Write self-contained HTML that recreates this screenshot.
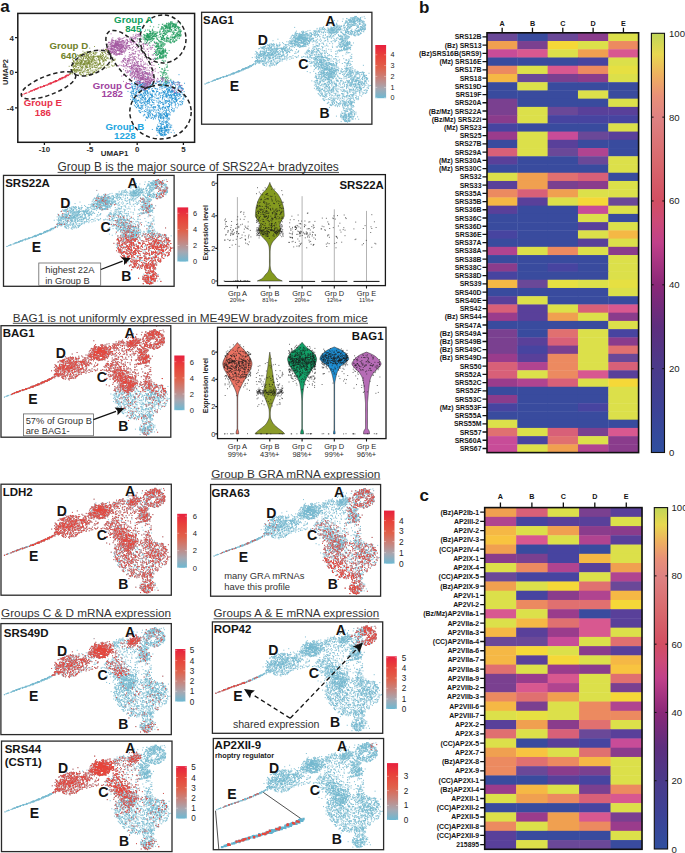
<!DOCTYPE html>
<html><head><meta charset="utf-8"><style>html,body{margin:0;padding:0;background:#fff;}svg{display:block;}</style></head>
<body><svg width="685" height="853" viewBox="0 0 685 853"><style>
text{font-family:"Liberation Sans",sans-serif;}
.hl{font-size:6.9px;font-weight:bold;fill:#141414;}
.hc{font-size:7.2px;font-weight:bold;fill:#141414;}
.panel{font-size:17px;font-weight:bold;fill:#141414;}
.cbl{font-size:9.6px;fill:#222;}
</style>
<defs><linearGradient id="cbg" x1="0" y1="1" x2="0" y2="0"><stop offset="0" stop-color="#2f4f9f"/><stop offset="0.1" stop-color="#3c4296"/><stop offset="0.2" stop-color="#4a3a8a"/><stop offset="0.3" stop-color="#5e2e7e"/><stop offset="0.4" stop-color="#8a2878"/><stop offset="0.5" stop-color="#c0408a"/><stop offset="0.55" stop-color="#cc4a78"/><stop offset="0.6" stop-color="#d24e62"/><stop offset="0.7" stop-color="#d86a6e"/><stop offset="0.8" stop-color="#de8282"/><stop offset="0.85" stop-color="#e89078"/><stop offset="0.9" stop-color="#eeb060"/><stop offset="0.95" stop-color="#e8d850"/><stop offset="1.0" stop-color="#c0d658"/></linearGradient><path id="dE0" d="M36.3 59.1h0m-20.6 7.1h0m2.6-0.8h0m6.6-2.2h0m-1.2 0.6h0m21.3-8.5h0m-6.6 2.7h0m-1.8 1h0m-15.1 5.6h0m-6.2 1.8h0m28.9-11.3h0m-14.2 6h0"/><path id="dE1" d="M42.3 56h0m-26.1 10.1h0m-5.8 2.5h0m1.4-1.1h0m22.3-7.5h0m-4.4 1h0m-7.7 3.4h0m21.4-8.8h0m-1.5 0.9h0m-5.1 1.6h0m-25 9.5h0m26.3-9.4h0"/><path id="dE2" d="M21.3 64.2h0m-17.9 6.9h0m13.6-5.3h0m20.5-7.7h0m-17.7 6.5h0m17.8-6.4h0m-5 2.4h0m7.5-3.6h0m-27.6 10.6h0m38.6-15h0m-0.6-0.3h0m-18.5 8.3h0"/><path id="dE3" d="M3.6 71.1h0m10.1-4h0m7.5-3.2h0m10.9-2.6h0m-3.7 1h0m21.3-9.1h0m-11.9 5.7h0m9-5h0m-37.5 14.9h0m35.9-13.5h0m-11.1 4.5h0m-2.6 0.9h0"/><path id="dE4" d="M43.1 55.7h0m3.4-1.2h0m-8.7 3.8h0m-14.3 5.2h0m7.9-2.8h0m5-1.8h0m-20.6 7.6h0m-10.3 3.7h0m14.3-5.5h0m6.2-1.9h0m15.2-6.4h0m-8.8 4h0"/><path id="dE5" d="M21.6 64.4h0m23.6-9.3h0m0 0.2h0m-6.4 2.8h0m8.1-4.3h0m-31.5 12.8h0m-8.9 3.3h0m10.4-4.2h0m27.6-10.7h0m-29.1 11.5h0m32.8-11.9h0m-4.9 2.1h0"/><path id="dE6" d="M19 65h0m21.8-8.6h0m6.5-2.5h0m-15.7 6.7h0m2.7-1.1h0m-7.6 3h0m23.1-9h0m-0.9-0.3h0m-33.5 13h0m26.5-9h0m0.2-0.8h0m-27 10.2h0"/><path id="dE7" d="M31.1 61.1h0m1.5-0.7h0m-19.3 7.2h0m34.4-13.5h0m-1.4 0.1h0m-2.5 1h0m-36.6 14.1h0m11.7-4.4h0m27.7-10.5h0m-18.3 7.5h0m1.3-0.4h0m-18.3 6.6h0"/><path id="dE8" d="M50.7 52.1h0m-4.2 3.3h0m1.7-2h0m0.3 0h0m-0.6-0.2h0m-36.6 14.7h0m10.9-4h0m15.5-5.2h0m2.4-0.6h0m-13 4.1h0m-5.1 1.7h0m26.5-11.2h0"/><path id="dE9" d="M36 58.6h0m-1.1 0.4h0m-19.8 7.6h0m26.2-10.2h0m-13.7 5.8h0m15.8-6.4h0m-7 3.4h0m-11.1 3.8h0m15.1-6h0m4.8-1.7h0m-5.2 1.7h0m10-4h0"/><path id="dE10" d="M17 65.9h0m8.7-2.9h0m11.1-4.7h0m-24.2 9.1h0m36.6-14.3h0m-17.4 7.4h0m-9.9 3.2h0m16.1-5h0m6.4-3.2h0m-18.8 7.3h0m-17.8 6.8h0"/><path id="dE11" d="M35.7 59.2h0m-22.2 8.1h0m11.6-4.3h0m18.9-7.3h0m-0.5-0.1h0m-36.5 14h0m36.3-13.7h0m-18.4 6.6h0m-0.1 0.7h0m15.4-5.9h0m6.7-2.8h0"/><path id="dE12" d="M6.2 69.9h0m19.1-6.7h0m-6.9 2.4h0m17.9-6.9h0m3.7-1.3h0m-35.1 13h0m37.2-13.9h0m-9.8 3.3h0m-0.7 0.9h0m12.9-5.5h0m-25.8 10.1h0"/><path id="dE13" d="M29.2 61.4h0m5.5-2.1h0m11.8-4.5h0m-15.4 5.4h0m-8.1 3.6h0m-4.2 1.7h0m-2.8 0.5h0m2.7-0.8h0m-3 1.1h0m9.9-3.5h0m-8 2.6h0"/><path id="dE14" d="M36.4 58.9h0m0.3-0.3h0m-3.7 1.9h0m-15.4 5.3h0m-1.3 0.2h0m17.4-6.3h0m3-1.3h0m-7.7 3.7h0m3.5-1.3h0m9-4.8h0m-10.4 5.4h0"/><path id="dE15" d="M30.6 60.9h0m-17.2 6.1h0m28.1-10.1h0m-17 6.6h0m-7.6 2.3h0m18-6h0m-24.6 8.7h0m31-12.2h0m5.8-2.2h0m-33.8 13h0m1.6-0.6h0"/><path id="dD0" d="M53.3 49h0m2.9 0h0m2.9-10.8h0m0.1 2.6h0m16.2-5.6h0m-9.4 4.8h0m7.9 2.7h0m0.3 2.9h0m3.5 3.4h0m-9-8.7h0m-1.1 5.3h0m-15.7 6.3h0m13.1-9.4h0m-1-6.5h0m-6.3 13.2h0m14.3-16.6h0m-11.2 16.3h0m9.5-9.4h0m-1.1-1.8h0m-0.4 12.9h0m5.5-2.1h0m-10-3h0m14.9-9.8h0m-1.1 12.9h0m-6.1-1.9h0m7.7-3.5h0m-3.3 0.7h0m-0.6-11.2h0m1.6 15.3h0m-19.5-12.1h0m4.6 6.1h0m-7.7-2.5h0m22.9 5h0m-8-3.2h0m14.6-0.4h0m4.7-3.1h0m-4.2-2.9h0m0.6 1h0m0.1 3.8h0m11-0.3h0"/><path id="dD1" d="M55.7 47.5h0m-1.5 1h0m14.9-2.5h0m-8.9-0.1h0m4.4-10.1h0m5.7 5.7h0m-1.9-6.7h0m2.8 5.1h0m-4 2.2h0m7.7-4.7h0m-19.9 3.1h0m16.7 6h0m-12-4.1h0m4.2 2.5h0m12.9-8.7h0m-18.8 11.5h0m13.3 2.5h0m-2.6-12.3h0m-8.5-1.8h0m5.8 7.2h0m16.8-7.7h0m-7.2 15.1h0m5.6-8.4h0m-1.3-5.4h0m4.8 7.5h0m-4-8.4h0m-6 2.6h0m-10.4 12h0m-0.5-3.2h0m-7.8-5.6h0m6.2 1.6h0m-2.8-0.9h0m2.1-1.4h0m16 5.2h0m-15.7-3.9h0m24.4-5.3h0m-1.9-0.3h0m5.7-6h0m-4.3 7.5h0m5.8 7.2h0"/><path id="dD2" d="M53.8 51.9h0m0.3-1.3h0m2.5-5.6h0m4.8-4.7h0m1.1 9.8h0m-4.5-5.2h0m16 1.3h0m-3.8-9.4h0m1.3 10.8h0m-5.1 0.7h0m2 5.7h0m15.5-15.7h0m2.2-1h0m-13.4 11.2h0m-0.9-17.2h0m9.9 4.7h0m-0.2-0.4h0m-8.4-1.4h0m-13.3 12h0m-2.5 0.1h0m12.2-15.1h0m-3 18.9h0m1.4-16.7h0m-10.3 16.5h0m5-15.7h0m12.5 1.6h0m-0.6 2h0m3.4 6h0m-8.6-5.1h0m-0.9 13.4h0m7.5-7.9h0m-12.8-3.6h0m-2.8-5.8h0m21.9 11.8h0m-12.1-4h0m19.2-10.7h0m-4.8 6.2h0m2.6-8.7h0m1.3 8.6h0m-0.5 6.1h0"/><path id="dD3" d="M51 51.8h0m3-3.9h0m8.4-9h0m9.8-1.4h0m2.2 1.1h0m-17 3.2h0m19.2-0.7h0m-20.2 6.7h0m13.5 0.8h0m18.2-2h0m-12.3-6.9h0m-22.3 1.8h0m13.7 3.3h0m-2-9.3h0m1.6 9.1h0m-4.6-10.1h0m2.2 18.8h0m4.7-11.7h0m-2.4-0.3h0m12.5 4.1h0m-11.7 7.7h0m3.7-10.9h0m-9.8-6.6h0m-4.1 6.7h0m1.6 1.4h0m11.7 2.4h0m2.2-5.4h0m-12.9 0.7h0m2.4-5.3h0m10.6 16.5h0m2.1-20.3h0m-4.7 8.5h0m-7.6-1h0m13.3 6.1h0m-15.7-6.9h0m23.1-2.7h0m-2.6 0.7h0m0.5 3.2h0m3.3-0.8h0m0.9 3.9h0"/><path id="dD4" d="M53.9 50h0m-0.5 1h0m21.1-13h0m-3.7-1.2h0m-11.2-1.6h0m4.3-1.9h0m-6.4 15.9h0m10.9-5.7h0m-7.6-0.5h0m8.4-0.1h0m7.1 6.9h0m-17.7-7.7h0m14.2-6.4h0m-11.2 3.7h0m-0.8 1.3h0m19.1 3.4h0m-12.1-10.5h0m12.3 1.7h0m-19.3 12.6h0m15.5-8.7h0m-2.8-2.4h0m5.1 7.1h0m3.3-4.7h0m3.9 1h0m-15 4.4h0m9.5 2.4h0m-11-15.5h0m6.1 19.1h0m-6.8-11.1h0m6.4-6.3h0m-16.7 7.2h0m3.9 4.4h0m0.4 7.9h0m-3.3-3.8h0m7.1 0.4h0m26.1-16.3h0m-8-0.9h0m-7.2 2.1h0m19.6 4h0m-2.4 6.2h0"/><path id="dD5" d="M54.7 47.9h0m-2.5 3.2h0m27.1-15.5h0m-22.3 0.6h0m8.4 6.4h0m4-0.1h0m-4.9-11.5h0m-9.6 12.7h0m12.9 2.2h0m12.5-7.4h0m-14 2.3h0m0.6-7.9h0m1 13.6h0m-8.4-0.2h0m13.9-2.8h0m-1.8 1h0m-1.6-12.3h0m8.3 3.4h0m-16.1 6h0m5.8 7.3h0m9.5-13h0m-16.7-1h0m-3.4 9.9h0m14.9 7h0m-5.3-4.1h0m7-10.4h0m-5.8-1h0m-5.6 5.1h0m6 9h0m1.1-15.8h0m-6.1 14.7h0m-1.4 2.6h0m19.3-9.3h0m-21-3.8h0m4.9-6h0m14.8 5.5h0m1.5-3.4h0m-0.3 6.3h0m8.6 4.5h0m6.7-2.6h0"/><path id="dD6" d="M54.8 47.9h0m10.2-10.4h0m6.2 2.7h0m11.4-3.2h0m-14.9 4.7h0m-0.9-1.3h0m3-5.8h0m-6.9 4.7h0m12-6.1h0m-13.8 11.2h0m17.4-2.5h0m-9-7.3h0m1.2 7.4h0m-9.4-7.6h0m-2 14.7h0m-3.8-9.2h0m14.4 2.4h0m5.9-5.1h0m-5.6 14.1h0m-10.5-3.8h0m-1.4 2.8h0m11.7 0.4h0m-9.1-8.6h0m21.3-5.6h0m-14.2 4.2h0m4.7-8.4h0m-8.8 1.6h0m5.1 15.2h0m7.2-4.2h0m-13.4-8.2h0m9.1 1.7h0m7.2-2.2h0m-9-0.3h0m-13.3 6.8h0m27.4-9.5h0m3.2-0.1h0m0 3h0m-4.2 1.6h0m11.5-0.7h0m2 1.8h0"/><path id="dD7" d="M56.4 48.8h0m31.6-12.5h0m-24.7 9.8h0m7.1-4.7h0m-10.7 2.5h0m4.8-5.5h0m-6.8 3.3h0m-7.1 3.2h0m11.2 0.4h0m9.3-7.9h0m2 1h0m-2.4 2.5h0m9.1-4.9h0m-6 4.2h0m-15-1.2h0m15.5 12.5h0m-4.8 1h0m5.3-1.7h0m-12.5-2.1h0m14.3-7.5h0m-10.4-6.1h0m4.4-3.1h0m5.3 18.3h0m-13.7-14.9h0m2.9 7.7h0m10-0.3h0m1.3 6.9h0m-14.8-2.1h0m6.3-14.1h0m-10.6 14.8h0m8.1-2.1h0m-1.7 0.9h0m19.1-1.8h0m-4 1.2h0m3.1-4.9h0m5.4-12.2h0m1.7-0.4h0m-1.5 7.3h0m8.6 8h0m-5.3-6.2h0"/><path id="dD8" d="M55 48.5h0m25.1-12.5h0m-12.1 9h0m1.8-3.1h0m-0.2 5.9h0m-3.8-7.7h0m12.2-2.2h0m-2.1 4.1h0m-14.2-5.5h0m-7.6 2.3h0m31.2 7.1h0m-19.3-3.6h0m2.6-2.8h0m2.8 2.3h0m-8.3 4.2h0m17.3-2.8h0m-22.6-0.5h0m12.5-3.3h0m-5.1 12.7h0m16.2-13h0m-12.4-1.3h0m-2 2.4h0m10.7-7.3h0m-4.2 12.4h0m-12.2-7h0m11.7 2.1h0m-10-5.6h0m11.9 5.5h0m-6.8 12.4h0m-2.1-20.6h0m14.5 4.3h0m1.9 9.9h0m-14-11.4h0m-10.2 13h0m25.5-11.7h0m5.1-2.4h0m-4.8-0.4h0m7.7 0.2h0m-5.8 8.3h0m-0.8-1.5h0"/><path id="dD9" d="M52 51.5h0m15.9-17.3h0m-1 3h0m15.3-3.5h0m0.6 4.1h0m-14.9-1.4h0m4.6 12.9h0m-8.7-6.2h0m13.3-0.9h0m-4.3-4.9h0m0.9 6.7h0m-10.1-3.7h0m14.3-9.9h0m-4.5 10.5h0m-18.6 5h0m13.1-14.2h0m12.9 11h0m-18.1-8.6h0m3.4 9h0m1.3-5.2h0m4.8 9.3h0m0.4-3.6h0m-3.9-1.3h0m-12.4 2.8h0m1.6-1.7h0m3.8 5.6h0m10-15.6h0m-12.7 8.9h0m-1.7 8.4h0m18-15.1h0m-20.3 6.8h0m26.2-2.8h0m-21.4 2.1h0m-1.3-2.3h0m25.4-4.5h0m5.4-3.9h0m-7.5 0.1h0m4.4 6.3h0m5 5.5h0m2.2 0.9h0"/><path id="dD10" d="M51.9 51.4h0m14.7-4.3h0m1.2-4.7h0m-12.5-1.9h0m7.2 2.7h0m8-1h0m10.3-3.7h0m-9.5-10.3h0m0.5 10.7h0m-4.2 4.3h0m-14.1 5.6h0m1.9-3.7h0m7.3-4.2h0m15.9 0.6h0m-4.9 4.5h0m-15.3 3h0m18.9-6.6h0m-15 4.2h0m20.2-3.2h0m-0.3-7.9h0m-7.5 16.6h0m8.6-16.4h0m-11.6 15.4h0m-16.7-5.6h0m9.4 5.5h0m5.1-3.2h0m-4.5-4.7h0m11-9.2h0m5.3 6.1h0m-2.8 0.1h0m1.3 3.6h0m0.6-4.6h0m-18.4-5.1h0m4.8 1.5h0m21.5-6h0m-1.2 1.7h0m2.6-0.9h0m0.9 3.9h0m-2.6 5.6h0m-0.8-0.9h0"/><path id="dD11" d="M53.9 48.6h0m6.1 0.6h0m14.9-13.1h0m-15.9 11.8h0m4-8h0m3.9 0.4h0m-1.7-3.5h0m2.9 7.9h0m8.1-5.8h0m-3.3 0.4h0m-5.4 5h0m17.5 3h0m-10.7-3.9h0m-2.3-0.3h0m-8.6-3.4h0m17.5 6.6h0m-19.3 4.8h0m-4.3-2.4h0m11.7-4.2h0m6.4-5.5h0m-6 9.4h0m-2.3-3h0m-2-7.5h0m12.7 6.2h0m2.2-7.5h0m-16.8-2.2h0m-6.9 6.6h0m-0.2 3.3h0m22.7-5.3h0m-8.3 2.1h0m-15.4 2.1h0m6.7 0.3h0m4.4-1.7h0m3.8-3.1h0m11.9-2.2h0m3.9 3h0m-2.1-1.3h0m4.8-7.4h0m-1.4 8.1h0m7.7 6h0"/><path id="dD12" d="M56.1 47.7h0m13.9-11h0m-3.7-2.3h0m7.5 1.7h0m-6.9 1.4h0m4-4h0m-7.3 11.7h0m12.1 3.1h0m0.3-12.5h0m-4.6 1.3h0m2 2.1h0m6.1 3.4h0m-1.9-10.3h0m-20.6 11.8h0m12.2-11.3h0m-2.7 2.9h0m-7 8.1h0m24 2.4h0m-21.7-11.1h0m9.1-2.7h0m3 17.7h0m9-6h0m-12.4-6.1h0m0.7-6.3h0m4 18.4h0m-3.8-5.4h0m-8.2 3.7h0m-0.9 2.2h0m2.5-7.2h0m3.3-6.8h0m6.7 8.8h0m-9.4 3.8h0m-3.3-7.9h0m12.6 0.6h0m9.6-6.9h0m5.6 2.4h0m-2.1-2.6h0m-1.8-2.7h0m0.3 12.9h0m7.3-5.7h0"/><path id="dD13" d="M54.7 50.3h0m9.4-9.4h0m8.3-5h0m-15.1 7.2h0m15.8-2.7h0m-0.8 1.8h0m-0.6-0.5h0m6-0.5h0m-15.6 3.4h0m2.5-6.5h0m-8.8 8.8h0m9.1 2.8h0m9.1-10.5h0m-7.3 4.2h0m-7.6-2.6h0m21.8-3.1h0m4.1 2.2h0m-23.4 12.4h0m19.3-5.6h0m-13.6-14.1h0m13.2 15.7h0m-10.5 1h0m5.4-12.9h0m-12.6 16.3h0m2.4-8.3h0m-2.5 3.8h0m14.5-15.6h0m3.9 10.5h0m-22.3-2.8h0m20.2 7.9h0m-12.5-12.3h0m12.1-3.6h0m-15.1 8.5h0m10.9-5.2h0m12.5-3.3h0m-1.6 1.7h0m5.4-2.3h0m-1.1-0.6h0m5.9 8.5h0m-5.5 4.7h0"/><path id="dD14" d="M55.9 47.2h0m11.6-7.5h0m-13.1 5.5h0m21.8-18.5h0m-6 14h0m0.9 2.5h0m4.3-6.6h0m-3.7 8.3h0m-7.9 1.5h0m13.5-6.7h0m-14.9 2.3h0m5.6-0.2h0m-4.1 3.9h0m0.7-6.3h0m18.4-1.4h0m-19.6 5.7h0m-8.5 0.1h0m27.4-1.5h0m-12.5-8.2h0m-0.2 1.1h0m-13.4 14.8h0m14.9 2.4h0m11.4-18.3h0m-25 11.5h0m10.9 0.3h0m-3.6-6.6h0m7 1h0m-10.9 11.1h0m2-13.8h0m12.2-0.6h0m9.3 1.4h0m-26.3 3.7h0m15.2-0.7h0m4 4.5h0m12.7-11.7h0m-6.7-2.2h0m6.2 4.7h0m-2.7 2h0m6.2 2.2h0m-4.4 3.2h0"/><path id="dD15" d="M55.8 48.6h0m5.9-6.4h0m13.7-9.1h0m-4 3.1h0m-9.6 3h0m1.3 2.9h0m5.8 3.3h0m-4.6-2.5h0m5.2-5.5h0m-7.1 4.5h0m1-0.3h0m2.9 1.4h0m-7.3-8.5h0m13.5 0.1h0m-11.6 14.2h0m-7.5-4.4h0m19.2-12.7h0m-3.8 4h0m2.6 9.1h0m-7.1-5.8h0m-5.7 0.3h0m2.2-3.5h0m-4.6 13.9h0m2.3-7.1h0m26.8 0.1h0m-16 0.3h0m-5.2 7.7h0m13.9-4.7h0m-4.1-6.3h0m-8.2 2.1h0m11-0.2h0m-6.3 10.8h0m-9.3-1.7h0m13.6-19.2h0m9.4 12.6h0m-0.2-12h0m8.7 2.8h0m-4-4.5h0m-0.9 9.1h0m6.5 1.2h0"/><path id="dC0" d="M101.2 26.6h0m-3.9-3.7h0m-1 6.4h0m14.3 0.1h0m-12-4.3h0m4.6 3.7h0m-11.3-3.8h0m6.5 9.4h0m0.8-10.3h0m2.8 0.9h0m-0.3 3.5h0m-0.6-7.7h0m-8.3 1.8h0m2.5 4.2h0m0.3 5.7h0m4.1-10.3h0m0.1 3.6h0m-6.9-10.8h0m-0.4 16.1h0m4.7 0.6h0m7-9.2h0m-11.3 2.7h0m-3.3 4.2h0m8.6-3.8h0m-3.1-2.3h0m6.7-4.3h0m5.2 9.9h0m-12.6-6.3h0m9 11.2h0m11 17.2h0m2.7 0.6h0m0.1-6.9h0m15.7 11.2h0m-3.7 7.6h0m4.6-13.8h0m-22.4-0.4h0m9.5 11.9h0m-14.6-20h0m3.7 8h0m3.3-3.8h0m12.2 7.9h0m-2.5-6.2h0m-5.9 8.4h0m9.9-4.1h0m7.4 3.6h0m-5.4 4h0m-4.3-2.2h0m-10.5-24.3h0m23.3 16.9h0m-32-8.9h0m24.5 14.2h0m-3-8.5h0m-0.6 6.6h0m2.5 11.3h0m-18.1-25.4h0m5-9.3h0m-1.7 10.7h0m-8.6 3.3h0m16.3 3.2h0m1.7 8.9h0m-2-17.2h0m2.5 12.5h0m-1.5 5.6h0m-11-11.3h0m0.6-16h0m5.1-6.4h0m10.2 19.2h0m-6.3-17.1h0m15.1 22.9h0m-16.6-5.9h0m-4.6-4.7h0m0.7-13h0m5.2-6.9h0m-5.3 2.3h0m5.4-2.8h0m23.5 42.1h0m-15.1 2.1h0m-9.2-3.2h0m6-1h0m33.9 12.2h0m-3.4 0h0"/><path id="dC1" d="M111.2 25.8h0m-6.3 0.9h0m-4.5-4.1h0m1.4 3.3h0m-0.4-3.2h0m-3.6 4.3h0m4-6.8h0m-2.1 3.5h0m-6.2-1.2h0m6.4 4h0m5.6-4.7h0m1.5 4.4h0m-14.4 3.2h0m-3-1.7h0m20.4-0.7h0m-3 1.8h0m-4.6 0.2h0m-6.1-2.6h0m-1.8 3.5h0m8.7 0.4h0m0.9 1.4h0m-10.8 0.9h0m2.3-6.8h0m5 0.3h0m3.4-6.8h0m1.9 10.9h0m-5-3.9h0m-7.2-6.5h0m4.7 11.5h0m30.7 20h0m-17.5-13.3h0m8 16.9h0m5.4 0.1h0m0-4.3h0m9.4 1h0m-12.9 5.7h0m2.3-13h0m-4 3.4h0m11.8 3.3h0m-2.9 5.8h0m-4.6-0.5h0m3.1 3.8h0m-7.1-17.5h0m-12.7 6.5h0m13.8 2.7h0m4.3-4h0m3.9 3h0m-2.1-4.3h0m-10.8 5.5h0m7.9-0.1h0m-7.9-10.5h0m-4 15.3h0m8.3-1.2h0m-3.1-8.6h0m12.3 17.4h0m-9.9-15.7h0m-6.1-19.8h0m0.8 12.6h0m5.5 9.1h0m-2 6.7h0m-2.1-9.5h0m-4.8-15.6h0m-2.1 8.5h0m3.7 6.2h0m12.3-27.4h0m-7.9 18.9h0m18.4 1.9h0m-6.4-14.8h0m-13.9 7.4h0m-0.5 0.4h0m10.9-6.5h0m-4.1 5.1h0m-10.3-12.2h0m7.7-2.7h0m-4.2 5.5h0m12.7 35.2h0m-4.5-0.2h0m24.8 0h0m-20.1-0.3h0m36.6 9.4h0m-7.3 1h0"/><path id="dC2" d="M95.8 29.8h0m9.5-4.3h0m-6.1 0.1h0m11.7 0.1h0m-12.8-2.8h0m-1.7 10.5h0m3.2-4.3h0m-0.2-6.4h0m8.8-2.6h0m-12.6 11.5h0m11.4-9.8h0m-9.2 2.4h0m14.2-3.5h0m-12.5 3.2h0m5.8-0.3h0m-8.2 6.4h0m3.2-6.1h0m4.5 3.9h0m-4.2-7.6h0m2.1 13.5h0m-4.9 1.1h0m4.3-6.1h0m7 0h0m-4.5-2.6h0m-13.7 3.1h0m18.2-4.9h0m-5.6 2.1h0m-2.8-0.8h0m19.9 14.9h0m-7.5-6.5h0m15.1 24.7h0m6.4-0.4h0m-21.4-7.3h0m8 5h0m-13.8-16.4h0m7.3-3.8h0m7.8 11.7h0m-12.8-7.3h0m-0.5 10h0m16.6 11.3h0m-25.9-17h0m29.5 16.6h0m5.9-4h0m-0.9-6.2h0m-6.4 3.5h0m-18.7-9.5h0m11.3 7.3h0m2.8-11.8h0m11 17.5h0m-32.7-14.1h0m20.9 11.5h0m-5.9-4.6h0m13.2 8.6h0m-4.7-7h0m-14.1-11.5h0m-4.7-3.4h0m8.3 8.4h0m-0.5 9.7h0m-2.3 3h0m21.8-14.6h0m-19.4 2.1h0m-3.8 4.3h0m2.2 3.1h0m6-26.9h0m16.5 11.8h0m-9 4.7h0m-9.9-20h0m9 1h0m-2.1 1.2h0m5.7-1.4h0m-7.8 6.7h0m1.8-4.4h0m-14.1-5.5h0m4.8-0.2h0m9.2-2.6h0m13.9 40h0m-0.4 1.3h0m2.9-1.5h0m-21 1.2h0m41.5 1.2h0m-0.3 1.8h0"/><path id="dC3" d="M94.2 31.6h0m12-3.2h0m-18.2 2.3h0m11.2-3h0m3.9-1.5h0m-1-4.2h0m-4.4 5.7h0m-1.9 0.9h0m12.1-1.4h0m-14.8 4.7h0m8.5-1.5h0m-6.8-7.2h0m9.7 3.3h0m-7.5 7.3h0m2.3-6.2h0m-2.9 3.6h0m0.1 1.9h0m6.1-6.4h0m-8.3-1.2h0m9.7 2.8h0m-1.6 2.6h0m-7-9.9h0m10.9 10h0m-2.2-7.3h0m-0.8 6.4h0m-4.5 3.4h0m5.7-12.4h0m-0.3 7.8h0m0 15.7h0m24.1 7.8h0m-11.9 4.5h0m1.6-25.7h0m10 32h0m-9.9-14.4h0m8.6 8.9h0m-10.7-19.6h0m-0.1 8.8h0m0.4 6.8h0m-2.6-7.9h0m5.6 4.1h0m-9.5-4.5h0m-9.4-0.9h0m34.3 6.4h0m-26.7-6.5h0m12.5 0.1h0m6.2 22.2h0m-8.7-17.4h0m9.8-3.4h0m-14.2 9.7h0m-0.8-16.3h0m14.6 23h0m4-10.2h0m-8.7-3.6h0m-3.1 1.4h0m-1.3-3.8h0m-7.2-6.6h0m7.4 14.5h0m-13.1-0.7h0m9.1-2.7h0m10.6 3.6h0m-1.4 2.6h0m-10.3-4.2h0m6.1 5.5h0m6.2-17.2h0m-4-18.1h0m-2.1 4.9h0m-9.4-0.6h0m7.2 8.8h0m20.6-1.8h0m-24.9-0.2h0m4.8-9.7h0m15 3h0m-15.9-8.2h0m-3.8-0.8h0m4.4-1.4h0m21.6 41.9h0m-14.9-2.9h0m3.7 0.2h0m-7.3-0.7h0m41.8 7.1h0m1.8 2.5h0"/><path id="dC4" d="M105.3 23.4h0m-1.8 4.2h0m-1.5-3.1h0m-0.1 6.7h0m-3-3.2h0m1.1 1h0m-5.4 3.2h0m1.8-6.8h0m0.5-2.7h0m7.4 2.6h0m-1.7-2.8h0m-5.9 4.5h0m-3-0.5h0m-1.1-2.6h0m0.7 0.1h0m4.6-0.1h0m0 1.8h0m5.9 5.3h0m-9.2-7.9h0m3.1 0.9h0m6.5 10h0m3.2-3h0m-10.4 3.1h0m-0.4-7.3h0m7.7 2.5h0m-6.7 2.9h0m-2 0.6h0m13.9-9h0m11.3 22.5h0m11.7 11.5h0m-3.2-0.4h0m-9.6-2.8h0m-8.1-5.6h0m21.1 11.2h0m-0.6-13.6h0m-12.3 2.9h0m3.1 4.3h0m0.7 12.9h0m-4.7-17.1h0m4.3 6.9h0m2.6-10.5h0m-11.2 2.2h0m1.6 3.2h0m3.1 8.4h0m-1-12.3h0m-12.8-9.7h0m20.6 27.4h0m-12.5-18.9h0m21 5.8h0m-27.8-13.3h0m14.7 8.6h0m7.4 12.9h0m0.3-9h0m-8.7-1.6h0m0.8-2.4h0m-7 7.5h0m3.3-2.8h0m0.3-2.1h0m2.5-12.1h0m-10.9 1.9h0m-0.3 8.8h0m9.2 0.8h0m-2.4-4.3h0m-1.8-14.6h0m11.9 3.2h0m1.9 9.3h0m1.4-4.1h0m-7.8-18.4h0m-0.1 10.4h0m-7.8-7.9h0m22.5 21.2h0m-13.8-15.5h0m-9.9-6.9h0m-2.9-1h0m5.3-1.8h0m21.6 38.4h0m-13.3-1.9h0m-3.4 5h0m24.2-4.5h0m17.7 4h0m-1.5 9.2h0"/><path id="dC5" d="M96.4 27.7h0m5.3-0.7h0m-8.1 6h0m7.1 1h0m-3.4-12.8h0m5.8 11.4h0m2.2-6.3h0m3.3 1.7h0m-2.7 3.7h0m-10.5-5.3h0m0.2-0.9h0m2.1-3.9h0m0.2 2.7h0m-1.8 7.2h0m3.7-6.2h0m-2.7-1.2h0m10.6 4.9h0m-13.9-3.2h0m9.3-0.8h0m-3.8-3.2h0m3 11.7h0m-1.5-12.5h0m-2.1 13.1h0m9.8-10.5h0m-7.8 7h0m-2.9-6.9h0m-0.6 8.6h0m10.7-7.8h0m8.1 28.9h0m16.4-1.6h0m-3.6-1.1h0m-10.1 15.4h0m6.1-15.1h0m0.9 6h0m2.4-5.4h0m-4.1-0.9h0m-9.2-4.3h0m5.4 24.8h0m5.2-18.6h0m6.6 8h0m-1.9-7.5h0m-12.4 1.1h0m11.2 6.4h0m1.1 2.4h0m-0.2-7.4h0m-4.7-0.6h0m2.6-0.9h0m-14.9-9h0m14.7 21.2h0m-10.3-15.6h0m9.1 2.3h0m-14.8-7.4h0m21.7 13.4h0m-14.8-9.3h0m5.8-1.4h0m4.6 3.4h0m5 6.1h0m-13.6-7.2h0m-5.1-0.6h0m1.9-6.4h0m13 11.9h0m-10.3-6.4h0m12 8.9h0m-16.4-21.6h0m11.6 0.3h0m-6-1.7h0m-1-1.2h0m-1.3 7.5h0m-4.1-13.7h0m8.7 5.9h0m10.2-4.5h0m-5.3-4.3h0m-9.7-5.9h0m-5.1 1.9h0m0.5-0.3h0m31.5 37.3h0m-22.2-1.2h0m5.8 0.5h0m-6.9-0.6h0m41.2 12.2h0m-6.4-0.9h0"/><path id="dC6" d="M99 23h0m2.3 6.8h0m0.2 0.1h0m-6.1-0.1h0m7.3-2.8h0m3.5-3.7h0m-16.3 1.1h0m14 3.2h0m-9.4-1.3h0m7.9 2.4h0m-2.4 1.9h0m-2.4-7h0m10.6-5.6h0m2.3 7.8h0m-16.2 3h0m6.3-1.9h0m1.4-2.3h0m-8.6 8.9h0m7.8-8.9h0m-3.3 2h0m9.9 2.1h0m-5.9-5.8h0m6.3 2.1h0m-0.3-1.7h0m-3.1-2h0m-10.2 0.3h0m14.5 6.2h0m-6.1 3.9h0m29.4 23.7h0m-12.2-5.4h0m10.1-5.8h0m-24.8 3.5h0m2.5-3.5h0m7.9 2.6h0m15.3 9.2h0m9.3-5.2h0m-16-11.2h0m-2 16h0m-16.9-3.1h0m7.1-10.3h0m19.2 17.7h0m-2 0.7h0m-12-21.4h0m9 25.4h0m-3.2 0h0m-17.9-11.7h0m2.3-13.9h0m21.2 7.3h0m2.8-0.4h0m-17.4 3.4h0m10.1 7h0m4.1 8.2h0m-19.6-21.7h0m-3.8 16h0m1.4-13.4h0m13.3-0.6h0m-10.9 6h0m21.5 1.6h0m-2.5 7.2h0m-14.2-17h0m3.2 11.5h0m2.5-9h0m6.1 20.8h0m0.3-36.7h0m1.1-4.4h0m-11.6 1.8h0m10.1-2.5h0m-11.8 10.4h0m9.1 4h0m4.9 8.7h0m-10-7.2h0m0.8-11.2h0m-1.1-8.9h0m-8.3 1h0m1.3 1.2h0m29.8 34.6h0m-14.6-1.1h0m-3.1 2.4h0m21-0.9h0m16.8 7.7h0m2.3 3.4h0"/><path id="dC7" d="M101.1 18.7h0m-3.1 14.4h0m8.4-9.7h0m-10.9 10.4h0m3.8-3.7h0m-1.1-8.1h0m7.4 9.7h0m-2.7-0.5h0m2.2-4.5h0m-3.5 3.1h0m-8.4-0.5h0m8.3 3.7h0m0.2-5.7h0m-6.1-1.7h0m3.2 4.8h0m0.5-5.9h0m12.5 1.3h0m-5.2 2.2h0m-6-4.4h0m-11.4 1.1h0m8.7 5.3h0m1.9-4.2h0m-0.1 8.1h0m-8.6-5.8h0m9.1-5.7h0m-2.2-1.7h0m-7.3 10.2h0m6.5-5.3h0m17.5 27h0m12.4 10.9h0m-0.9-20.4h0m-8.6 11.2h0m2.3 9.7h0m-11.4-19.7h0m-1.9-6.7h0m12.8 27.1h0m3.6-9.1h0m11.3-11.8h0m-17.6-0.1h0m15.5 10.1h0m-5.1 7.1h0m-11.7-11.1h0m-0.1 4.2h0m8.8 6.4h0m8.7 0.3h0m-3.8-3.7h0m1.3 4.6h0m-16.9-12.4h0m0.4-5.2h0m-1.5 8.7h0m13.8 2.6h0m1.2-5.3h0m2.2 7.3h0m-6.4-7.9h0m13 5.6h0m-16.4-4.6h0m2.8-5.7h0m-1.8-0.7h0m-2.1 2.7h0m3.2 0.3h0m12.7 3.2h0m-14.7-6.4h0m8 6.7h0m9-21.2h0m-20.9 8.6h0m14.6-4.3h0m4 0.7h0m-9.5 10.7h0m10.4-10.2h0m-5.5-5.4h0m3.6 16.6h0m3.4-8.2h0m-16.1-21.8h0m-2.9 0.3h0m-2.4 4.6h0m29.4 36.7h0m-24.3 0.5h0m13.4-1.9h0m-0.1 1h0m19.7 4.1h0m3.3 4.2h0"/><path id="dC8" d="M97 25.5h0m2.6 4.6h0m3.9-5.2h0m-5.7 1.7h0m7.3-5.1h0m-4.2 5.3h0m0.9 3.9h0m-1.2 2.4h0m8.8-10.4h0m-12.6 5.1h0m6.2 0.1h0m-0.5-3.1h0m-5.9 2.8h0m7.8-5.3h0m-5.1 3.1h0m-18.5 4.7h0m21.4-4.7h0m-8.7 2.8h0m6.2 0.4h0m-4.9 0.2h0m-0.9 0.5h0m7 4.4h0m-3.7-11.5h0m9.9 6h0m-9.1 4h0m-7.9-2.6h0m13-6.7h0m-0.7-3h0m22.6 29.7h0m-6.1 6.7h0m-2.4-14.2h0m-8.1 17.8h0m11.6-7.9h0m-1.3-1.8h0m6.3 1.1h0m2.5 5h0m-15.3-21.3h0m1.7 11.5h0m20 10.5h0m-12.6-2.7h0m-13.7-12.6h0m20 9.4h0m-5.5-2h0m-10.7-14.9h0m6.7 14h0m-6.5-11.7h0m13.4 16.5h0m-16.9-6.3h0m23.7 13.1h0m-15-15.9h0m-1.5 0.6h0m14.1 20.5h0m-10.3-24.4h0m6 16.3h0m3.3 7.3h0m-22.7-19.2h0m12.5 10h0m1.8-13.9h0m17.7 6.1h0m-14 0.7h0m-4 5.7h0m16.1 3.2h0m-26.6-3.5h0m13.9-10.7h0m-8.5-20.7h0m9.3 6.1h0m-7.2 10h0m6 0h0m-6.1-1.9h0m6.5 4.8h0m11.1-13h0m-8.5-2.3h0m-12.6-4.2h0m9.9-4.6h0m-6.2 1.2h0m14 40.7h0m-2.8-2.8h0m0.8 1.1h0m-3.2 4.5h0m27.6 1.2h0m-2.5-4.8h0"/><path id="dC9" d="M98.3 27.8h0m0.6-2.1h0m0.2 0.6h0m5.9 3.8h0m-8.5 2.6h0m16.9-8.3h0m-17.1 2h0m-1.8 0.1h0m7-4.9h0m-9.6 9h0m10.9 0.9h0m-12.5-8.5h0m13.8 3.2h0m3.7 4h0m-7.8-4.4h0m-10.1 3.3h0m1.5-6.1h0m6.9 4h0m1.1-2.2h0m7 3.6h0m-2.6-1.2h0m2.5-2.1h0m-12.7 1.7h0m-1.8-1.9h0m11.2 0.7h0m-7.8-4.2h0m12.3 4.8h0m-7.3-6.6h0m8.1 31.2h0m11-1.1h0m-1.1-2.1h0m11.3 12.8h0m-25-20.3h0m13.9 15.2h0m8.7-5.9h0m-3.8 15.4h0m1.8-12.7h0m6.4-1.3h0m-1.5 12.6h0m-6.1-9.5h0m-1.4 2.7h0m-0.7-11.6h0m-4.8 0.8h0m-2.7-4.1h0m-6.7-3.8h0m15.9 17.8h0m-2-10.7h0m6.2 11.7h0m4.8 0.9h0m-26.4-13h0m19.9 21.8h0m-5.6-11.2h0m-7.6-1.5h0m9.6 3.6h0m3-4.2h0m-0.4-7.9h0m4.7 15.6h0m-9-16.6h0m7.5 6.9h0m3.4-2.1h0m-6.1-2.3h0m8.8 6.5h0m-7.6 10.6h0m-14-40.8h0m4.3 10.5h0m-5.2-5.4h0m14.2 0.2h0m3.5 14.6h0m-6-14.7h0m10.5 13h0m-17.4-19h0m11.3 8.7h0m-18.5-7.9h0m2.8-4.9h0m1.8 0.4h0m11.7 39.9h0m-2.7 1.3h0m20-4h0m3.6 0.5h0m14.1 10.3h0m-10.3-7.3h0"/><path id="dC10" d="M93.6 29.7h0m16.1-6.1h0m-9.5 6.9h0m-6.6-4.2h0m12.7-3.7h0m-17.9 3.4h0m11.4 2h0m-7.6-1.5h0m17.6-4.5h0m-9.8 2.9h0m2.5 4.2h0m-11.2 1.5h0m10.8-2h0m-1.8 0.1h0m-4.5-3h0m9.7 0.7h0m-3.7 1.1h0m-2.9 1h0m-4.9-0.4h0m9.1 0.3h0m-10.3 3.8h0m13.7 0.4h0m-7.7 0.5h0m10.9-7.3h0m-15.2 5.9h0m-0.6-2h0m-0.4-1.3h0m-0.1 0.2h0m27.6 5.7h0m16 21.6h0m-16.5-1.2h0m-14.9-10.9h0m14.1 15.7h0m4.7-13.9h0m7.6 16.3h0m-18.9-16.7h0m17.9 17.6h0m-12.7-15.5h0m6.3 7.2h0m-2.2 6.4h0m-0.6-13.7h0m-17.2-7.8h0m11.3 10.7h0m-6-0.3h0m11.7-1.2h0m8.4 4.2h0m-10.3-7.4h0m1.2 7.9h0m-8.9-0.3h0m7.3-3.9h0m5.5 2.9h0m7.6 0.9h0m-6.7 6.8h0m10.4-5.4h0m-23-17.8h0m13.8 17.7h0m4 1h0m-5.5-10.7h0m-7.9 5.2h0m8 0.6h0m1.3-2.5h0m-16.7-6.9h0m0.4-1.5h0m20.3-8.2h0m-1.5-2.3h0m2-0.8h0m2.9 13.4h0m-19.2-8.5h0m0.2-2.8h0m8.4-7.7h0m-7.7-0.4h0m9 9.4h0m-3.1-17.2h0m-7.5 5.4h0m4.9-2.1h0m5.4 42.2h0m3.5-0.8h0m-2.8-3.5h0m14.5 0.5h0m21.9 5.5h0m2.4 0.9h0"/><path id="dC11" d="M98.2 24.4h0m-5.7 0.7h0m7.5 0.7h0m-7.6 2.4h0m0.7-2.9h0m6.2-3.4h0m-7 9.3h0m10.8 0h0m-15-3.2h0m17.8-0.1h0m-2.4 4.4h0m-7.9-4.9h0m-5.6 6.2h0m14.3-2.3h0m-0.6-3.2h0m-6.3-1.9h0m0.1-3.6h0m0.5 7.3h0m3.1-4.6h0m-7-0.9h0m-0.2 2.4h0m11.6 0.6h0m-13.6 0.9h0m2.2-7.1h0m8.9 4.3h0m-2-3.5h0m-12 6.6h0m5.2-8.1h0m33.2 29.3h0m-13.2 4.8h0m13.4 4.3h0m-5.7-8.8h0m12.8 6.9h0m-10.2 0.3h0m-12.4-10.5h0m17.1 14.7h0m-9.5-8.4h0m1.3-18.4h0m1.1 10.1h0m2.3 5.2h0m-20.7 3.9h0m23.1 2.1h0m0.1 5.2h0m-11.2-12.6h0m14.8 10.3h0m-27.3-18.2h0m27.4 19.2h0m-22.1-16.7h0m27.2 14h0m-0.5-6.3h0m-22-12.1h0m4.6 10.3h0m1.2 0.3h0m10.5 6.8h0m-10-6.2h0m8.1 4.1h0m-0.2 8.3h0m3.8-5.3h0m-12.9 3h0m0.5-8.3h0m9.1 10.3h0m-1.2 1.2h0m-13.1-19.2h0m21-18.2h0m2.4 11.5h0m0.5-13.4h0m-7.1 24.3h0m-13.2-17.1h0m13.6-7.6h0m4.1 4h0m-3.1 23.5h0m-14.3-23.5h0m2-12h0m-6.2 6.1h0m2-5.7h0m32.8 41.5h0m-7.8 2.1h0m-12.8-0.4h0m-3.4-3.7h0m31 11.4h0m2.5 2.3h0"/><path id="dC12" d="M91.8 23.5h0m7.4 10.9h0m-0.9-6.4h0m0.5-2.6h0m-2.8-4.1h0m-1.2 4.7h0m10.8-4.8h0m-9.5 5.9h0m3.9 6.3h0m-14.9-4.2h0m5.5 3.6h0m5.8-5.4h0m15.4 0.5h0m-16.9 3.7h0m10.1-12.3h0m-6.5 5.4h0m-6.6 1.9h0m8.7-1.4h0m4.3 4.6h0m-3 2.1h0m-0.5 1h0m6.9-6.5h0m-2.6-0.2h0m-5.6 1.7h0m7.5 1.9h0m-14.5-0.7h0m4.4-3.6h0m2.4 0h0m12.9 22.9h0m12.4 11.2h0m8.1-2.2h0m-22.4-21.7h0m13.5 27.1h0m-14.2-17.5h0m3.6 6.4h0m-9.7-10.1h0m-0.9 2.5h0m28.3 13.5h0m-4.1 1.2h0m-22-19.7h0m9.8 5.6h0m6.4 8h0m8.4-0.2h0m-4.1 1.9h0m-3.8-3.5h0m12 3.2h0m-8.3 0.9h0m-9-11.3h0m14.2 13.3h0m-14.4-4.5h0m3-5.3h0m12.5 14h0m-21.9-18.2h0m12.9 0.2h0m-5.4 0.9h0m1.2 8.6h0m-3.4-13.3h0m-3.7-1h0m3.1 13.2h0m5.5 5.8h0m-10-19.7h0m0.9 2.2h0m9 16h0m-1.1-34.2h0m-2 11.5h0m7.2 3.1h0m8.7-7.1h0m-18.7-1.4h0m2.1-5.6h0m7.4 22.8h0m9.2-17.3h0m-20.9 0.7h0m-4.4-6.9h0m10.4-6.2h0m3.5 0h0m24.1 40.3h0m-1 0h0m-23.7 5.1h0m39.6 5.7h0m-4.3-5.8h0"/><path id="dC13" d="M100.7 22.8h0m0.4 6.8h0m-6.5-4.1h0m1.2 0.2h0m3.1-3.8h0m2.2 3.7h0m-8.3 3.4h0m4.4-4.8h0m0.6 2.6h0m-5.1 4.8h0m5.3-5.9h0m8.2-2.9h0m-2.4-2.2h0m-6.7 3.5h0m0.1 1.3h0m-1.3-1.6h0m-3.3 7.2h0m6.1-6h0m0.3-2.4h0m2.6 10.8h0m6.4-7.7h0m-17.2-3.1h0m11.2 6.3h0m6.5-5.1h0m-0.2 3.6h0m-6-4h0m-0.9 10.8h0m-4.6-3.1h0m29.9 20.2h0m3.3 4.8h0m-8-3.1h0m8.1 6.6h0m1.4-1.4h0m-18.8-21.4h0m17.3 14.4h0m1.3 8.7h0m-0.7 0.1h0m-14.3-12.2h0m6.9 0.3h0m-7.4 1.9h0m0.9-11.8h0m8.2 24.4h0m1-5.8h0m-0.4 7.4h0m-16.2-22.7h0m18 15.6h0m-12.4-17h0m13.1 26.3h0m3.9-6.3h0m1.3-7.3h0m-25.1-10.4h0m6.3 4.8h0m7.2 7.4h0m5.7-3h0m-9-7.2h0m-12.1 8.1h0m10.9-10.6h0m-1.2 2h0m17.6 14.8h0m-10.9-7.3h0m7.3 10.7h0m-4.9-5.2h0m5.4-5.5h0m-14.2-14.5h0m5.7-17.3h0m1.6 24.7h0m2.1-17.5h0m9 19.8h0m-14.5-16h0m-8.6-3h0m17.7 9.5h0m-11.1-12.8h0m-1.8-4.7h0m5.5-2.5h0m-12.3 4.1h0m12.4 38.2h0m10.4-0.1h0m-9.4 0.2h0m39.5 7.6h0m2.7-0.1h0"/><path id="dC14" d="M100.5 30.2h0m-5.9-1.5h0m4.3-4.2h0m-2.9 4.5h0m-2.1 1.8h0m1.5-0.7h0m-0.7-11.4h0m-1.3 9.1h0m10.1 3.8h0m8.4-9.2h0m-18.5-1.6h0m3.8 3.1h0m1.2-0.2h0m1.5 1.9h0m0.2-0.9h0m5.5 0.7h0m1.6 10.1h0m-3.7-10.7h0m-7.6 1.9h0m-2-1.1h0m-0.4 3h0m9.5-4.2h0m6.3 2h0m-7.9-6.3h0m2.7 12.2h0m-8.3-6.4h0m-5.5 0.9h0m13.8 0.8h0m13.9 14.8h0m-1.7 11.2h0m13 3.7h0m-12.5-2.1h0m-1.7-11.4h0m5 8.3h0m12.6 8h0m-22.9-22.4h0m-2.3 11.1h0m5.8 2.1h0m8.8 6.9h0m-6.7-14.4h0m14.2 15.2h0m-9.8-16.4h0m-8.9 0.1h0m13.3 14.7h0m-2.3-5.5h0m-8.6-4.9h0m8 3.4h0m-1.5-5.7h0m-4.8 1.2h0m15.8 10.2h0m-0.2-1.4h0m4.6-5.2h0m-10.4 6.1h0m10-2.1h0m-22.4-1.7h0m8.4 4.1h0m4.3 0.6h0m-5.5-4.1h0m-9.8-12.7h0m14.6 25.5h0m-17.5-26.2h0m12.8 14.3h0m1.2-8.4h0m13-5.7h0m-4.2-13.2h0m-4.8 7.4h0m-10.7-8h0m22.8 6.3h0m-7.9 17.2h0m-6.5-8.2h0m1.9-2h0m-11.8-19.2h0m10-3.1h0m-5.5 3h0m-2-1.4h0m29.5 39.5h0m-22.3-1.7h0m6.4 3.3h0m27.3 0.6h0m-1.1 6.5h0"/><path id="dC15" d="M105.8 31.1h0m-1.7 1.2h0m-5.6-7.9h0m7.6-6.1h0m-10.1 8.6h0m0.4-1.7h0m7.3 1.1h0m-13 2.2h0m9.1 1.7h0m-0.1-4.7h0m-2.6-1.1h0m6.2-2.3h0m-6.2 8.4h0m-3.7-8.8h0m4 8h0m6.8-4.9h0m-0.6-1.2h0m-2.8 1.2h0m-8 3.5h0m10.5-6.6h0m-9 10.2h0m3.5-7.1h0m-4.5-1.3h0m6.6-4.3h0m-9.4 6.9h0m18 1.1h0m-11.3-2.3h0m5 3h0m30.1 28.4h0m-13.2-8.2h0m-13.7-8.5h0m21.2 6.4h0m-6.6 1.3h0m-11.3-4h0m20.3 18.4h0m2-3.3h0m-1-6.4h0m-3 8h0m-7.8-19.3h0m13.9 18.5h0m-11.2 4.6h0m1.9-10.4h0m3.4 12.1h0m-11.4-31.7h0m16.7 21.4h0m-17.1-1.3h0m12 2.9h0m-7.5-9.3h0m-7.4-5.4h0m0.9 5.5h0m5.6-4.3h0m3.3 10h0m1.5-1.5h0m-3 0h0m-1.7 1.1h0m10.4 1.8h0m-9.8 6.7h0m-5-22.6h0m15.6 22.8h0m-9.7-1.7h0m1.8-6.3h0m-3.7-9.4h0m9.7 18.4h0m-3.3-37.8h0m10.3 0.4h0m-14.9 11.1h0m-9.1-10.2h0m19.3 8.7h0m-13.1-3h0m16.8 15.8h0m-15.6-11h0m1.9-21.2h0m-3.2 2.9h0m2.4 1.6h0m1.5 0.4h0m0.4 40.1h0m8.4-4.2h0m2.1 3.2h0m16.8 3.3h0m6.6 2.6h0"/><path id="dA0" d="M134.7 15.2h0m1.9 1.8h0m-4.9-2.2h0m2.4 1.8h0m-1.3-2.4h0m-2.2 4.1h0m1-0.8h0m8.2-3.3h0m-8-1.5h0m0 4.2h0m4.2-2.4h0m-9.6 9.1h0m36.7-10.8h0m-19-3.8h0m16.2 7.5h0m-18.4-3.1h0m3 2.7h0m12.5-4.9h0m-2.6 2.4h0m5 3.2h0m-4-4.4h0m-8.3 2.3h0m9.3 0.5h0m-4.3 5.6h0m-4.6-12.4h0m-2.1 9h0m6.3-8.1h0m3.8 13.2h0m-2.8 0.8h0m6.3-15.4h0m-13.9 12.8h0m10-12.7h0m-4.6-2.9h0m3.9 1.5h0m2.8 1h0m-18.5 30.1h0m6-6.2h0m-5.1-6.8h0m5.2 1.3h0m-2 9.9h0m2.3-5.7h0m-3.6 0h0m2.3 6.8h0m-5.9-12.9h0m3.6 3.9h0m5.9 1h0m-3.7 8.5h0m-7.7-11.8h0m8.9 5.4h0m-2.4 22.4h0m5.2-4.9h0m2.2 9.6h0m-4.3-17.8h0"/><path id="dA1" d="M129.1 19.7h0m-1.3-1.6h0m1.7 2.1h0m-0.9 0.2h0m9.7-5.6h0m-1.9 2.9h0m-5.3-2.4h0m-10 8.1h0m11.9-3.3h0m-0.3 1.6h0m-1.3-3.2h0m-11.5 0.9h0m39.7-1.3h0m1.3-2.4h0m-3.6 3.4h0m-8-9.7h0m-5.9 5.1h0m4.5-2h0m11.3 2.8h0m-11.2-5.2h0m5.9 1.1h0m8.2 0.6h0m-2.2 2.2h0m-14.8-4.1h0m15.8 5.9h0m-5-0.5h0m-2.9-10.2h0m3.1 1.3h0m-6.3 7h0m0.1-1h0m5.1 9.1h0m-2.9-12.9h0m1.2 2.1h0m-8.1-4.5h0m12 2.2h0m-17.8 26.6h0m2.6-2.8h0m-0.8-4.1h0m-4.5-5.1h0m5.9 11.7h0m1.8-0.3h0m-4.6-7.8h0m-1 5.3h0m11.2 1h0m-11.9-1.7h0m5.1 2h0m-1.3 2.2h0m-2.8-12.5h0m4.1 9.6h0m6.2 26.9h0m-3.4-8.1h0m2.8 3.7h0m-4.1 6.8h0"/><path id="dA2" d="M133.2 20.1h0m-4.2-1.7h0m4.6 3.8h0m-10.6-3h0m6.8-0.8h0m1.1-0.6h0m4.4-3.6h0m-5.8 3.2h0m1.6 3.5h0m2.3-1.5h0m-9.8 3h0m9.5-9.5h0m14.9-4.5h0m1.3 11.2h0m9.5 1.3h0m-10.3-8.4h0m11.4 6.5h0m-0.5 1.8h0m2.5-5.2h0m-16.3-0.7h0m1 5.9h0m6-8.4h0m4.1 1.4h0m5.5 0.6h0m-5.6-8.2h0m-4.3 12.8h0m5-1.1h0m-1.6 2.6h0m-4.8-13.7h0m6.1 12.1h0m6-6.3h0m-19.4-2.2h0m5.5-5.1h0m2.6 0h0m11.4 0.8h0m-14.4 30.9h0m-5.1-8.3h0m2.2 8.6h0m-8.3-10.4h0m3.4-5.9h0m2.1 12.6h0m-5 1h0m2.8-3.8h0m2.5 6.2h0m-0.1-7h0m-2.4-3.2h0m1.2 10.4h0m2.6-17.3h0m3.7 40.6h0m0.8-4.3h0m-2-9.6h0m-2 8.9h0m-2.3 2.7h0"/><path id="dA3" d="M134.5 14.7h0m0.3-2.9h0m-7.1-0.2h0m1.8 4h0m0.4 5.6h0m9.4-8h0m-4.5-2.4h0m3.9 3.6h0m-3.9 3.3h0m1.3-4.5h0m-2.4 5.3h0m1.9 1.4h0m7.7-9.3h0m13-3.7h0m-6.9 4.6h0m8.9 8.6h0m-6.8-10.9h0m9.3 6.1h0m-3.2-4.5h0m-9.5-3h0m-1.4 11.6h0m-2.4-9.3h0m5.4 8.8h0m7.2 3.2h0m-8.2-0.8h0m9.5-5.6h0m-10.9-5.3h0m10.2-3.5h0m-11.5 7.7h0m8.5 1.4h0m-2.8-3.1h0m-5.9-3.5h0m8.6-5.3h0m4.2 1.1h0m-0.3 3.5h0m-14.3 25h0m-3.8-8.4h0m5 6.7h0m-0.4-9.3h0m6.8 7.7h0m-8.5-7.7h0m4.3 12.7h0m-7.9-11.7h0m-1.4 6.5h0m0.5-4.4h0m10.5 6.6h0m-8.3-7h0m1.7 6h0m6.7 20.4h0m-1.3-11.8h0m-1.2 8.7h0m2.7-3.3h0m0.8 8.5h0"/><path id="dA4" d="M130.6 17.5h0m6.6-3.1h0m-7.2 4.3h0m1.5-3.2h0m4.7 4h0m-1.9 1.7h0m-7 0.6h0m9.7-6.1h0m-7.1 0.8h0m10.3 0.2h0m-13.9 0.3h0m1.4 2.4h0m21 1.1h0m-1.7-0.7h0m0.3 2h0m16-4.7h0m-10-9.6h0m8.6 11.9h0m-9.2-13.2h0m-7.7 12.1h0m-1.3-7.6h0m3.8 11.1h0m4.8-8.7h0m4.3-6.8h0m-1.1 12.5h0m8.2-6.6h0m-4.6-0.3h0m-7.8-3.6h0m6.7 9.7h0m-9.9-2.3h0m-0.8-2h0m5-3.7h0m-11.1-3.4h0m19.9 3h0m-7.9-3.2h0m-9 18.4h0m-0.8 9h0m0.9 2.8h0m-0.1-13.7h0m4.2 12.6h0m-2.4-4.1h0m-2.4-11.1h0m-4 13.6h0m-1.9 4.7h0m8-6h0m-0.1 4h0m0-1.1h0m-2.6-2.5h0m2.6 17.3h0m-1.5-8.9h0m4.4 9.9h0m-3.5 1.6h0m1.7-2.7h0"/><path id="dA5" d="M123.9 17h0m14.9-0.8h0m-5.6 0.9h0m-4.1 6.4h0m4.5-9h0m-2.2-3h0m-1.2 4.4h0m-1.8 4.1h0m2-1.9h0m5-4.4h0m-6.4 5.4h0m-2.2 1.5h0m26-0.4h0m0.7-2.2h0m8.5-5.1h0m-14.4 2.6h0m15.3-2.1h0m-12.4 6h0m7.5-2.7h0m-9.2-1.5h0m13.3 1.5h0m-19.7-4.1h0m8.4 0.6h0m10.3-0.9h0m-8.1-3.8h0m3-1.4h0m-6.4 15.2h0m7-4.4h0m0.3-0.7h0m3.8-4.3h0m-2-6.2h0m-6.3-1.2h0m-3.6 1.5h0m-1.2 0.9h0m7-3.5h0m-9 27.9h0m0.4 3.2h0m-3.6-5.7h0m3.9 4.4h0m-0.3-5h0m-2.1-2.6h0m3.8 4.1h0m-5.1 2.6h0m-4 4.7h0m4.1-15.9h0m3.4 2.6h0m-4.4 11.1h0m3.9-7h0m-1.3 26.2h0m3.8 4.3h0m0.3-6.8h0m1.6 4.8h0m-1.8-0.8h0"/><path id="dA6" d="M134.5 11.7h0m3.2 5.4h0m-9 5.6h0m7.3-3.2h0m-4.5 0.6h0m1.4-4.2h0m-0.5-1.8h0m-2.7 7.6h0m4.7-3.9h0m1.4-0.4h0m-3.7 0.4h0m0.1 0.2h0m23 0.9h0m-6.1-13h0m1.7 1.3h0m0.8 1.9h0m5.9 2.7h0m-0.8-6h0m-12 10.9h0m10.4-9.4h0m3.5 9h0m-7.6-3.5h0m-4.2 6.8h0m-4.5-3.9h0m20-6.1h0m-7.7 6.4h0m0.9-10.5h0m2.8 5.8h0m-9-1.8h0m9.3 4.6h0m-12.4 2.5h0m11.4-8.6h0m-8.1 0.4h0m8.7-1.2h0m-17.8 26.7h0m1.3-5.6h0m-5.8 10.2h0m10.3-5.4h0m0.2-3.2h0m-1-5.4h0m-2.3 12.6h0m-1.1-5.1h0m2-6.4h0m1.9-2.3h0m-2.6 4.9h0m1.9 2.1h0m-4.6 7.7h0m-2.6-10.8h0m6.8 27.1h0m5.6 5.1h0m-4.8-8.7h0m0.8 4.5h0m0.5-4.1h0"/><path id="dA7" d="M136.3 16.7h0m0.2-0.8h0m-7.7 4.5h0m3.7-0.4h0m-0.4 5.9h0m-0.2-5.4h0m-2-9h0m6.2 4.7h0m-5.9 2h0m0.8 6.2h0m10.3-6.2h0m-2.8-1.5h0m11.3 4.3h0m1.3 1.1h0m12.3-5.6h0m-14.2-7.5h0m11.6 1.6h0m-10 10.2h0m7.4-14.7h0m1 4h0m-13.1 0.1h0m16.8 1.1h0m-1.4 2.7h0m-5.6 0.6h0m-10.3 2.2h0m6.4-6.3h0m-1.3 8.9h0m4.5-10.8h0m-4.7 3.5h0m-5.6-3.4h0m2.6 6.6h0m5.3-7.5h0m-1.6-1.5h0m-4.8 1.6h0m-8.6 24.3h0m1.7-2.6h0m-1 3.1h0m2.5-8.1h0m-2.8 1.9h0m6.5 9.7h0m1.7-0.1h0m-7.6-9h0m5.6 5.5h0m-4.3-12.3h0m3.8 5.7h0m-1 0.3h0m1.7 3.8h0m-4-3.6h0m3.9 13.2h0m0.5 7.9h0m4.9-2.1h0m1.2 10.4h0m-6.6-4.9h0"/><path id="dA8" d="M131.1 19.1h0m-3.2 1.4h0m1-5.8h0m7.3 4.8h0m-6.4-3.2h0m3.7-0.2h0m-4.7 0.4h0m6.1 1.6h0m-2.9-5.5h0m2.1 3.4h0m-6.5 0.9h0m11 0.2h0m23.6 0.8h0m-4-9.2h0m-4.9 9.9h0m0.6-12.7h0m-7.5 1.5h0m6 0.7h0m-3-2.4h0m2.6 4.3h0m-5.6 1.7h0m12.2-4.6h0m2.3 3h0m-7.1-4.7h0m-10.1 13.5h0m1.7-8h0m11 10.4h0m-13.9-6.1h0m13.1-5.4h0m-9.9 4.9h0m8.9 3.9h0m2.7-9.2h0m-7.3-0.4h0m12.3-4.6h0m-21.8 19.5h0m0.7 4.6h0m7.6 6.1h0m-10.6-10.6h0m4.7 4.6h0m5.1 6h0m-3.2-7.3h0m-8.9 6.4h0m3.5-8h0m-0.1 5.5h0m-0.8-1.4h0m5.5 1.3h0m1.1-7h0m0.2 6.7h0m-1.3 16.6h0m-1.4 2.5h0m2.3 5.9h0m1.6-15.8h0m0 10h0"/><path id="dA9" d="M134.6 19.9h0m1.9 2.1h0m-0.6-13.4h0m6.6 4.6h0m-4.9 4.5h0m-1.5-0.4h0m-1.3 1.7h0m-3.8 1.3h0m-3.8-3.7h0m6.1 3h0m6.2-5.6h0m-13.4 6.1h0m29.1-14.5h0m5.5 11.5h0m-11.1-3h0m4.4-1.7h0m1.9 2.7h0m-0.8 7.1h0m-11.1-13.7h0m8.8 1.9h0m3.5 8.2h0m7.4-5.6h0m-6.9 9.6h0m-7.2-4.4h0m8.2-6.4h0m-6.1 10.8h0m-2.9-9.1h0m9.1-4.5h0m-6 12.7h0m4.9-3.8h0m-3.8-8.3h0m0.4-5.4h0m3.7 5.4h0m-2-1.9h0m-13.8 25.7h0m1.2 1.8h0m2-10.7h0m-3.2 2.1h0m4 4.7h0m-3.5 4.1h0m-2-6.6h0m2.5 4.2h0m-3.1 2h0m1.4-7.4h0m5.8-1.8h0m2.9 7.2h0m-5.8-8.9h0m2.7 6.2h0m5.1 30.1h0m-4-12.8h0m-1.6 5.4h0m2.5 1.9h0m0.1 4.9h0"/><path id="dA10" d="M129.2 17.5h0m-7.6 2.5h0m6.1-0.1h0m4.9-2.9h0m-1.4-0.1h0m1.1 1.2h0m-3.5 5h0m2.2-3.6h0m-0.6-2.4h0m7.1 0.2h0m2.1 2.3h0m-6.9-6.7h0m29.9 4.1h0m-14.3-7.3h0m14.7 4.4h0m0.5 1.4h0m-5-8.7h0m4.4 8.2h0m-20.5-3.4h0m6.6-4h0m13.1 1.7h0m-17 7.6h0m13 0.7h0m-11.8 1.5h0m-0.3-7.6h0m7.3 5.8h0m-6.2-9.2h0m3.4 11.5h0m4.7-1.9h0m-8.7-6.8h0m13.6-2.4h0m-9.9-0.7h0m5.6-7.4h0m-4.1 6.4h0m-9.3 16.8h0m6.7-1.4h0m-5.4 9.4h0m-1.6-5.2h0m0.5-0.7h0m-5.8 7.4h0m6.5-8.2h0m-0.2 2.4h0m-2.9-1.2h0m3.6 6.7h0m3.8-1.1h0m-6.8 2h0m-0.8 3.6h0m2.5-1.4h0m5 17h0m-1.7 9.4h0m4-18.5h0m0.1-2.1h0m-1.7 16.3h0"/><path id="dA11" d="M131.7 22.9h0m3.6-10.4h0m-5 7.5h0m-16.8-0.8h0m20.8-0.1h0m-1.9-2.9h0m-5.5-3.3h0m0.2 6.3h0m2.5-3.6h0m9.1 4h0m-9.9-2h0m9.2-2h0m17.6 4.8h0m-9.8-8.2h0m14 2.3h0m-16.5 0.9h0m6 3.4h0m-2.7-4.8h0m12 3h0m-10.5-4.7h0m-0.9-0.1h0m6.6 11.1h0m-1.4-17.5h0m-5.9 6.9h0m9.3 1.6h0m-8.8 0.4h0m-1.5-1.8h0m-2.5 4.9h0m13.5-11.1h0m-11.4 10.2h0m7.3-10.4h0m8.8 2h0m-13.9-1.6h0m3.4 3h0m-11 26.8h0m0.6-13h0m-0.6 5h0m-0.4-1.4h0m3.7 9.3h0m-1.8-7.9h0m6.7 3.1h0m-4.1-3.2h0m2.4-7.8h0m-0.3 10.9h0m-6.2 6.5h0m7.1-6.5h0m-5.2-9.4h0m6.3 8.2h0m-4.1 19.6h0m1.3 1.9h0m2.6 7h0m0.7-15.6h0m0.4 2.4h0"/><path id="dA12" d="M135 13.5h0m-2.9 10h0m-1.6-7.1h0m1.6 2.7h0m2.8-3.6h0m-5.6 2.8h0m-7.8 7h0m11.3-10.5h0m2.2 2.4h0m-9.7 0.9h0m6-3h0m1.3-0.5h0m14.5 1.6h0m2.8-6.2h0m1.7 1.5h0m6-4.3h0m-12.6 5.9h0m3.3-2.6h0m7 2.9h0m-10.9-4.4h0m4.3 10.9h0m4.4-6.8h0m-8.5 7h0m3.7-13h0m-2.6 11.7h0m13-1.6h0m-7.7 1.7h0m0.5-7h0m1.6 10h0m-1.9-12.1h0m-6.5-3.5h0m7.1 3.9h0m1.5-6.1h0m2 1.4h0m-18.2 17.8h0m9.3 11.6h0m-4.9-4h0m2.9 2.6h0m-1.6-0.9h0m-0.4 0.2h0m2.8-2.9h0m0.4-3.4h0m-5.9 3.2h0m0.6 2.8h0m2.1 5.2h0m-0.7-6.2h0m-3.7 0.4h0m0.9-5.2h0m11.2 28.4h0m-1.4 3.7h0m-3.5-19.5h0m-3.3 6.7h0m-1-2.9h0"/><path id="dA13" d="M129.1 16.1h0m8.2-3.2h0m4.2 0.6h0m-11.8 7.9h0m4.6-2.3h0m-8.4-3.5h0m4.6 0.3h0m-1.4 0.8h0m-5.3 3.4h0m3.4-0.9h0m-0.6-1.2h0m5.6 0.2h0m24.9 0.6h0m4.3 0.1h0m-16.6 1.3h0m6-11.5h0m-8 8.6h0m6.1-8.8h0m11.1 6.8h0m-6.2-3.7h0m-3.7 0h0m7.8-0.1h0m-12 6h0m15.7-6.5h0m-2 6h0m1.1-3.5h0m-1.5 1.3h0m-6.6-3.6h0m-7.1 7.8h0m7.1 4.1h0m0-16.1h0m-0.9 0.6h0m7.7 0.7h0m0.7-3.5h0m-18.5 16.9h0m-3.2 1.1h0m0.6 10.4h0m6.2-0.2h0m-0.5 1.6h0m1.4 1.8h0m2-1.5h0m-1.5-11h0m-1.8 7.2h0m2.9 5h0m-7.1-2.1h0m4.6-0.6h0m-0.6 2.9h0m-0.4-3.8h0m3.6 25.9h0m5.4-1.5h0m-5.1-6.3h0m-2.1 6.1h0"/><path id="dA14" d="M131.5 18h0m7.6 0.4h0m-9.4-3.6h0m7.5-0.4h0m-4.7-6.3h0m5 6.8h0m-10.5 0.8h0m7.4-1.2h0m-6.7 9.3h0m11.3-6.8h0m-3.7-2h0m26.6 1.5h0m-18 1.7h0m8.9 4.4h0m0.4-2.3h0m0.8-0.3h0m-10-0.5h0m-1.9-4.1h0m13.4 3.2h0m1.5 0h0m1.3-11.8h0m-11.1 12.4h0m-1.8-0.5h0m13.2 2.6h0m-1.4-11.9h0m-8.3 8.7h0m7.6-4.7h0m4.6 3.8h0m-5.9 1.1h0m-6.2-9.6h0m3.6 0.5h0m0.5-4.9h0m-3.9 3.7h0m6.5 0.1h0m-15.4 23.5h0m8-1.4h0m-10.5 7.3h0m11.3-15.9h0m-6 11.9h0m4.5-9.2h0m-6.6 8.1h0m6.8-1.2h0m-3.2 5.9h0m3.7-1.8h0m-4.6-13.2h0m4 7.6h0m-6.6-8.3h0m5.5 9.3h0m0.5 31.6h0m3.2-13.5h0m-2.2 6.4h0m-2.6 0.7h0"/><path id="dA15" d="M140.6 9h0m-5.2 8.3h0m-7 3.1h0m11.4-0.4h0m-13.2-3.2h0m4.7 0.4h0m6.6-2h0m-3 5.7h0m-5.8-3.7h0m-2.7 1.2h0m3.8-1.8h0m24.9-8.1h0m6.9 7.9h0m-5.1 6h0m-6.8-3.3h0m-2.9-11.8h0m8.3 0.9h0m-5.5 8.6h0m10.2-7.6h0m-12.5 0h0m13.2 0.1h0m-8.1 11.3h0m10.4-4.4h0m-9.6-7.1h0m7 6.5h0m-16.5 3.4h0m4.7-4.9h0m1.7-7.2h0m3.8 4.4h0m3.5 10.4h0m-3.4-13.5h0m2.7 0.4h0m-6.5-2.6h0m7.7 2.4h0m-15.9 14.2h0m3.9 9.7h0m-2.9-11.6h0m-1.7 16.1h0m3.6-1.5h0m-4.6-6.5h0m6.4-3.8h0m-8.9 13.5h0m6.9-10.1h0m-1.3-8.3h0m-3.6 10.1h0m-1.3-6h0m-0.7 9.7h0m2.2-5.4h0m7.3 28.8h0m1.4 3.8h0m-2.5-12.4h0m-2.1-1.6h0"/><path id="dB0" d="M147.8 61.9h0m16.5 2.8h0m-33.2 0.7h0m28.5 10.7h0m-34.3-6.6h0m15.5-7.9h0m-13.8 28.1h0m37-17.1h0m-7.3-2.7h0m-28.5 10.2h0m16.9-1.6h0m-9.8-10.8h0m13.8 10.5h0m8.9 0.4h0m-28.3-2.1h0m27 9.5h0m-32.8-3.5h0m27.9-18.2h0m2.2-5.8h0m-22 27.1h0m23.4 0.1h0m-14.6 5.6h0m-5-23.4h0m15.7 8.7h0m9.7-17.2h0m-45.9 14.6h0m19.8 11.3h0m-15.1-26.4h0m33.9 25.7h0m-15.3-15.4h0m-7.2-5.4h0m-1.2 21.1h0m1.9-6.8h0m5.4-8h0m19.1 13.8h0m-14.5-19.6h0m9.9 16.7h0m-3.1-8h0m-2.6 0.1h0m7.2-1.6h0m-19.7 0.3h0m30.4-6.4h0m-34.1 23.9h0m4 2.4h0m3.1-20.6h0m13.7-0.1h0m-17.1 5.3h0m17.2-11.6h0m-17.5 6.2h0m-0.9-11.7h0m-7.8 5.3h0m-3-1.4h0m5.3 16.1h0m-5.1-17.1h0m2.4 9.3h0m3.3 23h0m34.1-31.7h0m-2 8.6h0m-10.9 0.2h0m8.6 6h0m-5.8-1.2h0m9.8-23.7h0m-6.3 21.8h0m-11.9 33.8h0m4-4.3h0m1.9-8h0m1.6 7h0m-6.1 5.1h0m-1.9-10.1h0m2.9 11.1h0m11.1-2.9h0m-13.1 0.4h0m-1.4 0.5h0m7.8-1.5h0m-5.1-15h0m-2 0.1h0m0-1.5h0"/><path id="dB1" d="M124.2 82.2h0m28.4-8.1h0m-1.4 5.6h0m-22.2 11.6h0m4.3 1.2h0m29.4-30h0m-47.5-0.5h0m29 3.6h0m-14.6 13.9h0m11.1 12.9h0m22.8-11.9h0m-12.2-8.5h0m-25-3.5h0m6.6-4.4h0m-5.2 4.1h0m22.7-1.7h0m-22.6 10.2h0m-7-0.6h0m45.4-1.7h0m-13.1-12.1h0m-31.9 6.6h0m17.5 19.9h0m10.3-25.8h0m3.4 11h0m-12.5-8.1h0m-12.6 5.9h0m14.6-9h0m-6.9 12.5h0m21-14.5h0m-28.4 12.9h0m17.9 6.4h0m-7.8 13h0m11.6-7.6h0m-15.4-4.1h0m19-10.6h0m-36.6 5.3h0m47.6 0.7h0m-2.5 3.5h0m-42.5-7.6h0m36.8-14.2h0m-17.7 23.8h0m9.7-14.1h0m-0.3 10.8h0m-3.5-19.8h0m-12.2 28.7h0m-11-6.9h0m5.7-6.2h0m-2.6 6.3h0m4 5.4h0m-4.9-26.4h0m0.4 1.5h0m-7.8 6.2h0m7.3-4h0m-1.6 8.4h0m6-5.2h0m-1.5 6.7h0m28.6-5.9h0m8.5 3.1h0m-0.7-0.5h0m-12.3 2.5h0m9.3-2.9h0m-13.6 1.2h0m18.4-2.2h0m-13.6 30.2h0m-1.5 4.9h0m-8.1-3.9h0m4.2 1.8h0m0.8-5.2h0m0.7 9.8h0m1.5-11h0m-3.7 8.4h0m2.7 3.2h0m-2.7-9.9h0m-4.3 6.4h0m6.3-11.7h0m-1.5-2.4h0m7.9 0.1h0"/><path id="dB2" d="M160.2 72.1h0m-13.5 13.1h0m20.8-12.3h0m-18.7 15.4h0m-17.7-12.9h0m22.7-1.8h0m4.3 8.8h0m-17-23.5h0m25.6 9.3h0m-41.7 13.1h0m7.3 5.3h0m-0.1 3.2h0m17.2 1.5h0m-3.9-31h0m5.6 7.2h0m5.1 7h0m-12.9-13.9h0m-20.8 2h0m13.6 20h0m21.1-21.2h0m-29.4 21.2h0m18.5-24.3h0m2.1 3.9h0m3.4 19.4h0m-36.7-6.3h0m18.9-3.1h0m4.1-1.3h0m6.5 16.3h0m-20.1-24.9h0m9.5 22.8h0m7.1-23.5h0m22.3 6.4h0m-20.9 4.9h0m-11 15.7h0m-14.1-25.5h0m8.1 27.4h0m26.4-8.4h0m-27.2-21.3h0m29.1 18.2h0m5.9 4.1h0m-45.9-19.1h0m28.9 9.7h0m-28.7-0.3h0m4.7 6.8h0m44.8-15.9h0m-28.6 25.3h0m-4.7-1.9h0m-9.8-20.3h0m6.5-2.2h0m-3.4-11.8h0m-1.8 6.8h0m11.9 20.8h0m1-8.7h0m-22.1-22.3h0m17.4 22.1h0m-6.3-7.4h0m29.1-1h0m-3.8-2.7h0m-3 7.1h0m7.4 0h0m1.7-6.6h0m1.1 8.9h0m-4.1 7.6h0m-10.4 26.5h0m9.7-4.8h0m-9.8-2.7h0m2.6 0h0m7.2 0.8h0m-2.4 3h0m0-4.6h0m-2 5.4h0m-2.4 2.9h0m5.5-3.5h0m-10.7 7.4h0m2.8-20.3h0m4 6.2h0m3.6-0.6h0"/><path id="dB3" d="M142.2 83.5h0m-12.9 4.2h0m6.5-25.3h0m12.1 9.1h0m-25.8-5.6h0m34 10.9h0m-17.2 12.1h0m6 3.5h0m-19.5-21.1h0m-7.4 6.3h0m3.9 8.3h0m1.3-7.5h0m2.5-8.5h0m24.1 7h0m1.6-5.3h0m-14.3 10.9h0m20.3-10.9h0m-41.3 2.4h0m38.2-9h0m-5.5 23.8h0m-29.4-11.8h0m31.6 0.2h0m-8-13.5h0m15.6-4h0m-31.2 1.2h0m-13.9 6.9h0m0.5-7.3h0m-0.8 4h0m25.4-4.1h0m17.5 26.3h0m0.7-17.3h0m1.4 10.6h0m-34.6-15.8h0m9.3 9.4h0m17.3-4.4h0m-25.9 11.9h0m10.2-4.1h0m20.3-17h0m-9.1 8.1h0m-24.6-1.1h0m30.3-5.7h0m1.3 3.9h0m-33 6.7h0m22.3 18.5h0m20.4-26.6h0m-31.4 2.2h0m-9.2-6.8h0m18.8 26h0m-22.1-2.3h0m-3.4-16.8h0m12.3-5.2h0m-3.9 9.8h0m3.7 3.4h0m0.3-4h0m2.6 3.1h0m-4.8 7.2h0m27.1-16h0m-1.8 5.1h0m7.4-6.7h0m1.7 3.1h0m-0.7 6.1h0m-1.6 1.6h0m-5.3 3.6h0m-5.5 26.2h0m5.9-2.2h0m-3.7 6.5h0m-6.9-1.4h0m2.7-2.7h0m9.5-2.7h0m-9.8-5.4h0m3.2 8.3h0m0.3-1.3h0m-13.2 0.5h0m12.3-1.1h0m-0.1-12.4h0m0-0.2h0m2.8 1.1h0"/><path id="dB4" d="M145 74.7h0m9.5 4.2h0m-40.7-15.9h0m13-1.4h0m-1.9 16.9h0m33.2-3.6h0m-0.4 6.1h0m-6.9 1h0m-29.3-22.9h0m21.2 19.8h0m2-11.5h0m-27.8-7.1h0m42.2 13.6h0m5.4-11.2h0m-33.8 27.1h0m-13.3-17.6h0m7.1-6.7h0m-6.5 11.9h0m-1.9-0.1h0m47.9-9.8h0m-17.2 21.3h0m-20.6-26.4h0m7.2 23.5h0m12.2-5.8h0m12.7-13.3h0m-29.3 14.6h0m4.6-19.3h0m11.4 1h0m-1.7 28.2h0m16.2-20.3h0m-32 10.1h0m26.4 3.5h0m-17.9-0.6h0m0.8 6.5h0m21-15.3h0m-6.7 10.2h0m15.4-9.8h0m-30.2 6.5h0m4.7-8h0m-10.9 2.4h0m29.3-5.2h0m-30.5-8.3h0m5.5 10.3h0m28.3-9.6h0m-34.7 22.8h0m-4.8-19.3h0m39.3-3h0m-2 5.2h0m-31-10.1h0m-4.9 13.1h0m3-5.5h0m-1 12.3h0m5.2-2.3h0m-11.3-0.3h0m7.1-11.9h0m-2.7 11.3h0m31.9-6h0m0.4 5.2h0m-11.1-4.2h0m2.3 2.1h0m-0.1-2.2h0m11.7 7.9h0m-3.7-7.7h0m-16.1 34.6h0m-1.2-1.6h0m3.5-3.9h0m8.6 5h0m-2-8.3h0m-5.8 5.1h0m4.9-4.6h0m-1.7 4.4h0m1.2-0.8h0m2.1 3.1h0m-0.8 0.4h0m-7.7-14.5h0m8.2 5.7h0m-6.6-2.8h0"/><path id="dB5" d="M148.1 83.6h0m-3.5-11.8h0m1 20.9h0m-30.8-27.6h0m14.7 2.9h0m-2.9 17.7h0m4.9-6.8h0m12-9.4h0m-13.7 0h0m35.2 9.6h0m-10.6-17h0m-36.1-0.3h0m19.3 25.3h0m-7.6-10.8h0m25.6-11.1h0m3.8 10.1h0m-20.6-7.6h0m5.8 8h0m5-4h0m7.2-0.3h0m-14.6-5.4h0m-7.3 12.2h0m-14.6 3.7h0m7.6-13h0m36.7 11h0m-13.3 5.1h0m-21.1-5.9h0m-6.5-5.8h0m26.8-10.2h0m-17.2 25.1h0m15.3-1.8h0m-0.1-16.6h0m2.9 6h0m-5.1 16.9h0m-17.1-25.5h0m-13.3 8.2h0m28.7 7.4h0m-24.3-1.8h0m16.8-4.9h0m9.1-14.2h0m15.4-1.3h0m-30.7 27.4h0m-0.5-1.9h0m17.5 0.9h0m0.1 4.3h0m-21.9-14.5h0m17.1 6.7h0m6-24.7h0m-34.7 5.4h0m11.6 13.4h0m-3.9 0.3h0m3.4-11.4h0m2 8.7h0m1.6-20h0m-7.6 5.6h0m1 26.6h0m23.7-26.1h0m5 4.5h0m-2.3 7.4h0m5.6-4.7h0m-0.9-1.3h0m1.3 7h0m-1.6-2.8h0m-0.8 29.5h0m-8.8 3h0m5.1-4.7h0m-1.3 8.7h0m1.1-4.4h0m-4.8-3h0m2.9 1h0m2.7-2.8h0m-3.1 3.3h0m6.2 0.8h0m-10 4.8h0m-0.7-12.7h0m4.3-5.8h0m-3.4 3h0"/><path id="dB6" d="M157.1 78.2h0m9.2-6.2h0m-47.1-8.2h0m10.8 13.3h0m11.8-18.5h0m16.7 17.5h0m-41-6.8h0m38.1 2.7h0m-1.5 10.5h0m-29-9h0m-10.1-5.7h0m37.1 12.8h0m3.3-6.5h0m-9.3 17h0m9.2-30h0m-11.7 17.1h0m8.3-18.3h0m-11 18.7h0m10.6-12.1h0m-34.9-4.7h0m19.6 18.1h0m3.1-21.3h0m-8.6 32.4h0m30.5-11.4h0m-28.7-19.4h0m15.5 30h0m-7.5-7h0m-1.3 7.1h0m21.2-31.2h0m-37.5 24.2h0m8.8-9.9h0m8.5-5.4h0m-0.8 9.9h0m8.4 4.8h0m-15.4-11.5h0m-12.5-8.6h0m14.8-1.7h0m29.9 8.3h0m-35.5 9.2h0m-11.3 3.6h0m-3.3-9.6h0m2.9-8.6h0m21.1 26.9h0m17-12.3h0m-12.8-1.1h0m-9.2 15.6h0m-2.5-1.5h0m31.6-25.8h0m-37.6 7.9h0m2.6 1.3h0m-3.2-18.1h0m-2.7 21h0m-2.6-12.1h0m3.8 12h0m-0.7-9h0m-7.4 5.3h0m37.1-0.8h0m7.5 2.6h0m-11.7-15.1h0m6.3 11.7h0m-5.1-5.8h0m-3.8 2.7h0m7-2.7h0m-4.9 34.6h0m-2.9 0.9h0m2.1 5.8h0m-4.5-4.1h0m4.9-2.7h0m-0.4-4.9h0m-1.8 9.4h0m4.9-2.4h0m-0.2-0.2h0m-0.6-2.5h0m-2.9-2.1h0m-2-5.1h0m5.7-0.9h0m-7-1.5h0"/><path id="dB7" d="M149.4 65h0m-23.1 13.1h0m24.2-9.2h0m-15.6-9.3h0m25.6 0.3h0m3.8 5.1h0m-20 23.4h0m-12.8-10.7h0m22.6-5.6h0m0.1 0.2h0m-13.4 8.4h0m-15.9-7.9h0m26.9-6.7h0m-30.8 17.2h0m7.1 1.2h0m36.8-19.3h0m-49.2 4.8h0m34 20.6h0m12.2-20.2h0m-42 10.3h0m22.3 5.5h0m-21.1-3.7h0m11.2-12.9h0m33.5-4.1h0m-5.7-3.6h0m-16.5 7.4h0m-20.6 5.8h0m9.8 0h0m-14.1-5.4h0m23.2 12.3h0m-15.1-15h0m4.7 7.6h0m0.6 10.2h0m2.4-12.8h0m-9.1-6.1h0m-3.5-2.6h0m34.7 21.8h0m-21.8 6.7h0m-5.5 0.4h0m20.4-10.4h0m-13.6-9.1h0m24.5-7.7h0m-28.7-1.8h0m9.3 15.4h0m4.1-0.7h0m-13.8-2.5h0m0.1-10.3h0m8.7 19.7h0m-18.3-25.9h0m-3.4 9.8h0m7.9-18.9h0m11.6 15.6h0m-14.8 5.1h0m-3.1-2.9h0m8.3-6.6h0m-1.7 10.7h0m30.9-2.2h0m-5.8 2h0m-1.8 5.8h0m2.5-3.7h0m-3.4-1.4h0m-1.7 4.6h0m6.6-10.2h0m-11.3 35.7h0m4.6 2.6h0m-7.4-2.4h0m5.2 5.7h0m2 0.2h0m1.1-5.2h0m-7.1-3.2h0m6.4-3.4h0m-5.7 5.5h0m5.3 5.2h0m-6.1-13.7h0m8.8-2.3h0m0.6 1.5h0m-0.9-2.9h0"/><path id="dB8" d="M121.9 87.2h0m22.9-15.1h0m-23.6 1.6h0m-6-5h0m20.4 24.9h0m29.3-23h0m-34.5-10.4h0m19.7 2.4h0m-13.5 29.3h0m-14.3-19.9h0m8 6.8h0m35-13.2h0m-38.3-0.2h0m24 5.6h0m-21.2-2.7h0m20.7 5.9h0m5.1-14.1h0m-18.7 30.8h0m-2.6-18.4h0m14 16h0m-5.6-16.7h0m0.3 12.9h0m-15-7.3h0m17.2 2.2h0m10.5-2.6h0m-11.8-13.1h0m8.4 8h0m-38.1-0.1h0m10.1 12.1h0m27-1.8h0m-15.5 4.2h0m0.5-17.9h0m-0.3 7.8h0m-14.4-13.1h0m44.8 10.1h0m-2 5h0m-30.4-16.7h0m22.8 10.4h0m-26.7 0h0m22.8-13.7h0m-7.1 28h0m17.1-8.8h0m-30.4 12h0m3.2-11.1h0m9.3 4.2h0m20.1-5.1h0m-27 14.2h0m13.8-5.2h0m-26.9-12.5h0m15.9 11.4h0m-15.6-18.3h0m-12.7 8.4h0m11.4-3.4h0m5.1-4.1h0m12.5 1.1h0m-23.9-7.2h0m17.2 5.5h0m28.1 4.1h0m-13.4-1.6h0m7.7 7.4h0m-0.3-5.7h0m11.8 1.1h0m-28.4 27.8h0m9-0.3h0m-6.4 4.3h0m-1.4 1.4h0m2.2-7.5h0m0.2 3.3h0m6.1-3.2h0m-11.1 2.6h0m13.4-2.6h0m-6.1 2.2h0m2.1 3h0m-7.1-9.4h0m4.9 1h0m5.1-7.1h0m-5.5 5h0"/><path id="dB9" d="M125.3 73.7h0m28.8 4.4h0m0.4 8h0m-6.4-22.6h0m-25.9-3.9h0m21.4 30.6h0m-25.8-21.2h0m39.6 4.2h0m-15.9 9.8h0m-22.8-21.4h0m34 7.3h0m-33.8 9.1h0m35.7-10.4h0m-12.1 24.1h0m-25.9-31.9h0m9.3-0.1h0m35.3 15.1h0m-38.5-0.5h0m5.5 17.5h0m1-6.3h0m12.1-8.8h0m-5.5-9.5h0m29.6 10.3h0m-31.3-4h0m4-12.6h0m3 31.1h0m-24.5-17.1h0m15.8-12.4h0m32.8 12.4h0m-24.4 6.9h0m-0.1 6.2h0m-11-18.8h0m19.6 1.2h0m-2-0.1h0m0 13h0m-20.3-7.8h0m0.5 5h0m21.8-4.2h0m-16.5-12.4h0m-2.8 6.3h0m20.2 19.4h0m-30-9.8h0m12.5 7.7h0m29.3-17h0m-45.3-5.2h0m13.8 17h0m26.6-16.7h0m-35.2 20.4h0m1.9-19.6h0m4.5 8.5h0m-12.1-4.6h0m7.2 0.5h0m0.6-4h0m-6.7-1.8h0m13.5 12.1h0m-8.3-6.6h0m27.8-2.4h0m4.1-8.7h0m1.8 5.6h0m6.2 9.1h0m-8.7-6.3h0m-6.7 1.5h0m4.3 28h0m-8.1 9.8h0m-1.2-1h0m-0.5 0.3h0m9.6-0.1h0m-10.6-5.9h0m3.8 3h0m1.4-5.3h0m-2 6.8h0m7.5-0.7h0m-11.3-2.1h0m3-13.5h0m0.2 3.4h0m5.4 0.8h0m-6.4-3.6h0"/><path id="dB10" d="M161.7 63.3h0m-12.8 2.6h0m-27.8-5h0m25.7-1.2h0m-7.1 21h0m10.3-12.3h0m-2.6 15h0m0.2-5.2h0m1.3 9.1h0m-29.2-11h0m19.5 10.8h0m10-2h0m0.1-14.5h0m-10.6 3.8h0m5.7-11.4h0m2.2 1.6h0m-16.6 17.8h0m-7.3-11h0m19.5 12.1h0m-14.5-14.2h0m-14.2 0.5h0m43.4-3.9h0m-3.1 10.8h0m-30.6 2.7h0m31.8 4.1h0m-8.7-14.4h0m12 5.5h0m0.5-6.5h0m-28.5 21.8h0m-12.3-15.4h0m1.1-6.1h0m4.4 10.6h0m4.5-8.8h0m-13.4-6.1h0m16.7 27.6h0m-15.3-25.9h0m22.6 6.3h0m-7.9 3.1h0m3.8-3.8h0m14.2-10h0m-30.7-2.5h0m19.5 1.7h0m13.6 6.7h0m-13.9 6.5h0m25.4-4.5h0m-11.9-9.8h0m-5.1 13h0m-1.4-9.1h0m-17.3 6h0m2.3-2.4h0m-7 16.7h0m8.4-13.4h0m-15.7 5.4h0m1.7-2h0m-6.6-5.7h0m37.5-3.5h0m-0.1 3.1h0m15.3 5.4h0m-1.4-2.3h0m-7.7-0.3h0m13.5-9.9h0m-12.1 10.4h0m-3.8 32.4h0m-2-4h0m-10.5 4.1h0m6.1 4.6h0m5.4-2h0m-6.3 2.1h0m-1.3-8.2h0m0.1-2.4h0m1.9 4.5h0m4.9-1h0m-7.3 4.3h0m9.1-12.7h0m-1.8-1.9h0m0.6-1h0m1.4 2.9h0"/><path id="dB11" d="M150.3 66.9h0m-2.8 18.7h0m0.9-8.3h0m-25.4-0.9h0m11-10.5h0m-5.1 26.2h0m22.3-2.6h0m5-30.3h0m-14.1 10.6h0m-11.4-5.3h0m3.6 5.7h0m-4-6.5h0m28 11.8h0m-14.3-16.3h0m-13.6 5.4h0m14.6 8.9h0m-5.2-5.5h0m-0.8 0h0m7.3-6.8h0m2.8 10.9h0m-4.6 11.5h0m-28.2-12.3h0m1.3 7.8h0m32.4 11h0m-29.5-13.8h0m36.9-4.1h0m-9.7 4.2h0m-27.5-14.2h0m32-3.9h0m-6.9 24.9h0m-28.8-5.7h0m1.6-10.6h0m30.2 12.3h0m-25.9-14.2h0m6.8-0.1h0m18.3 18.1h0m-11.9-0.8h0m-18.6-1h0m45.2-3.8h0m-34-13.1h0m9.6 25.5h0m7.3-24.8h0m-21.6-2.9h0m37.2 4.7h0m-14.6 2.5h0m6.6 18.3h0m-35-11.8h0m17.2-8h0m-17 2.6h0m16.5-3.2h0m-12.9 16h0m-4.9-27.1h0m10.5 7.6h0m-12.7 13.1h0m17.6-24h0m26.2 22.2h0m-7.4 8.4h0m4.7-15.9h0m1.9-6.1h0m-6.2 22.7h0m10.8-12.5h0m-0.6 3h0m-8.5 25.2h0m-12.2 0.6h0m2.8 2.6h0m0.7-1.1h0m-2.9 1.6h0m-1 0.8h0m2.2-2.4h0m7.7-5.4h0m-11.2 5.4h0m6.3 4h0m-1.2-1.8h0m6.9-9.8h0m-4.9-6h0m1.5 1.8h0m-1-1.2h0"/><path id="dB12" d="M147.4 87.4h0m-11.1-23.4h0m-9.6-0.1h0m-8.4 12.4h0m32.7 2.9h0m-1.1-19.3h0m0.6 22.2h0m-32.1-14h0m0.8 4.7h0m34.4 7.2h0m-22.1 6.3h0m-5-15.1h0m0.2-2.7h0m30.8-8.7h0m-38.4 0.2h0m16.2 30h0m6.6-9.1h0m-11.2 9.6h0m-13.7-27.2h0m9.1 26.4h0m10.4-4.8h0m1.3-19.4h0m7.9 14h0m-17.3-2.1h0m-5.6 6.2h0m-9-22.7h0m18.9 29.6h0m9.6-13.6h0m-12.9 7.1h0m-4.4-22.7h0m25 4h0m-27.6 18.1h0m29.7 5.6h0m-14.1 1.8h0m-22.6-23.3h0m23.2 17.8h0m-5.4-4.7h0m-12.3-4.4h0m39.9-3.6h0m-45.2 2.4h0m18.6-13h0m15.6 21h0m-12.1 0h0m-0.5 2h0m-2.5-13.7h0m-5.1-8.3h0m31.9-1.7h0m-28.2 21.3h0m-16.4-6.3h0m6.5 8.4h0m8-19.1h0m-7.8-3.9h0m3 10.9h0m-11.8-2.5h0m13.3-6.7h0m23.3 2.9h0m7.6 2.5h0m-11.7 0.5h0m-3.1-13.3h0m9.3 16.6h0m1.7-5.3h0m-16.2 9.4h0m5.8 19.1h0m-3.2 7.7h0m1.7-2.3h0m-3.5-2.3h0m7.3 8.8h0m1.1-3.4h0m0.8-6h0m2.5 5.1h0m-4.1 1.6h0m-5.7-0.9h0m1.5 4.2h0m-2-19.5h0m7.7 0.5h0m0.9-0.7h0"/><path id="dB13" d="M141.5 77.6h0m-9.2 8.5h0m0-17.7h0m7-2.6h0m-7.2 14.4h0m-4.9-2.2h0m18.5 4h0m-21.6 0.5h0m30.9-14.3h0m3.1-4.4h0m-20.7 18.2h0m-11.2-15.1h0m-8.5 4.1h0m29.2-2h0m7.2 11.8h0m-36.2-2.6h0m12.3 9.5h0m6.9-22.6h0m3.2 15.5h0m20.7-16.7h0m-20.3 7.4h0m24.9-5h0m-36.2 1.3h0m-11.8 10.8h0m5.8-14.2h0m32.7-5.1h0m-38 16.4h0m17.7 17.2h0m21.8-13.2h0m-34.8 8.1h0m3.3-24.6h0m2.3-1.4h0m6.7 21.2h0m9.9 1.9h0m-28.6-4.1h0m10.3 8.5h0m20.9-16.4h0m4.2-4.4h0m-17.3 9.4h0m-10.3-2.3h0m-4.3-9.2h0m39.4 4.2h0m-30.1 22h0m5.4-3.6h0m-9.8-28.1h0m8 10h0m15.3-6.6h0m-27.6-0.3h0m5.8-0.8h0m-13.7 9.3h0m6.8 6.6h0m6-18h0m-1.1-3.9h0m-8.5 10.6h0m5.5 3.8h0m29.1 10.8h0m4.1-13h0m-0.4 6.1h0m-0.5-6.6h0m9.4-5.7h0m-9.5 0.9h0m-1.6 3.2h0m-5.1 38.7h0m-3-6.6h0m2.8 6.2h0m-1.5 2.1h0m-0.3-9.1h0m-1.7 8.5h0m0.3-5.4h0m10.7-2.4h0m-8.4 4.6h0m1.3-1.9h0m-4.4 1.7h0m6.7-8.7h0m-5.9-5h0m-1.4 5.8h0"/><path id="dB14" d="M122.5 62.2h0m30.6 15.7h0m-20.6-7.3h0m11.5 7.7h0m15.2-1.8h0m-35.8-1.7h0m-0.5 6.4h0m-3.5-19.9h0m21.7 13.6h0m6-7.4h0m-10.9 11h0m22.7-1.2h0m-27.2-2.8h0m14.5 7.9h0m-6.3-7.7h0m-4.1-11.2h0m18.4 21.6h0m4.7-8.7h0m-5.3-4.6h0m-22 4.6h0m-5.3 10.3h0m-6.6-4.9h0m2.2-13.5h0m7.9 9h0m28.2-4.8h0m-21.7-4.3h0m-6.4 24.4h0m3.9-17.5h0m23.7-0.3h0m0.2-10.3h0m-9 12h0m9.5-2.7h0m-16.2-3.3h0m-23.2 12.4h0m25.8-24.1h0m-4.1 28.6h0m8-5.8h0m14.5-1.7h0m-12.6 8.7h0m-26.1-2.1h0m36.2-16.4h0m-45.8-2.3h0m20.4 0.5h0m7.5-6.7h0m-8.1 3.7h0m26.4-0.2h0m-19.8 5.2h0m7.6 19.9h0m-23.7-11.9h0m-10.5-13h0m8.6 5.6h0m-1.2-11.4h0m-4.7 6.1h0m12.3 12.1h0m-15.9-6.5h0m44.1-1.7h0m-1.8-1.7h0m-8.4 9.2h0m11.6 0.2h0m-9.3-9.3h0m-3.3 1.4h0m16.9-0.8h0m-16.7 33.8h0m-5.5 2.3h0m3.3 2.8h0m3.5-1.1h0m-4.8-4.1h0m4.5 5.8h0m2.1-7.8h0m-1.5 3.4h0m-0.1-2.3h0m-1.2-1.1h0m8.7 3.5h0m-13.4-8.6h0m7-3.9h0m0.3-1.2h0"/><path id="dB15" d="M154.1 59.9h0m-5.2 25h0m5.5-10.3h0m-24.9-10.4h0m4.8 16h0m15.4-19.2h0m-29.9 4.4h0m22.3-5h0m4.1 31.7h0m-6-18h0m-16.9-12.5h0m-8.4 1.8h0m34.3 28h0m-28.4-5.5h0m25-24h0m-11.1 27.3h0m14.6-22.9h0m-12.8 24.2h0m-4.5-7.4h0m-15.4-11.8h0m8.5 12.1h0m-4.2-15.3h0m20.3 22.7h0m13.1-30.6h0m2.4 10.8h0m-24.8-9.7h0m24.1 3.9h0m2.3 4.7h0m-22.8 13.4h0m21.8-11.5h0m-11.1 8.5h0m11-10.8h0m-43.8-0.3h0m38.8 10.7h0m-8.9 12.1h0m-1.6-4h0m12.4-24h0m8.2-4.2h0m-4.3 9.5h0m-8.8-5.6h0m-22.2 1.3h0m13.1-5.6h0m-24.9 6.5h0m18-2.6h0m13.7 11.9h0m-3.6 14.1h0m1.5-15.3h0m-16.2-3.3h0m-16.2-1.9h0m10.9-1.4h0m-0.9-6h0m-0.5 5.3h0m10.8-2.9h0m-1.7 5.4h0m-10.7-4.6h0m40.5 16.7h0m-6.1-6.4h0m0.3 0.9h0m-1.8-7.3h0m-4.4-5h0m-3.9 10.5h0m1.7-10.7h0m7 42.4h0m-11.9-1.4h0m5.1 3.3h0m-3.4-0.9h0m6.8-5.2h0m2.5-0.6h0m-13.6 1.4h0m2.1 1.1h0m2.9 5.1h0m3.3-8.7h0m-3.7 5h0m4.5-13.7h0m3.8 2.4h0m-7.9-2h0"/><path id="dEtb" d="M36.3 59.1h0m6-3.1h0m-21 8.2h0m-17.7 6.9h0m39.5-15.4h0m-21.5 8.7h0m-2.6 0.6h0m12.1-3.9h0m4.9-2.5h0m-19 7.3h0m18.7-6.7h0m-29.5 10.7h0m23-8.5h0m7.2-2.5h0m-5.8 2h0m-14.9 5.3h0m0.5-0.1h0m-12.8 5h0m10.3-4h0m32.8-12.6h0m-1.3 0.6h0m-4.4 1.3h0m-8.2 4h0m13.9-5h0m-11.6 3.6h0m-9.2 4h0m-12.2 4.3h0m11.8-4.1h0m9.4-3.9h0m2-0.7h0m-23.3 8.4h0m4.9-1.6h0m-7.9 3.2h0m6.6-2.8h0m4.2-1.9h0m16.6-5.6h0m7.4-3h0m2.1-1.4h0m-34 13.7h0m34.9-14.2h0m-33.1 13.2h0m21.7-8.3h0m-11.7 4.7h0m-6.7 2.6h0m28.1-10.8h0m-13.5 5.7h0m8.5-3.6h0m-16.6 6.3h0m-13.1 4.3h0m25.7-9.4h0m-5.4 3.2h0m-8.6 2.2h0m15.3-5.4h0m-7.2 2.5h0m16.1-6.5h0m0.8-0.7h0m-7.2 3h0m-28.7 11h0m31.4-11.7h0m-7.7 3h0m-5.2 1.5h0m-13.5 5.6h0m6.9-2.3h0m-0.8 0.3h0m10.4-3.8h0m-14.3 4.6h0m8.6-2.3h0m3-1.6h0m15.5-6.9h0m-12.6 5.7h0m12-5.3h0m1.6-1h0m-20.3 9h0m21.6-9.1h0m-5.7 2.5h0m-3.5 1.8h0m-17 6.4h0m-6.7 2.2h0m0.6-0.2h0m28.1-10.5h0m-15.3 5.7h0m7.9-2.8h0m12.1-5h0m-13.3 5.7h0m-21 7.7h0m11.3-4.1h0m17.1-7.3h0m-32.5 12.7h0m32.1-12.1h0m-11.6 4.7h0m-24.8 9.1h0m-2.1 0.8h0m13.9-4.9h0m14.9-5.8h0m1.2 0.1h0m3.5-1.8h0m-16.4 6.4h0m10.6-3.8h0m5.2-1.7h0m-22 7.6h0m-9.3 3.4h0m43.3-16.4h0m-42.6 15.8h0m15-5.4h0m14.2-4.7h0m-14.5 4.5h0m21.4-7.8h0m-1.2 0.6h0m-26.1 9.5h0m20.7-7.6h0m-26.4 10.1h0m26.3-9.5h0m6.8-3.4h0m-3.3 1.4h0m6.7-3.1h0m-41.3 16.3h0m11.4-4.5h0m32-12.5h0m-30 11.7h0m18.8-6.2h0m-12.4 4.3h0m12.7-4.3h0m-13.1 3.8h0m7.4-2.7h0m-13.6 5.4h0m10.3-3.1h0m12.3-5.8h0m-19.8 8.3h0m20.4-8.1h0m-29.4 11.1h0m-3.2 1.2h0m10.5-4.1h0m24.7-9.7h0m-29.1 11.2h0m31.2-11.8h0m-6.5 3.7h0m0.3-1.1h0m4-1.5h0m-19.6 7.7h0m6.8-2.5h0m-15.9 5.6h0m16.8-5.5h0m14.6-6.7h0m-31.8 12.3h0m21.5-8.3h0m8.4-2.8h0m-19.2 7.5h0m-10.6 3.7h0m26.5-9.3h0m-13.6 4.7h0m-1.2 0.3h0m18.1-6.9h0m-19.6 7.5h0m14.6-5.5h0m4.3-2.1h0m-18.9 7.6h0m15.9-6.8h0m-28.2 11.1h0m30.9-12h0m-32.4 12.5h0m38.7-15.3h0m-16.4 7.5h0m7.1-3.4h0m7-1.8h0m-6.1 1.8h0m-12.5 5.1h0m-7.6 2.4h0m18-6.9h0m-32.2 12.6h0m39.1-15.1h0m-28.2 10.8h0m-1.1 0.1h0m13.5-4h0m-16.2 5.1h0m15.1-5.4h0m8.1-2.9h0m-6.1 2.4h0m-0.5 0.1h0m0.9-0.3h0m10.9-3.7h0m-28.2 9.9h0m-3.8 1.5h0m37.2-15.4h0m1.5 0.3h0"/><path id="dEtr" d="M36.3 59.1h0m-17.3 5.9h0m10.2-3.6h0m-15.5 5.7h0m21.2-8.1h0m-21.5 8h0m31.8-11.7h0m-20.1 7.7h0m-13.3 4.5h0m35.9-13.4h0m-16.6 6.1h0m-2.7 2.1h0m-0.8-0.1h0m-10.7 3.6h0m-1.5 0.8h0m-8.4 3h0m15-5.2h0m-14.8 4.9h0m8.8-3.3h0m30.8-12.1h0m-21.5 9.1h0m16-6.7h0m3.2-1.3h0m-19.7 8.2h0m12-5.1h0m-9.7 4.1h0m14.4-6.2h0m-0.3 0.4h0m-33.4 13.2h0m22.2-8.5h0m-14.9 5.5h0"/><g id="dall"><use href="#dE0"/><use href="#dE1"/><use href="#dE2"/><use href="#dE3"/><use href="#dE4"/><use href="#dE5"/><use href="#dE6"/><use href="#dE7"/><use href="#dE8"/><use href="#dE9"/><use href="#dE10"/><use href="#dE11"/><use href="#dE12"/><use href="#dE13"/><use href="#dE14"/><use href="#dE15"/><use href="#dD0"/><use href="#dD1"/><use href="#dD2"/><use href="#dD3"/><use href="#dD4"/><use href="#dD5"/><use href="#dD6"/><use href="#dD7"/><use href="#dD8"/><use href="#dD9"/><use href="#dD10"/><use href="#dD11"/><use href="#dD12"/><use href="#dD13"/><use href="#dD14"/><use href="#dD15"/><use href="#dC0"/><use href="#dC1"/><use href="#dC2"/><use href="#dC3"/><use href="#dC4"/><use href="#dC5"/><use href="#dC6"/><use href="#dC7"/><use href="#dC8"/><use href="#dC9"/><use href="#dC10"/><use href="#dC11"/><use href="#dC12"/><use href="#dC13"/><use href="#dC14"/><use href="#dC15"/><use href="#dA0"/><use href="#dA1"/><use href="#dA2"/><use href="#dA3"/><use href="#dA4"/><use href="#dA5"/><use href="#dA6"/><use href="#dA7"/><use href="#dA8"/><use href="#dA9"/><use href="#dA10"/><use href="#dA11"/><use href="#dA12"/><use href="#dA13"/><use href="#dA14"/><use href="#dA15"/><use href="#dB0"/><use href="#dB1"/><use href="#dB2"/><use href="#dB3"/><use href="#dB4"/><use href="#dB5"/><use href="#dB6"/><use href="#dB7"/><use href="#dB8"/><use href="#dB9"/><use href="#dB10"/><use href="#dB11"/><use href="#dB12"/><use href="#dB13"/><use href="#dB14"/><use href="#dB15"/></g><linearGradient id="fcbg" x1="0" y1="1" x2="0" y2="0"><stop offset="0" stop-color="#6cb8d2"/><stop offset="0.18" stop-color="#a6a8b2"/><stop offset="0.38" stop-color="#c8837c"/><stop offset="0.58" stop-color="#e0604a"/><stop offset="0.8" stop-color="#e8423a"/><stop offset="1" stop-color="#e8203e"/></linearGradient><clipPath id="cB_low"><rect x="100" y="63" width="80" height="60"/></clipPath><clipPath id="cB_all"><rect x="100" y="50" width="80" height="70"/></clipPath><clipPath id="cC_low"><rect x="112" y="48" width="40" height="30"/></clipPath><clipPath id="cA_ring"><ellipse cx="151" cy="13" rx="14" ry="12"/></clipPath><clipPath id="cA_left"><ellipse cx="128" cy="17" rx="12" ry="8"/></clipPath><clipPath id="cCtop"><ellipse cx="99" cy="25" rx="14" ry="11"/></clipPath><clipPath id="cC_upper"><polygon points="95,25 115,25 130,50 118,55 100,40"/></clipPath><clipPath id="cE_tail"><rect x="0" y="40" width="50" height="40"/></clipPath><clipPath id="cBtl"><polygon points="105,50 140,50 135,70 105,80"/></clipPath><clipPath id="cC_body"><polygon points="100,34 140,34 145,70 105,70"/></clipPath><clipPath id="cD_left"><rect x="45" y="25" width="22" height="35"/></clipPath><clipPath id="cA_ringR"><rect x="151" y="0" width="25" height="30"/></clipPath><clipPath id="cA_stem"><rect x="135" y="20" width="20" height="40"/></clipPath><clipPath id="cB_lowleft"><polygon points="105,70 140,80 150,115 105,115"/></clipPath><clipPath id="cB_upper"><rect x="100" y="40" width="80" height="26"/></clipPath><clipPath id="cB_lobe"><rect x="130" y="98" width="40" height="20"/></clipPath><clipPath id="cE_left"><rect x="0" y="60" width="10" height="20"/></clipPath><clipPath id="cE_right"><rect x="10" y="30" width="60" height="50"/></clipPath><clipPath id="cA_ringR2"><rect x="157" y="0" width="20" height="12"/></clipPath><clipPath id="cE_right2"><rect x="28" y="30" width="40" height="50"/></clipPath><clipPath id="cE_left2"><rect x="0" y="55" width="33" height="25"/></clipPath><clipPath id="cBright"><rect x="150" y="60" width="30" height="40"/></clipPath></defs>
<rect width="685" height="853" fill="#fff"/>
<rect x="487.00" y="32.80" width="30.72" height="8.63" fill="#6a4898"/>
<rect x="517.32" y="32.80" width="30.72" height="8.63" fill="#394b9e"/>
<rect x="547.64" y="32.80" width="30.72" height="8.63" fill="#6a4898"/>
<rect x="577.96" y="32.80" width="30.72" height="8.63" fill="#8a3c8c"/>
<rect x="608.28" y="32.80" width="30.72" height="8.63" fill="#dce04a"/>
<rect x="487.00" y="41.03" width="30.72" height="8.63" fill="#f0a050"/>
<rect x="517.32" y="41.03" width="30.72" height="8.63" fill="#7a4090"/>
<rect x="547.64" y="41.03" width="30.72" height="8.63" fill="#f5d838"/>
<rect x="577.96" y="41.03" width="30.72" height="8.63" fill="#dce04a"/>
<rect x="608.28" y="41.03" width="30.72" height="8.63" fill="#ec8a60"/>
<rect x="487.00" y="49.26" width="30.72" height="8.63" fill="#c84c98"/>
<rect x="517.32" y="49.26" width="30.72" height="8.63" fill="#d85890"/>
<rect x="547.64" y="49.26" width="30.72" height="8.63" fill="#dce04a"/>
<rect x="577.96" y="49.26" width="30.72" height="8.63" fill="#f0a050"/>
<rect x="608.28" y="49.26" width="30.72" height="8.63" fill="#d85890"/>
<rect x="487.00" y="57.49" width="30.72" height="8.63" fill="#394b9e"/>
<rect x="517.32" y="57.49" width="30.72" height="8.63" fill="#394b9e"/>
<rect x="547.64" y="57.49" width="30.72" height="8.63" fill="#394b9e"/>
<rect x="577.96" y="57.49" width="30.72" height="8.63" fill="#4744a0"/>
<rect x="608.28" y="57.49" width="30.72" height="8.63" fill="#dce04a"/>
<rect x="487.00" y="65.73" width="30.72" height="8.63" fill="#ec8a60"/>
<rect x="517.32" y="65.73" width="30.72" height="8.63" fill="#dce04a"/>
<rect x="547.64" y="65.73" width="30.72" height="8.63" fill="#d85890"/>
<rect x="577.96" y="65.73" width="30.72" height="8.63" fill="#ec8a60"/>
<rect x="608.28" y="65.73" width="30.72" height="8.63" fill="#e6e042"/>
<rect x="487.00" y="73.96" width="30.72" height="8.63" fill="#f5b845"/>
<rect x="517.32" y="73.96" width="30.72" height="8.63" fill="#6a4898"/>
<rect x="547.64" y="73.96" width="30.72" height="8.63" fill="#7a4090"/>
<rect x="577.96" y="73.96" width="30.72" height="8.63" fill="#8a3c8c"/>
<rect x="608.28" y="73.96" width="30.72" height="8.63" fill="#dce04a"/>
<rect x="487.00" y="82.19" width="30.72" height="8.63" fill="#394b9e"/>
<rect x="517.32" y="82.19" width="30.72" height="8.63" fill="#dce04a"/>
<rect x="547.64" y="82.19" width="30.72" height="8.63" fill="#394b9e"/>
<rect x="577.96" y="82.19" width="30.72" height="8.63" fill="#394b9e"/>
<rect x="608.28" y="82.19" width="30.72" height="8.63" fill="#394b9e"/>
<rect x="487.00" y="90.42" width="30.72" height="8.63" fill="#394b9e"/>
<rect x="517.32" y="90.42" width="30.72" height="8.63" fill="#394b9e"/>
<rect x="547.64" y="90.42" width="30.72" height="8.63" fill="#394b9e"/>
<rect x="577.96" y="90.42" width="30.72" height="8.63" fill="#dce04a"/>
<rect x="608.28" y="90.42" width="30.72" height="8.63" fill="#394b9e"/>
<rect x="487.00" y="98.65" width="30.72" height="8.63" fill="#7a4090"/>
<rect x="517.32" y="98.65" width="30.72" height="8.63" fill="#394b9e"/>
<rect x="547.64" y="98.65" width="30.72" height="8.63" fill="#394b9e"/>
<rect x="577.96" y="98.65" width="30.72" height="8.63" fill="#394b9e"/>
<rect x="608.28" y="98.65" width="30.72" height="8.63" fill="#dce04a"/>
<rect x="487.00" y="106.88" width="30.72" height="8.63" fill="#7a4090"/>
<rect x="517.32" y="106.88" width="30.72" height="8.63" fill="#dce04a"/>
<rect x="547.64" y="106.88" width="30.72" height="8.63" fill="#6a4898"/>
<rect x="577.96" y="106.88" width="30.72" height="8.63" fill="#59409a"/>
<rect x="608.28" y="106.88" width="30.72" height="8.63" fill="#59409a"/>
<rect x="487.00" y="115.11" width="30.72" height="8.63" fill="#8a3c8c"/>
<rect x="517.32" y="115.11" width="30.72" height="8.63" fill="#dce04a"/>
<rect x="547.64" y="115.11" width="30.72" height="8.63" fill="#4744a0"/>
<rect x="577.96" y="115.11" width="30.72" height="8.63" fill="#4744a0"/>
<rect x="608.28" y="115.11" width="30.72" height="8.63" fill="#4744a0"/>
<rect x="487.00" y="123.35" width="30.72" height="8.63" fill="#4744a0"/>
<rect x="517.32" y="123.35" width="30.72" height="8.63" fill="#394b9e"/>
<rect x="547.64" y="123.35" width="30.72" height="8.63" fill="#394b9e"/>
<rect x="577.96" y="123.35" width="30.72" height="8.63" fill="#394b9e"/>
<rect x="608.28" y="123.35" width="30.72" height="8.63" fill="#dce04a"/>
<rect x="487.00" y="131.58" width="30.72" height="8.63" fill="#9a3c8c"/>
<rect x="517.32" y="131.58" width="30.72" height="8.63" fill="#dce04a"/>
<rect x="547.64" y="131.58" width="30.72" height="8.63" fill="#c84c98"/>
<rect x="577.96" y="131.58" width="30.72" height="8.63" fill="#6a4898"/>
<rect x="608.28" y="131.58" width="30.72" height="8.63" fill="#59409a"/>
<rect x="487.00" y="139.81" width="30.72" height="8.63" fill="#394b9e"/>
<rect x="517.32" y="139.81" width="30.72" height="8.63" fill="#dce04a"/>
<rect x="547.64" y="139.81" width="30.72" height="8.63" fill="#59409a"/>
<rect x="577.96" y="139.81" width="30.72" height="8.63" fill="#394b9e"/>
<rect x="608.28" y="139.81" width="30.72" height="8.63" fill="#394b9e"/>
<rect x="487.00" y="148.04" width="30.72" height="8.63" fill="#d86078"/>
<rect x="517.32" y="148.04" width="30.72" height="8.63" fill="#dce04a"/>
<rect x="547.64" y="148.04" width="30.72" height="8.63" fill="#6a4898"/>
<rect x="577.96" y="148.04" width="30.72" height="8.63" fill="#b04490"/>
<rect x="608.28" y="148.04" width="30.72" height="8.63" fill="#394b9e"/>
<rect x="487.00" y="156.27" width="30.72" height="8.63" fill="#59409a"/>
<rect x="517.32" y="156.27" width="30.72" height="8.63" fill="#394b9e"/>
<rect x="547.64" y="156.27" width="30.72" height="8.63" fill="#394b9e"/>
<rect x="577.96" y="156.27" width="30.72" height="8.63" fill="#6a4898"/>
<rect x="608.28" y="156.27" width="30.72" height="8.63" fill="#dce04a"/>
<rect x="487.00" y="164.50" width="30.72" height="8.63" fill="#394b9e"/>
<rect x="517.32" y="164.50" width="30.72" height="8.63" fill="#394b9e"/>
<rect x="547.64" y="164.50" width="30.72" height="8.63" fill="#394b9e"/>
<rect x="577.96" y="164.50" width="30.72" height="8.63" fill="#394b9e"/>
<rect x="608.28" y="164.50" width="30.72" height="8.63" fill="#dce04a"/>
<rect x="487.00" y="172.73" width="30.72" height="8.63" fill="#dce04a"/>
<rect x="517.32" y="172.73" width="30.72" height="8.63" fill="#f0a050"/>
<rect x="547.64" y="172.73" width="30.72" height="8.63" fill="#e07070"/>
<rect x="577.96" y="172.73" width="30.72" height="8.63" fill="#d86078"/>
<rect x="608.28" y="172.73" width="30.72" height="8.63" fill="#394b9e"/>
<rect x="487.00" y="180.96" width="30.72" height="8.63" fill="#59409a"/>
<rect x="517.32" y="180.96" width="30.72" height="8.63" fill="#f0a050"/>
<rect x="547.64" y="180.96" width="30.72" height="8.63" fill="#7a4090"/>
<rect x="577.96" y="180.96" width="30.72" height="8.63" fill="#8a3c8c"/>
<rect x="608.28" y="180.96" width="30.72" height="8.63" fill="#dce04a"/>
<rect x="487.00" y="189.20" width="30.72" height="8.63" fill="#ec8a60"/>
<rect x="517.32" y="189.20" width="30.72" height="8.63" fill="#d86078"/>
<rect x="547.64" y="189.20" width="30.72" height="8.63" fill="#f0a050"/>
<rect x="577.96" y="189.20" width="30.72" height="8.63" fill="#dce04a"/>
<rect x="608.28" y="189.20" width="30.72" height="8.63" fill="#dce04a"/>
<rect x="487.00" y="197.43" width="30.72" height="8.63" fill="#f5b845"/>
<rect x="517.32" y="197.43" width="30.72" height="8.63" fill="#59409a"/>
<rect x="547.64" y="197.43" width="30.72" height="8.63" fill="#dce04a"/>
<rect x="577.96" y="197.43" width="30.72" height="8.63" fill="#f5d838"/>
<rect x="608.28" y="197.43" width="30.72" height="8.63" fill="#6a4898"/>
<rect x="487.00" y="205.66" width="30.72" height="8.63" fill="#59409a"/>
<rect x="517.32" y="205.66" width="30.72" height="8.63" fill="#394b9e"/>
<rect x="547.64" y="205.66" width="30.72" height="8.63" fill="#394b9e"/>
<rect x="577.96" y="205.66" width="30.72" height="8.63" fill="#c84c98"/>
<rect x="608.28" y="205.66" width="30.72" height="8.63" fill="#dce04a"/>
<rect x="487.00" y="213.89" width="30.72" height="8.63" fill="#394b9e"/>
<rect x="517.32" y="213.89" width="30.72" height="8.63" fill="#394b9e"/>
<rect x="547.64" y="213.89" width="30.72" height="8.63" fill="#394b9e"/>
<rect x="577.96" y="213.89" width="30.72" height="8.63" fill="#dce04a"/>
<rect x="608.28" y="213.89" width="30.72" height="8.63" fill="#394b9e"/>
<rect x="487.00" y="222.12" width="30.72" height="8.63" fill="#394b9e"/>
<rect x="517.32" y="222.12" width="30.72" height="8.63" fill="#394b9e"/>
<rect x="547.64" y="222.12" width="30.72" height="8.63" fill="#394b9e"/>
<rect x="577.96" y="222.12" width="30.72" height="8.63" fill="#59409a"/>
<rect x="608.28" y="222.12" width="30.72" height="8.63" fill="#dce04a"/>
<rect x="487.00" y="230.35" width="30.72" height="8.63" fill="#4744a0"/>
<rect x="517.32" y="230.35" width="30.72" height="8.63" fill="#394b9e"/>
<rect x="547.64" y="230.35" width="30.72" height="8.63" fill="#394b9e"/>
<rect x="577.96" y="230.35" width="30.72" height="8.63" fill="#dce04a"/>
<rect x="608.28" y="230.35" width="30.72" height="8.63" fill="#f5b845"/>
<rect x="487.00" y="238.58" width="30.72" height="8.63" fill="#394b9e"/>
<rect x="517.32" y="238.58" width="30.72" height="8.63" fill="#394b9e"/>
<rect x="547.64" y="238.58" width="30.72" height="8.63" fill="#394b9e"/>
<rect x="577.96" y="238.58" width="30.72" height="8.63" fill="#59409a"/>
<rect x="608.28" y="238.58" width="30.72" height="8.63" fill="#dce04a"/>
<rect x="487.00" y="246.82" width="30.72" height="8.63" fill="#b04490"/>
<rect x="517.32" y="246.82" width="30.72" height="8.63" fill="#dce04a"/>
<rect x="547.64" y="246.82" width="30.72" height="8.63" fill="#ec8a60"/>
<rect x="577.96" y="246.82" width="30.72" height="8.63" fill="#dce04a"/>
<rect x="608.28" y="246.82" width="30.72" height="8.63" fill="#8a3c8c"/>
<rect x="487.00" y="255.05" width="30.72" height="8.63" fill="#394b9e"/>
<rect x="517.32" y="255.05" width="30.72" height="8.63" fill="#394b9e"/>
<rect x="547.64" y="255.05" width="30.72" height="8.63" fill="#394b9e"/>
<rect x="577.96" y="255.05" width="30.72" height="8.63" fill="#394b9e"/>
<rect x="608.28" y="255.05" width="30.72" height="8.63" fill="#dce04a"/>
<rect x="487.00" y="263.28" width="30.72" height="8.63" fill="#8a3c8c"/>
<rect x="517.32" y="263.28" width="30.72" height="8.63" fill="#394b9e"/>
<rect x="547.64" y="263.28" width="30.72" height="8.63" fill="#4744a0"/>
<rect x="577.96" y="263.28" width="30.72" height="8.63" fill="#394b9e"/>
<rect x="608.28" y="263.28" width="30.72" height="8.63" fill="#dce04a"/>
<rect x="487.00" y="271.51" width="30.72" height="8.63" fill="#4744a0"/>
<rect x="517.32" y="271.51" width="30.72" height="8.63" fill="#394b9e"/>
<rect x="547.64" y="271.51" width="30.72" height="8.63" fill="#394b9e"/>
<rect x="577.96" y="271.51" width="30.72" height="8.63" fill="#394b9e"/>
<rect x="608.28" y="271.51" width="30.72" height="8.63" fill="#dce04a"/>
<rect x="487.00" y="279.74" width="30.72" height="8.63" fill="#f5b845"/>
<rect x="517.32" y="279.74" width="30.72" height="8.63" fill="#6a4898"/>
<rect x="547.64" y="279.74" width="30.72" height="8.63" fill="#e6e042"/>
<rect x="577.96" y="279.74" width="30.72" height="8.63" fill="#dce04a"/>
<rect x="608.28" y="279.74" width="30.72" height="8.63" fill="#e6e042"/>
<rect x="487.00" y="287.97" width="30.72" height="8.63" fill="#394b9e"/>
<rect x="517.32" y="287.97" width="30.72" height="8.63" fill="#394b9e"/>
<rect x="547.64" y="287.97" width="30.72" height="8.63" fill="#394b9e"/>
<rect x="577.96" y="287.97" width="30.72" height="8.63" fill="#394b9e"/>
<rect x="608.28" y="287.97" width="30.72" height="8.63" fill="#dce04a"/>
<rect x="487.00" y="296.20" width="30.72" height="8.63" fill="#59409a"/>
<rect x="517.32" y="296.20" width="30.72" height="8.63" fill="#dce04a"/>
<rect x="547.64" y="296.20" width="30.72" height="8.63" fill="#394b9e"/>
<rect x="577.96" y="296.20" width="30.72" height="8.63" fill="#394b9e"/>
<rect x="608.28" y="296.20" width="30.72" height="8.63" fill="#394b9e"/>
<rect x="487.00" y="304.44" width="30.72" height="8.63" fill="#d86078"/>
<rect x="517.32" y="304.44" width="30.72" height="8.63" fill="#59409a"/>
<rect x="547.64" y="304.44" width="30.72" height="8.63" fill="#dce04a"/>
<rect x="577.96" y="304.44" width="30.72" height="8.63" fill="#d86078"/>
<rect x="608.28" y="304.44" width="30.72" height="8.63" fill="#d85890"/>
<rect x="487.00" y="312.67" width="30.72" height="8.63" fill="#9a3c8c"/>
<rect x="517.32" y="312.67" width="30.72" height="8.63" fill="#59409a"/>
<rect x="547.64" y="312.67" width="30.72" height="8.63" fill="#f0a050"/>
<rect x="577.96" y="312.67" width="30.72" height="8.63" fill="#dce04a"/>
<rect x="608.28" y="312.67" width="30.72" height="8.63" fill="#8a3c8c"/>
<rect x="487.00" y="320.90" width="30.72" height="8.63" fill="#394b9e"/>
<rect x="517.32" y="320.90" width="30.72" height="8.63" fill="#394b9e"/>
<rect x="547.64" y="320.90" width="30.72" height="8.63" fill="#394b9e"/>
<rect x="577.96" y="320.90" width="30.72" height="8.63" fill="#394b9e"/>
<rect x="608.28" y="320.90" width="30.72" height="8.63" fill="#dce04a"/>
<rect x="487.00" y="329.13" width="30.72" height="8.63" fill="#7a4090"/>
<rect x="517.32" y="329.13" width="30.72" height="8.63" fill="#394b9e"/>
<rect x="547.64" y="329.13" width="30.72" height="8.63" fill="#e07070"/>
<rect x="577.96" y="329.13" width="30.72" height="8.63" fill="#dce04a"/>
<rect x="608.28" y="329.13" width="30.72" height="8.63" fill="#4744a0"/>
<rect x="487.00" y="337.36" width="30.72" height="8.63" fill="#7a4090"/>
<rect x="517.32" y="337.36" width="30.72" height="8.63" fill="#59409a"/>
<rect x="547.64" y="337.36" width="30.72" height="8.63" fill="#d86078"/>
<rect x="577.96" y="337.36" width="30.72" height="8.63" fill="#dce04a"/>
<rect x="608.28" y="337.36" width="30.72" height="8.63" fill="#8a3c8c"/>
<rect x="487.00" y="345.59" width="30.72" height="8.63" fill="#7a4090"/>
<rect x="517.32" y="345.59" width="30.72" height="8.63" fill="#4744a0"/>
<rect x="547.64" y="345.59" width="30.72" height="8.63" fill="#7a4090"/>
<rect x="577.96" y="345.59" width="30.72" height="8.63" fill="#dce04a"/>
<rect x="608.28" y="345.59" width="30.72" height="8.63" fill="#e07070"/>
<rect x="487.00" y="353.82" width="30.72" height="8.63" fill="#9a3c8c"/>
<rect x="517.32" y="353.82" width="30.72" height="8.63" fill="#59409a"/>
<rect x="547.64" y="353.82" width="30.72" height="8.63" fill="#ec8a60"/>
<rect x="577.96" y="353.82" width="30.72" height="8.63" fill="#dce04a"/>
<rect x="608.28" y="353.82" width="30.72" height="8.63" fill="#6a4898"/>
<rect x="487.00" y="362.05" width="30.72" height="8.63" fill="#d86078"/>
<rect x="517.32" y="362.05" width="30.72" height="8.63" fill="#b04490"/>
<rect x="547.64" y="362.05" width="30.72" height="8.63" fill="#ec8a60"/>
<rect x="577.96" y="362.05" width="30.72" height="8.63" fill="#dce04a"/>
<rect x="608.28" y="362.05" width="30.72" height="8.63" fill="#d86078"/>
<rect x="487.00" y="370.29" width="30.72" height="8.63" fill="#d86078"/>
<rect x="517.32" y="370.29" width="30.72" height="8.63" fill="#dce04a"/>
<rect x="547.64" y="370.29" width="30.72" height="8.63" fill="#ec8a60"/>
<rect x="577.96" y="370.29" width="30.72" height="8.63" fill="#d85890"/>
<rect x="608.28" y="370.29" width="30.72" height="8.63" fill="#59409a"/>
<rect x="487.00" y="378.52" width="30.72" height="8.63" fill="#9a3c8c"/>
<rect x="517.32" y="378.52" width="30.72" height="8.63" fill="#b04490"/>
<rect x="547.64" y="378.52" width="30.72" height="8.63" fill="#d86078"/>
<rect x="577.96" y="378.52" width="30.72" height="8.63" fill="#dce04a"/>
<rect x="608.28" y="378.52" width="30.72" height="8.63" fill="#f5d838"/>
<rect x="487.00" y="386.75" width="30.72" height="8.63" fill="#394b9e"/>
<rect x="517.32" y="386.75" width="30.72" height="8.63" fill="#394b9e"/>
<rect x="547.64" y="386.75" width="30.72" height="8.63" fill="#394b9e"/>
<rect x="577.96" y="386.75" width="30.72" height="8.63" fill="#394b9e"/>
<rect x="608.28" y="386.75" width="30.72" height="8.63" fill="#dce04a"/>
<rect x="487.00" y="394.98" width="30.72" height="8.63" fill="#8a3c8c"/>
<rect x="517.32" y="394.98" width="30.72" height="8.63" fill="#394b9e"/>
<rect x="547.64" y="394.98" width="30.72" height="8.63" fill="#394b9e"/>
<rect x="577.96" y="394.98" width="30.72" height="8.63" fill="#394b9e"/>
<rect x="608.28" y="394.98" width="30.72" height="8.63" fill="#dce04a"/>
<rect x="487.00" y="403.21" width="30.72" height="8.63" fill="#4744a0"/>
<rect x="517.32" y="403.21" width="30.72" height="8.63" fill="#394b9e"/>
<rect x="547.64" y="403.21" width="30.72" height="8.63" fill="#394b9e"/>
<rect x="577.96" y="403.21" width="30.72" height="8.63" fill="#4744a0"/>
<rect x="608.28" y="403.21" width="30.72" height="8.63" fill="#dce04a"/>
<rect x="487.00" y="411.44" width="30.72" height="8.63" fill="#394b9e"/>
<rect x="517.32" y="411.44" width="30.72" height="8.63" fill="#394b9e"/>
<rect x="547.64" y="411.44" width="30.72" height="8.63" fill="#394b9e"/>
<rect x="577.96" y="411.44" width="30.72" height="8.63" fill="#394b9e"/>
<rect x="608.28" y="411.44" width="30.72" height="8.63" fill="#dce04a"/>
<rect x="487.00" y="419.67" width="30.72" height="8.63" fill="#dce04a"/>
<rect x="517.32" y="419.67" width="30.72" height="8.63" fill="#394b9e"/>
<rect x="547.64" y="419.67" width="30.72" height="8.63" fill="#394b9e"/>
<rect x="577.96" y="419.67" width="30.72" height="8.63" fill="#394b9e"/>
<rect x="608.28" y="419.67" width="30.72" height="8.63" fill="#394b9e"/>
<rect x="487.00" y="427.91" width="30.72" height="8.63" fill="#e07070"/>
<rect x="517.32" y="427.91" width="30.72" height="8.63" fill="#dce04a"/>
<rect x="547.64" y="427.91" width="30.72" height="8.63" fill="#d86078"/>
<rect x="577.96" y="427.91" width="30.72" height="8.63" fill="#7a4090"/>
<rect x="608.28" y="427.91" width="30.72" height="8.63" fill="#d85890"/>
<rect x="487.00" y="436.14" width="30.72" height="8.63" fill="#c84c98"/>
<rect x="517.32" y="436.14" width="30.72" height="8.63" fill="#4744a0"/>
<rect x="547.64" y="436.14" width="30.72" height="8.63" fill="#e07070"/>
<rect x="577.96" y="436.14" width="30.72" height="8.63" fill="#dce04a"/>
<rect x="608.28" y="436.14" width="30.72" height="8.63" fill="#8a3c8c"/>
<rect x="487.00" y="444.37" width="30.72" height="8.63" fill="#c84c98"/>
<rect x="517.32" y="444.37" width="30.72" height="8.63" fill="#dce04a"/>
<rect x="547.64" y="444.37" width="30.72" height="8.63" fill="#f0a050"/>
<rect x="577.96" y="444.37" width="30.72" height="8.63" fill="#b04490"/>
<rect x="608.28" y="444.37" width="30.72" height="8.63" fill="#8a3c8c"/>
<rect x="487.00" y="32.80" width="151.60" height="419.80" fill="none" stroke="#111" stroke-width="1.6"/>
<text x="481.5" y="39.42" text-anchor="end" class="hl">SRS12B</text>
<text x="481.5" y="47.65" text-anchor="end" class="hl">(Bz) SRS13</text>
<text x="481.5" y="55.88" text-anchor="end" class="hl">(Bz)SRS16B(SRS9)</text>
<text x="481.5" y="64.11" text-anchor="end" class="hl">(Mz) SRS16E</text>
<text x="481.5" y="72.34" text-anchor="end" class="hl">SRS17B</text>
<text x="481.5" y="80.57" text-anchor="end" class="hl">SRS18</text>
<text x="481.5" y="88.80" text-anchor="end" class="hl">SRS19D</text>
<text x="481.5" y="97.04" text-anchor="end" class="hl">SRS19F</text>
<text x="481.5" y="105.27" text-anchor="end" class="hl">SRS20A</text>
<text x="481.5" y="113.50" text-anchor="end" class="hl">(Bz/Mz) SRS22A</text>
<text x="481.5" y="121.73" text-anchor="end" class="hl">(Bz/Mz) SRS22i</text>
<text x="481.5" y="129.96" text-anchor="end" class="hl">(Mz) SRS23</text>
<text x="481.5" y="138.19" text-anchor="end" class="hl">SRS25</text>
<text x="481.5" y="146.42" text-anchor="end" class="hl">SRS27B</text>
<text x="481.5" y="154.65" text-anchor="end" class="hl">SRS29A</text>
<text x="481.5" y="162.89" text-anchor="end" class="hl">(Mz) SRS30A</text>
<text x="481.5" y="171.12" text-anchor="end" class="hl">(Mz) SRS30C</text>
<text x="481.5" y="179.35" text-anchor="end" class="hl">SRS32</text>
<text x="481.5" y="187.58" text-anchor="end" class="hl">SRS33</text>
<text x="481.5" y="195.81" text-anchor="end" class="hl">SRS35A</text>
<text x="481.5" y="204.04" text-anchor="end" class="hl">SRS35B</text>
<text x="481.5" y="212.27" text-anchor="end" class="hl">SRS36B</text>
<text x="481.5" y="220.51" text-anchor="end" class="hl">SRS36C</text>
<text x="481.5" y="228.74" text-anchor="end" class="hl">SRS36D</text>
<text x="481.5" y="236.97" text-anchor="end" class="hl">SRS36E</text>
<text x="481.5" y="245.20" text-anchor="end" class="hl">SRS37A</text>
<text x="481.5" y="253.43" text-anchor="end" class="hl">SRS38A</text>
<text x="481.5" y="261.66" text-anchor="end" class="hl">SRS38B</text>
<text x="481.5" y="269.89" text-anchor="end" class="hl">SRS38C</text>
<text x="481.5" y="278.13" text-anchor="end" class="hl">SRS38D</text>
<text x="481.5" y="286.36" text-anchor="end" class="hl">SRS39</text>
<text x="481.5" y="294.59" text-anchor="end" class="hl">SRS40D</text>
<text x="481.5" y="302.82" text-anchor="end" class="hl">SRS40E</text>
<text x="481.5" y="311.05" text-anchor="end" class="hl">SRS42</text>
<text x="481.5" y="319.28" text-anchor="end" class="hl">(Bz) SRS44</text>
<text x="481.5" y="327.51" text-anchor="end" class="hl">SRS47A</text>
<text x="481.5" y="335.75" text-anchor="end" class="hl">(Bz) SRS49A</text>
<text x="481.5" y="343.98" text-anchor="end" class="hl">(Bz) SRS49B</text>
<text x="481.5" y="352.21" text-anchor="end" class="hl">(Bz) SRS49C</text>
<text x="481.5" y="360.44" text-anchor="end" class="hl">(Bz) SRS49D</text>
<text x="481.5" y="368.67" text-anchor="end" class="hl">SRS50</text>
<text x="481.5" y="376.90" text-anchor="end" class="hl">SRS52A</text>
<text x="481.5" y="385.13" text-anchor="end" class="hl">SRS52C</text>
<text x="481.5" y="393.36" text-anchor="end" class="hl">SRS52F</text>
<text x="481.5" y="401.60" text-anchor="end" class="hl">SRS53C</text>
<text x="481.5" y="409.83" text-anchor="end" class="hl">(Mz) SRS53F</text>
<text x="481.5" y="418.06" text-anchor="end" class="hl">SRS55A</text>
<text x="481.5" y="426.29" text-anchor="end" class="hl">SRS55M</text>
<text x="481.5" y="434.52" text-anchor="end" class="hl">SRS57</text>
<text x="481.5" y="442.75" text-anchor="end" class="hl">SRS60A</text>
<text x="481.5" y="450.98" text-anchor="end" class="hl">SRS67</text>
<text x="502.16" y="26.0" text-anchor="middle" class="hc">A</text>
<text x="532.48" y="26.0" text-anchor="middle" class="hc">B</text>
<text x="562.80" y="26.0" text-anchor="middle" class="hc">C</text>
<text x="593.12" y="26.0" text-anchor="middle" class="hc">D</text>
<text x="623.44" y="26.0" text-anchor="middle" class="hc">E</text>
<path d="M482.5 36.92h4.5 M482.5 45.15h4.5 M482.5 53.38h4.5 M482.5 61.61h4.5 M482.5 69.84h4.5 M482.5 78.07h4.5 M482.5 86.30h4.5 M482.5 94.54h4.5 M482.5 102.77h4.5 M482.5 111.00h4.5 M482.5 119.23h4.5 M482.5 127.46h4.5 M482.5 135.69h4.5 M482.5 143.92h4.5 M482.5 152.15h4.5 M482.5 160.39h4.5 M482.5 168.62h4.5 M482.5 176.85h4.5 M482.5 185.08h4.5 M482.5 193.31h4.5 M482.5 201.54h4.5 M482.5 209.77h4.5 M482.5 218.01h4.5 M482.5 226.24h4.5 M482.5 234.47h4.5 M482.5 242.70h4.5 M482.5 250.93h4.5 M482.5 259.16h4.5 M482.5 267.39h4.5 M482.5 275.63h4.5 M482.5 283.86h4.5 M482.5 292.09h4.5 M482.5 300.32h4.5 M482.5 308.55h4.5 M482.5 316.78h4.5 M482.5 325.01h4.5 M482.5 333.25h4.5 M482.5 341.48h4.5 M482.5 349.71h4.5 M482.5 357.94h4.5 M482.5 366.17h4.5 M482.5 374.40h4.5 M482.5 382.63h4.5 M482.5 390.86h4.5 M482.5 399.10h4.5 M482.5 407.33h4.5 M482.5 415.56h4.5 M482.5 423.79h4.5 M482.5 432.02h4.5 M482.5 440.25h4.5 M482.5 448.48h4.5 M502.16 27.8v5 M532.48 27.8v5 M562.80 27.8v5 M593.12 27.8v5 M623.44 27.8v5" stroke="#111" stroke-width="1.3" fill="none"/>
<text x="419" y="12.5" class="panel">b</text>
<rect x="651.4" y="33.3" width="13.100000000000023" height="419.2" fill="url(#cbg)" stroke="#111" stroke-width="1.1"/>
<text x="669" y="456.00" class="cbl">0</text>
<text x="669" y="372.16" class="cbl">20</text>
<text x="669" y="288.32" class="cbl">40</text>
<text x="669" y="204.48" class="cbl">60</text>
<text x="669" y="120.64" class="cbl">80</text>
<text x="669" y="36.80" class="cbl">100</text>
<path d="M651.4 368.66h2.2M662.3 368.66h2.2 M651.4 284.82h2.2M662.3 284.82h2.2 M651.4 200.98h2.2M662.3 200.98h2.2 M651.4 117.14h2.2M662.3 117.14h2.2" stroke="#111" stroke-width="1" fill="none"/>
<rect x="484.70" y="507.60" width="31.86" height="9.64" fill="#f0a050"/>
<rect x="516.16" y="507.60" width="31.86" height="9.64" fill="#d86078"/>
<rect x="547.62" y="507.60" width="31.86" height="9.64" fill="#dce04a"/>
<rect x="579.08" y="507.60" width="31.86" height="9.64" fill="#7a4090"/>
<rect x="610.54" y="507.60" width="31.86" height="9.64" fill="#59409a"/>
<rect x="484.70" y="516.84" width="31.86" height="9.64" fill="#b04490"/>
<rect x="516.16" y="516.84" width="31.86" height="9.64" fill="#4744a0"/>
<rect x="547.62" y="516.84" width="31.86" height="9.64" fill="#59409a"/>
<rect x="579.08" y="516.84" width="31.86" height="9.64" fill="#59409a"/>
<rect x="610.54" y="516.84" width="31.86" height="9.64" fill="#dce04a"/>
<rect x="484.70" y="526.07" width="31.86" height="9.64" fill="#f5b845"/>
<rect x="516.16" y="526.07" width="31.86" height="9.64" fill="#dce04a"/>
<rect x="547.62" y="526.07" width="31.86" height="9.64" fill="#f0a050"/>
<rect x="579.08" y="526.07" width="31.86" height="9.64" fill="#8a3c8c"/>
<rect x="610.54" y="526.07" width="31.86" height="9.64" fill="#8a3c8c"/>
<rect x="484.70" y="535.31" width="31.86" height="9.64" fill="#f8c440"/>
<rect x="516.16" y="535.31" width="31.86" height="9.64" fill="#d85890"/>
<rect x="547.62" y="535.31" width="31.86" height="9.64" fill="#dce04a"/>
<rect x="579.08" y="535.31" width="31.86" height="9.64" fill="#b04490"/>
<rect x="610.54" y="535.31" width="31.86" height="9.64" fill="#59409a"/>
<rect x="484.70" y="544.54" width="31.86" height="9.64" fill="#f0a050"/>
<rect x="516.16" y="544.54" width="31.86" height="9.64" fill="#394b9e"/>
<rect x="547.62" y="544.54" width="31.86" height="9.64" fill="#4744a0"/>
<rect x="579.08" y="544.54" width="31.86" height="9.64" fill="#394b9e"/>
<rect x="610.54" y="544.54" width="31.86" height="9.64" fill="#dce04a"/>
<rect x="484.70" y="553.78" width="31.86" height="9.64" fill="#8a3c8c"/>
<rect x="516.16" y="553.78" width="31.86" height="9.64" fill="#7a4090"/>
<rect x="547.62" y="553.78" width="31.86" height="9.64" fill="#4744a0"/>
<rect x="579.08" y="553.78" width="31.86" height="9.64" fill="#f5b845"/>
<rect x="610.54" y="553.78" width="31.86" height="9.64" fill="#dce04a"/>
<rect x="484.70" y="563.01" width="31.86" height="9.64" fill="#dce04a"/>
<rect x="516.16" y="563.01" width="31.86" height="9.64" fill="#ec8a60"/>
<rect x="547.62" y="563.01" width="31.86" height="9.64" fill="#b04490"/>
<rect x="579.08" y="563.01" width="31.86" height="9.64" fill="#59409a"/>
<rect x="610.54" y="563.01" width="31.86" height="9.64" fill="#f0a050"/>
<rect x="484.70" y="572.25" width="31.86" height="9.64" fill="#6a4898"/>
<rect x="516.16" y="572.25" width="31.86" height="9.64" fill="#4744a0"/>
<rect x="547.62" y="572.25" width="31.86" height="9.64" fill="#4744a0"/>
<rect x="579.08" y="572.25" width="31.86" height="9.64" fill="#dce04a"/>
<rect x="610.54" y="572.25" width="31.86" height="9.64" fill="#b04490"/>
<rect x="484.70" y="581.48" width="31.86" height="9.64" fill="#f0a050"/>
<rect x="516.16" y="581.48" width="31.86" height="9.64" fill="#dce04a"/>
<rect x="547.62" y="581.48" width="31.86" height="9.64" fill="#f5d838"/>
<rect x="579.08" y="581.48" width="31.86" height="9.64" fill="#e07070"/>
<rect x="610.54" y="581.48" width="31.86" height="9.64" fill="#6a4898"/>
<rect x="484.70" y="590.72" width="31.86" height="9.64" fill="#dce04a"/>
<rect x="516.16" y="590.72" width="31.86" height="9.64" fill="#4744a0"/>
<rect x="547.62" y="590.72" width="31.86" height="9.64" fill="#8a3c8c"/>
<rect x="579.08" y="590.72" width="31.86" height="9.64" fill="#b04490"/>
<rect x="610.54" y="590.72" width="31.86" height="9.64" fill="#f5b845"/>
<rect x="484.70" y="599.95" width="31.86" height="9.64" fill="#dce04a"/>
<rect x="516.16" y="599.95" width="31.86" height="9.64" fill="#ec8a60"/>
<rect x="547.62" y="599.95" width="31.86" height="9.64" fill="#e07070"/>
<rect x="579.08" y="599.95" width="31.86" height="9.64" fill="#e07070"/>
<rect x="610.54" y="599.95" width="31.86" height="9.64" fill="#f5d838"/>
<rect x="484.70" y="609.19" width="31.86" height="9.64" fill="#d85890"/>
<rect x="516.16" y="609.19" width="31.86" height="9.64" fill="#dce04a"/>
<rect x="547.62" y="609.19" width="31.86" height="9.64" fill="#9a3c8c"/>
<rect x="579.08" y="609.19" width="31.86" height="9.64" fill="#394b9e"/>
<rect x="610.54" y="609.19" width="31.86" height="9.64" fill="#59409a"/>
<rect x="484.70" y="618.42" width="31.86" height="9.64" fill="#dce04a"/>
<rect x="516.16" y="618.42" width="31.86" height="9.64" fill="#f5b845"/>
<rect x="547.62" y="618.42" width="31.86" height="9.64" fill="#e07070"/>
<rect x="579.08" y="618.42" width="31.86" height="9.64" fill="#d85890"/>
<rect x="610.54" y="618.42" width="31.86" height="9.64" fill="#59409a"/>
<rect x="484.70" y="627.66" width="31.86" height="9.64" fill="#f5b845"/>
<rect x="516.16" y="627.66" width="31.86" height="9.64" fill="#59409a"/>
<rect x="547.62" y="627.66" width="31.86" height="9.64" fill="#9a3c8c"/>
<rect x="579.08" y="627.66" width="31.86" height="9.64" fill="#d85890"/>
<rect x="610.54" y="627.66" width="31.86" height="9.64" fill="#dce04a"/>
<rect x="484.70" y="636.89" width="31.86" height="9.64" fill="#6a4898"/>
<rect x="516.16" y="636.89" width="31.86" height="9.64" fill="#6a4898"/>
<rect x="547.62" y="636.89" width="31.86" height="9.64" fill="#c84c98"/>
<rect x="579.08" y="636.89" width="31.86" height="9.64" fill="#dce04a"/>
<rect x="610.54" y="636.89" width="31.86" height="9.64" fill="#e07070"/>
<rect x="484.70" y="646.13" width="31.86" height="9.64" fill="#f5b845"/>
<rect x="516.16" y="646.13" width="31.86" height="9.64" fill="#f5d838"/>
<rect x="547.62" y="646.13" width="31.86" height="9.64" fill="#dce04a"/>
<rect x="579.08" y="646.13" width="31.86" height="9.64" fill="#8a3c8c"/>
<rect x="610.54" y="646.13" width="31.86" height="9.64" fill="#59409a"/>
<rect x="484.70" y="655.36" width="31.86" height="9.64" fill="#f5b845"/>
<rect x="516.16" y="655.36" width="31.86" height="9.64" fill="#59409a"/>
<rect x="547.62" y="655.36" width="31.86" height="9.64" fill="#f5d838"/>
<rect x="579.08" y="655.36" width="31.86" height="9.64" fill="#dce04a"/>
<rect x="610.54" y="655.36" width="31.86" height="9.64" fill="#f5b845"/>
<rect x="484.70" y="664.60" width="31.86" height="9.64" fill="#e07070"/>
<rect x="516.16" y="664.60" width="31.86" height="9.64" fill="#dce04a"/>
<rect x="547.62" y="664.60" width="31.86" height="9.64" fill="#9a3c8c"/>
<rect x="579.08" y="664.60" width="31.86" height="9.64" fill="#8a3c8c"/>
<rect x="610.54" y="664.60" width="31.86" height="9.64" fill="#f8c440"/>
<rect x="484.70" y="673.83" width="31.86" height="9.64" fill="#7a4090"/>
<rect x="516.16" y="673.83" width="31.86" height="9.64" fill="#9a3c8c"/>
<rect x="547.62" y="673.83" width="31.86" height="9.64" fill="#d85890"/>
<rect x="579.08" y="673.83" width="31.86" height="9.64" fill="#dce04a"/>
<rect x="610.54" y="673.83" width="31.86" height="9.64" fill="#e07070"/>
<rect x="484.70" y="683.07" width="31.86" height="9.64" fill="#7a4090"/>
<rect x="516.16" y="683.07" width="31.86" height="9.64" fill="#d85890"/>
<rect x="547.62" y="683.07" width="31.86" height="9.64" fill="#b04490"/>
<rect x="579.08" y="683.07" width="31.86" height="9.64" fill="#dce04a"/>
<rect x="610.54" y="683.07" width="31.86" height="9.64" fill="#7a4090"/>
<rect x="484.70" y="692.30" width="31.86" height="9.64" fill="#ec8a60"/>
<rect x="516.16" y="692.30" width="31.86" height="9.64" fill="#e07070"/>
<rect x="547.62" y="692.30" width="31.86" height="9.64" fill="#f0a050"/>
<rect x="579.08" y="692.30" width="31.86" height="9.64" fill="#dce04a"/>
<rect x="610.54" y="692.30" width="31.86" height="9.64" fill="#f5d838"/>
<rect x="484.70" y="701.54" width="31.86" height="9.64" fill="#f5b845"/>
<rect x="516.16" y="701.54" width="31.86" height="9.64" fill="#7a4090"/>
<rect x="547.62" y="701.54" width="31.86" height="9.64" fill="#dce04a"/>
<rect x="579.08" y="701.54" width="31.86" height="9.64" fill="#ec8a60"/>
<rect x="610.54" y="701.54" width="31.86" height="9.64" fill="#b04490"/>
<rect x="484.70" y="710.77" width="31.86" height="9.64" fill="#dce04a"/>
<rect x="516.16" y="710.77" width="31.86" height="9.64" fill="#e6e042"/>
<rect x="547.62" y="710.77" width="31.86" height="9.64" fill="#dce04a"/>
<rect x="579.08" y="710.77" width="31.86" height="9.64" fill="#ec8a60"/>
<rect x="610.54" y="710.77" width="31.86" height="9.64" fill="#ec8a60"/>
<rect x="484.70" y="720.01" width="31.86" height="9.64" fill="#59409a"/>
<rect x="516.16" y="720.01" width="31.86" height="9.64" fill="#f0a050"/>
<rect x="547.62" y="720.01" width="31.86" height="9.64" fill="#8a3c8c"/>
<rect x="579.08" y="720.01" width="31.86" height="9.64" fill="#e07070"/>
<rect x="610.54" y="720.01" width="31.86" height="9.64" fill="#dce04a"/>
<rect x="484.70" y="729.24" width="31.86" height="9.64" fill="#e07070"/>
<rect x="516.16" y="729.24" width="31.86" height="9.64" fill="#dce04a"/>
<rect x="547.62" y="729.24" width="31.86" height="9.64" fill="#d86078"/>
<rect x="579.08" y="729.24" width="31.86" height="9.64" fill="#6a4898"/>
<rect x="610.54" y="729.24" width="31.86" height="9.64" fill="#59409a"/>
<rect x="484.70" y="738.48" width="31.86" height="9.64" fill="#dce04a"/>
<rect x="516.16" y="738.48" width="31.86" height="9.64" fill="#394b9e"/>
<rect x="547.62" y="738.48" width="31.86" height="9.64" fill="#59409a"/>
<rect x="579.08" y="738.48" width="31.86" height="9.64" fill="#4744a0"/>
<rect x="610.54" y="738.48" width="31.86" height="9.64" fill="#c84c98"/>
<rect x="484.70" y="747.71" width="31.86" height="9.64" fill="#f0a050"/>
<rect x="516.16" y="747.71" width="31.86" height="9.64" fill="#f8c440"/>
<rect x="547.62" y="747.71" width="31.86" height="9.64" fill="#dce04a"/>
<rect x="579.08" y="747.71" width="31.86" height="9.64" fill="#e07070"/>
<rect x="610.54" y="747.71" width="31.86" height="9.64" fill="#8a3c8c"/>
<rect x="484.70" y="756.95" width="31.86" height="9.64" fill="#ec8a60"/>
<rect x="516.16" y="756.95" width="31.86" height="9.64" fill="#e07070"/>
<rect x="547.62" y="756.95" width="31.86" height="9.64" fill="#ec8a60"/>
<rect x="579.08" y="756.95" width="31.86" height="9.64" fill="#f5b845"/>
<rect x="610.54" y="756.95" width="31.86" height="9.64" fill="#dce04a"/>
<rect x="484.70" y="766.18" width="31.86" height="9.64" fill="#ec8a60"/>
<rect x="516.16" y="766.18" width="31.86" height="9.64" fill="#6a4898"/>
<rect x="547.62" y="766.18" width="31.86" height="9.64" fill="#8a3c8c"/>
<rect x="579.08" y="766.18" width="31.86" height="9.64" fill="#7a4090"/>
<rect x="610.54" y="766.18" width="31.86" height="9.64" fill="#dce04a"/>
<rect x="484.70" y="775.42" width="31.86" height="9.64" fill="#394b9e"/>
<rect x="516.16" y="775.42" width="31.86" height="9.64" fill="#394b9e"/>
<rect x="547.62" y="775.42" width="31.86" height="9.64" fill="#59409a"/>
<rect x="579.08" y="775.42" width="31.86" height="9.64" fill="#4744a0"/>
<rect x="610.54" y="775.42" width="31.86" height="9.64" fill="#dce04a"/>
<rect x="484.70" y="784.65" width="31.86" height="9.64" fill="#9a3c8c"/>
<rect x="516.16" y="784.65" width="31.86" height="9.64" fill="#f5b845"/>
<rect x="547.62" y="784.65" width="31.86" height="9.64" fill="#dce04a"/>
<rect x="579.08" y="784.65" width="31.86" height="9.64" fill="#7a4090"/>
<rect x="610.54" y="784.65" width="31.86" height="9.64" fill="#ec8a60"/>
<rect x="484.70" y="793.89" width="31.86" height="9.64" fill="#dce04a"/>
<rect x="516.16" y="793.89" width="31.86" height="9.64" fill="#f0a050"/>
<rect x="547.62" y="793.89" width="31.86" height="9.64" fill="#ec8a60"/>
<rect x="579.08" y="793.89" width="31.86" height="9.64" fill="#d86078"/>
<rect x="610.54" y="793.89" width="31.86" height="9.64" fill="#d85890"/>
<rect x="484.70" y="803.12" width="31.86" height="9.64" fill="#394b9e"/>
<rect x="516.16" y="803.12" width="31.86" height="9.64" fill="#394b9e"/>
<rect x="547.62" y="803.12" width="31.86" height="9.64" fill="#394b9e"/>
<rect x="579.08" y="803.12" width="31.86" height="9.64" fill="#4744a0"/>
<rect x="610.54" y="803.12" width="31.86" height="9.64" fill="#dce04a"/>
<rect x="484.70" y="812.36" width="31.86" height="9.64" fill="#dce04a"/>
<rect x="516.16" y="812.36" width="31.86" height="9.64" fill="#9a3c8c"/>
<rect x="547.62" y="812.36" width="31.86" height="9.64" fill="#f0a050"/>
<rect x="579.08" y="812.36" width="31.86" height="9.64" fill="#d85890"/>
<rect x="610.54" y="812.36" width="31.86" height="9.64" fill="#7a4090"/>
<rect x="484.70" y="821.59" width="31.86" height="9.64" fill="#ec8a60"/>
<rect x="516.16" y="821.59" width="31.86" height="9.64" fill="#dce04a"/>
<rect x="547.62" y="821.59" width="31.86" height="9.64" fill="#f0a050"/>
<rect x="579.08" y="821.59" width="31.86" height="9.64" fill="#ec8a60"/>
<rect x="610.54" y="821.59" width="31.86" height="9.64" fill="#9a3c8c"/>
<rect x="484.70" y="830.83" width="31.86" height="9.64" fill="#59409a"/>
<rect x="516.16" y="830.83" width="31.86" height="9.64" fill="#394b9e"/>
<rect x="547.62" y="830.83" width="31.86" height="9.64" fill="#394b9e"/>
<rect x="579.08" y="830.83" width="31.86" height="9.64" fill="#394b9e"/>
<rect x="610.54" y="830.83" width="31.86" height="9.64" fill="#dce04a"/>
<rect x="484.70" y="840.06" width="31.86" height="9.64" fill="#59409a"/>
<rect x="516.16" y="840.06" width="31.86" height="9.64" fill="#dce04a"/>
<rect x="547.62" y="840.06" width="31.86" height="9.64" fill="#6a4898"/>
<rect x="579.08" y="840.06" width="31.86" height="9.64" fill="#6a4898"/>
<rect x="610.54" y="840.06" width="31.86" height="9.64" fill="#394b9e"/>
<rect x="484.70" y="507.60" width="157.30" height="341.70" fill="none" stroke="#111" stroke-width="1.6"/>
<text x="479.2" y="514.72" text-anchor="end" class="hl">(Bz)AP2Ib-1</text>
<text x="479.2" y="523.95" text-anchor="end" class="hl">AP2III-2</text>
<text x="479.2" y="533.19" text-anchor="end" class="hl">AP2IV-2</text>
<text x="479.2" y="542.42" text-anchor="end" class="hl">(Bz)AP2IV-3</text>
<text x="479.2" y="551.66" text-anchor="end" class="hl">(CC)AP2IV-4</text>
<text x="479.2" y="560.89" text-anchor="end" class="hl">AP2IX-1</text>
<text x="479.2" y="570.13" text-anchor="end" class="hl">AP2IX-4</text>
<text x="479.2" y="579.36" text-anchor="end" class="hl">(CC)AP2IX-5</text>
<text x="479.2" y="588.60" text-anchor="end" class="hl">(Bz)AP2IX-9</text>
<text x="479.2" y="597.83" text-anchor="end" class="hl">AP2VI-1</text>
<text x="479.2" y="607.07" text-anchor="end" class="hl">AP2VI-2</text>
<text x="479.2" y="616.30" text-anchor="end" class="hl">(Bz/Mz)AP2VIIa-1</text>
<text x="479.2" y="625.54" text-anchor="end" class="hl">AP2VIIa-2</text>
<text x="479.2" y="634.77" text-anchor="end" class="hl">AP2VIIa-3</text>
<text x="479.2" y="644.01" text-anchor="end" class="hl">(CC)AP2VIIa-4</text>
<text x="479.2" y="653.24" text-anchor="end" class="hl">AP2VIIa-6</text>
<text x="479.2" y="662.48" text-anchor="end" class="hl">AP2VIIa-7</text>
<text x="479.2" y="671.71" text-anchor="end" class="hl">AP2VIIa-8</text>
<text x="479.2" y="680.95" text-anchor="end" class="hl">AP2VIIa-9</text>
<text x="479.2" y="690.19" text-anchor="end" class="hl">AP2VIIb-2</text>
<text x="479.2" y="699.42" text-anchor="end" class="hl">AP2VIIb-3</text>
<text x="479.2" y="708.66" text-anchor="end" class="hl">AP2VIII-6</text>
<text x="479.2" y="717.89" text-anchor="end" class="hl">AP2VIII-7</text>
<text x="479.2" y="727.13" text-anchor="end" class="hl">AP2X-2</text>
<text x="479.2" y="736.36" text-anchor="end" class="hl">AP2X-3</text>
<text x="479.2" y="745.60" text-anchor="end" class="hl">(CC)AP2X-5</text>
<text x="479.2" y="754.83" text-anchor="end" class="hl">AP2X-7</text>
<text x="479.2" y="764.07" text-anchor="end" class="hl">(Bz)AP2X-8</text>
<text x="479.2" y="773.30" text-anchor="end" class="hl">AP2X-9</text>
<text x="479.2" y="782.54" text-anchor="end" class="hl">(CC)AP2XI-1</text>
<text x="479.2" y="791.77" text-anchor="end" class="hl">(Bz)AP2XI-4</text>
<text x="479.2" y="801.01" text-anchor="end" class="hl">AP2XII-1</text>
<text x="479.2" y="810.24" text-anchor="end" class="hl">(CC)AP2XII-2</text>
<text x="479.2" y="819.48" text-anchor="end" class="hl">AP2XII-5</text>
<text x="479.2" y="828.71" text-anchor="end" class="hl">(CC)AP2XII-8</text>
<text x="479.2" y="837.95" text-anchor="end" class="hl">(CC)AP2XII-9</text>
<text x="479.2" y="847.18" text-anchor="end" class="hl">215895</text>
<text x="500.43" y="498.8" text-anchor="middle" class="hc">A</text>
<text x="531.89" y="498.8" text-anchor="middle" class="hc">B</text>
<text x="563.35" y="498.8" text-anchor="middle" class="hc">C</text>
<text x="594.81" y="498.8" text-anchor="middle" class="hc">D</text>
<text x="626.27" y="498.8" text-anchor="middle" class="hc">E</text>
<path d="M480.2 512.22h4.5 M480.2 521.45h4.5 M480.2 530.69h4.5 M480.2 539.92h4.5 M480.2 549.16h4.5 M480.2 558.39h4.5 M480.2 567.63h4.5 M480.2 576.86h4.5 M480.2 586.10h4.5 M480.2 595.33h4.5 M480.2 604.57h4.5 M480.2 613.80h4.5 M480.2 623.04h4.5 M480.2 632.27h4.5 M480.2 641.51h4.5 M480.2 650.74h4.5 M480.2 659.98h4.5 M480.2 669.21h4.5 M480.2 678.45h4.5 M480.2 687.69h4.5 M480.2 696.92h4.5 M480.2 706.16h4.5 M480.2 715.39h4.5 M480.2 724.63h4.5 M480.2 733.86h4.5 M480.2 743.10h4.5 M480.2 752.33h4.5 M480.2 761.57h4.5 M480.2 770.80h4.5 M480.2 780.04h4.5 M480.2 789.27h4.5 M480.2 798.51h4.5 M480.2 807.74h4.5 M480.2 816.98h4.5 M480.2 826.21h4.5 M480.2 835.45h4.5 M480.2 844.68h4.5 M500.43 502.6v5 M531.89 502.6v5 M563.35 502.6v5 M594.81 502.6v5 M626.27 502.6v5" stroke="#111" stroke-width="1.3" fill="none"/>
<text x="419.5" y="500.5" class="panel">c</text>
<rect x="654.3" y="507.6" width="13.300000000000068" height="341.4" fill="url(#cbg)" stroke="#111" stroke-width="1.1"/>
<text x="671.5" y="852.50" class="cbl">0</text>
<text x="671.5" y="784.22" class="cbl">20</text>
<text x="671.5" y="715.94" class="cbl">40</text>
<text x="671.5" y="647.66" class="cbl">60</text>
<text x="671.5" y="579.38" class="cbl">80</text>
<text x="671.5" y="511.10" class="cbl">100</text>
<path d="M654.3 780.72h2.2M665.4 780.72h2.2 M654.3 712.44h2.2M665.4 712.44h2.2 M654.3 644.16h2.2M665.4 644.16h2.2 M654.3 575.88h2.2M665.4 575.88h2.2" stroke="#111" stroke-width="1" fill="none"/><g transform="translate(19.1 17.5) scale(0.990 1.087)" stroke-linecap="square" stroke-width="0.82" fill="none"><g stroke="#e8344a"><use href="#dE0"/><use href="#dE1"/><use href="#dE2"/><use href="#dE3"/><use href="#dE4"/><use href="#dE5"/><use href="#dE6"/><use href="#dE7"/><use href="#dE8"/><use href="#dE9"/><use href="#dE10"/><use href="#dE11"/><use href="#dE12"/><use href="#dE13"/><use href="#dE14"/><use href="#dE15"/></g><g stroke="#7d8c33"><use href="#dD0"/><use href="#dD1"/><use href="#dD2"/><use href="#dD3"/><use href="#dD4"/><use href="#dD5"/><use href="#dD6"/><use href="#dD7"/><use href="#dD8"/><use href="#dD9"/><use href="#dD10"/><use href="#dD11"/><use href="#dD12"/><use href="#dD13"/><use href="#dD14"/><use href="#dD15"/></g><g stroke="#1d9b5c"><use href="#dA0"/><use href="#dA1"/><use href="#dA2"/><use href="#dA3"/><use href="#dA4"/><use href="#dA5"/><use href="#dA6"/><use href="#dA7"/><use href="#dA8"/><use href="#dA9"/><use href="#dA10"/><use href="#dA11"/><use href="#dA12"/><use href="#dA13"/><use href="#dA14"/><use href="#dA15"/></g><g stroke="#1f90d2"><use href="#dB0"/><use href="#dB1"/><use href="#dB2"/><use href="#dB3"/><use href="#dB4"/><use href="#dB5"/><use href="#dB6"/><use href="#dB7"/><use href="#dB8"/><use href="#dB9"/><use href="#dB10"/><use href="#dB11"/><use href="#dB12"/><use href="#dB13"/><use href="#dB14"/><use href="#dB15"/></g><g stroke="#a45aa2"><use href="#dC0"/><use href="#dC1"/><use href="#dC2"/><use href="#dC3"/><use href="#dC4"/><use href="#dC5"/><use href="#dC6"/><use href="#dC7"/><use href="#dC8"/><use href="#dC9"/><use href="#dC10"/><use href="#dC11"/><use href="#dC12"/><use href="#dC13"/><use href="#dC14"/><use href="#dC15"/></g></g><ellipse cx="48.5" cy="85.3" rx="29" ry="9.5" transform="rotate(-21 48.5 85.3)" fill="none" stroke="#222" stroke-width="1.5" stroke-dasharray="4.2 2.8"/><ellipse cx="91" cy="63" rx="21" ry="11" transform="rotate(-22 91 63)" fill="none" stroke="#222" stroke-width="1.5" stroke-dasharray="4.2 2.8"/><ellipse cx="130" cy="59" rx="34.5" ry="14.5" transform="rotate(52 130 59)" fill="none" stroke="#222" stroke-width="1.5" stroke-dasharray="4.2 2.8"/><ellipse cx="163" cy="39" rx="23" ry="24" fill="none" stroke="#222" stroke-width="1.5" stroke-dasharray="4.2 2.8"/><ellipse cx="160.5" cy="112" rx="30.7" ry="27" fill="none" stroke="#222" stroke-width="1.5" stroke-dasharray="4.2 2.8"/><rect x="17.8" y="13.4" width="176.8" height="128.9" fill="none" stroke="#1a1a1a" stroke-width="1.5"/><path d="M15 37.7h2.8M15 72.4h2.8M15 107.9h2.8M44.4 142.3v2.8M89.9 142.3v2.8M137.2 142.3v2.8M183.4 142.3v2.8" stroke="#1a1a1a" stroke-width="1.3"/><text x="13.8" y="40.5" text-anchor="end" style="font-size:7.9px;font-weight:bold;fill:#2a2a2a">4</text><text x="13.8" y="75.2" text-anchor="end" style="font-size:7.9px;font-weight:bold;fill:#2a2a2a">0</text><text x="13.8" y="110.7" text-anchor="end" style="font-size:7.9px;font-weight:bold;fill:#2a2a2a">-4</text><text x="44.4" y="152.4" text-anchor="middle" style="font-size:7.9px;font-weight:bold;fill:#2a2a2a">-10</text><text x="89.9" y="152.4" text-anchor="middle" style="font-size:7.9px;font-weight:bold;fill:#2a2a2a">-5</text><text x="137.2" y="152.4" text-anchor="middle" style="font-size:7.9px;font-weight:bold;fill:#2a2a2a">0</text><text x="183.4" y="152.4" text-anchor="middle" style="font-size:7.9px;font-weight:bold;fill:#2a2a2a">5</text><text x="114.6" y="156.3" text-anchor="middle" style="font-size:7.9px;font-weight:bold;fill:#2a2a2a">UMAP1</text><text transform="translate(8.3 72) rotate(-90)" text-anchor="middle" style="font-size:7.4px;font-weight:bold;fill:#2a2a2a">UMAP2</text><text x="133.3" y="22.6" text-anchor="middle" style="font-size:9.7px;font-weight:bold;fill:#12a05e">Group A</text><text x="133.3" y="32.4" text-anchor="middle" style="font-size:9.7px;font-weight:bold;fill:#12a05e">845</text><text x="68.8" y="48.9" text-anchor="middle" style="font-size:9.7px;font-weight:bold;fill:#71822a">Group D</text><text x="68.8" y="58.9" text-anchor="middle" style="font-size:9.7px;font-weight:bold;fill:#71822a">640</text><text x="112.2" y="88.6" text-anchor="middle" style="font-size:9.7px;font-weight:bold;fill:#a0429e">Group C</text><text x="112.2" y="96.6" text-anchor="middle" style="font-size:9.7px;font-weight:bold;fill:#a0429e">1282</text><text x="42.9" y="106.4" text-anchor="middle" style="font-size:9.7px;font-weight:bold;fill:#e8304a">Group E</text><text x="42.9" y="115.9" text-anchor="middle" style="font-size:9.7px;font-weight:bold;fill:#e8304a">186</text><text x="124.8" y="129.6" text-anchor="middle" style="font-size:9.7px;font-weight:bold;fill:#22a6e0">Group B</text><text x="124.8" y="139.0" text-anchor="middle" style="font-size:9.7px;font-weight:bold;fill:#22a6e0">1228</text><text x="0.3" y="11.9" style="font-size:17px;font-weight:bold;fill:#141414">a</text><g transform="translate(201.6 12.3) scale(1.0018 1.0081)" stroke-linecap="square" stroke-width="0.92" fill="none"><use href="#dall" stroke="#76b9cf"/></g><rect x="201.6" y="12.3" width="170.3" height="111.9" fill="none" stroke="#2a2a2a" stroke-width="1.3"/><rect x="375.3" y="45.0" width="10.8" height="53.2" fill="url(#fcbg)"/><text x="390.5" y="57.4" style="font-size:7.2px;fill:#222">4</text><text x="390.5" y="68.2" style="font-size:7.2px;fill:#222">3</text><text x="390.5" y="79.0" style="font-size:7.2px;fill:#222">2</text><text x="390.5" y="90.0" style="font-size:7.2px;fill:#222">1</text><text x="390.5" y="100.3" style="font-size:7.2px;fill:#222">0</text><path d="M375.3 54.8h2M384.1 54.8h2M375.3 65.6h2M384.1 65.6h2M375.3 76.4h2M384.1 76.4h2M375.3 87.4h2M384.1 87.4h2M375.3 97.7h2M384.1 97.7h2" stroke="#fff" stroke-opacity="0.6" stroke-width="0.6"/><text x="203.1" y="23.5" style="font-size:11.3px;font-weight:bold;fill:#141414">SAG1</text><text x="330.3" y="25.7" text-anchor="middle" style="font-size:14.0px;font-weight:bold;fill:#141414">A</text><text x="262.9" y="45.3" text-anchor="middle" style="font-size:14.0px;font-weight:bold;fill:#141414">D</text><text x="303.3" y="68.6" text-anchor="middle" style="font-size:14.0px;font-weight:bold;fill:#141414">C</text><text x="234.4" y="90.5" text-anchor="middle" style="font-size:14.0px;font-weight:bold;fill:#141414">E</text><text x="324.5" y="118.2" text-anchor="middle" style="font-size:14.0px;font-weight:bold;fill:#141414">B</text><g transform="translate(3.5 175.4) scale(1.0035 0.9991)" stroke-linecap="square" stroke-width="0.92" fill="none"><use href="#dall" stroke="#76b9cf"/><g stroke="#e8473d"><use href="#dB0"/><use href="#dB1"/><use href="#dB2"/><use href="#dB3"/><use href="#dB4"/><use href="#dB5"/><use href="#dB6"/><use href="#dB7"/></g><g stroke="#e8473d" clip-path="url(#cB_low)"><use href="#dB0"/><use href="#dB1"/><use href="#dB2"/><use href="#dB3"/><use href="#dB4"/><use href="#dB5"/><use href="#dB6"/><use href="#dB7"/><use href="#dB8"/><use href="#dB9"/><use href="#dB10"/><use href="#dB11"/></g><g stroke="#e8473d" clip-path="url(#cA_ringR)"><use href="#dA0"/><use href="#dA1"/><use href="#dA2"/><use href="#dA3"/></g><g stroke="#e8473d" clip-path="url(#cA_stem)"><use href="#dA0"/><use href="#dA1"/></g><g stroke="#e8473d" clip-path="url(#cB_upper)"><use href="#dC0"/><use href="#dC1"/></g><g stroke="#e8473d" clip-path="url(#cCtop)"><use href="#dC0"/></g><g stroke="#e8473d" clip-path="url(#cD_left)"><use href="#dD0"/></g></g><rect x="3.5" y="175.4" width="170.6" height="110.9" fill="none" stroke="#2a2a2a" stroke-width="1.3"/><rect x="177.4" y="207.4" width="10.8" height="54.2" fill="url(#fcbg)"/><text x="193" y="216.0" style="font-size:7.4px;fill:#222">6</text><text x="193" y="232.1" style="font-size:7.4px;fill:#222">4</text><text x="193" y="248.2" style="font-size:7.4px;fill:#222">2</text><text x="193" y="264.3" style="font-size:7.4px;fill:#222">0</text><path d="M177.4 213.3h2M186.2 213.3h2M177.4 229.4h2M186.2 229.4h2M177.4 245.5h2M186.2 245.5h2M177.4 261.6h2M186.2 261.6h2" stroke="#fff" stroke-opacity="0.6" stroke-width="0.6"/><text x="5.2" y="186.5" style="font-size:11.5px;font-weight:bold;fill:#141414">SRS22A</text><text x="132.5" y="187.7" text-anchor="middle" style="font-size:14.0px;font-weight:bold;fill:#141414">A</text><text x="65.4" y="207.6" text-anchor="middle" style="font-size:14.0px;font-weight:bold;fill:#141414">D</text><text x="105.5" y="231.5" text-anchor="middle" style="font-size:14.0px;font-weight:bold;fill:#141414">C</text><text x="36.5" y="251.9" text-anchor="middle" style="font-size:14.0px;font-weight:bold;fill:#141414">E</text><text x="126.3" y="280.5" text-anchor="middle" style="font-size:14.0px;font-weight:bold;fill:#141414">B</text><rect x="38.8" y="263" width="61.9" height="22.5" fill="#fff" stroke="#666" stroke-width="0.8"/><text x="45.3" y="273.2" style="font-size:9.3px;fill:#333">highest 22A</text><text x="45.3" y="283.6" style="font-size:9.3px;fill:#333">in Group B</text><path d="M100.8 269.5L122.6 261.1" stroke="#111" stroke-width="1.3" fill="none"/><path d="M131.0 257.9L124.1 265.0L124.0 260.6L121.1 257.2z" fill="#111"/><g transform="translate(1.0 325.7) scale(0.9988 1.0045)" stroke-linecap="square" stroke-width="0.92" fill="none"><use href="#dall" stroke="#76b9cf"/><g stroke="#e8473d"><use href="#dA0"/><use href="#dA1"/><use href="#dA2"/><use href="#dA3"/><use href="#dA4"/><use href="#dA5"/><use href="#dA6"/><use href="#dA7"/><use href="#dA8"/><use href="#dA9"/><use href="#dA10"/><use href="#dA11"/><use href="#dA12"/><use href="#dA13"/><use href="#dA14"/><use href="#dA15"/><use href="#dC0"/><use href="#dC1"/><use href="#dC2"/><use href="#dC3"/><use href="#dC4"/><use href="#dC5"/><use href="#dC6"/><use href="#dC7"/><use href="#dC8"/><use href="#dC9"/><use href="#dC10"/><use href="#dC11"/><use href="#dC12"/><use href="#dC13"/><use href="#dC14"/><use href="#dC15"/><use href="#dD0"/><use href="#dD1"/><use href="#dD2"/><use href="#dD3"/><use href="#dD4"/><use href="#dD5"/><use href="#dD6"/><use href="#dD7"/><use href="#dD8"/><use href="#dD9"/><use href="#dD10"/><use href="#dD11"/><use href="#dD12"/><use href="#dD13"/><use href="#dD14"/><use href="#dD15"/></g><g stroke="#e8473d" clip-path="url(#cE_right)"><use href="#dE0"/><use href="#dE1"/><use href="#dE2"/><use href="#dE3"/><use href="#dE4"/><use href="#dE5"/><use href="#dE6"/><use href="#dE7"/><use href="#dE8"/><use href="#dE9"/><use href="#dE10"/><use href="#dE11"/><use href="#dE12"/><use href="#dE13"/><use href="#dE14"/><use href="#dE15"/></g><g stroke="#e8473d"><use href="#dB0"/><use href="#dB1"/></g><g stroke="#e8473d" clip-path="url(#cB_upper)"><use href="#dB0"/><use href="#dB1"/><use href="#dB2"/><use href="#dB3"/><use href="#dB4"/><use href="#dB5"/><use href="#dB6"/></g></g><rect x="1.0" y="325.7" width="169.8" height="111.5" fill="none" stroke="#2a2a2a" stroke-width="1.3"/><rect x="174.3" y="355.5" width="10.2" height="54.7" fill="url(#fcbg)"/><text x="189.8" y="364.5" style="font-size:7.6px;fill:#222">6</text><text x="189.8" y="380.6" style="font-size:7.6px;fill:#222">4</text><text x="189.8" y="396.8" style="font-size:7.6px;fill:#222">2</text><text x="189.8" y="412.9" style="font-size:7.6px;fill:#222">0</text><path d="M174.3 361.7h2M182.5 361.7h2M174.3 377.9h2M182.5 377.9h2M174.3 394.0h2M182.5 394.0h2M174.3 410.2h2M182.5 410.2h2" stroke="#fff" stroke-opacity="0.6" stroke-width="0.6"/><text x="2.7" y="337.4" style="font-size:11.5px;font-weight:bold;fill:#141414">BAG1</text><text x="129.6" y="338" text-anchor="middle" style="font-size:14.0px;font-weight:bold;fill:#141414">A</text><text x="60.8" y="358.4" text-anchor="middle" style="font-size:14.0px;font-weight:bold;fill:#141414">D</text><text x="101.9" y="381.8" text-anchor="middle" style="font-size:14.0px;font-weight:bold;fill:#141414">C</text><text x="33" y="404.2" text-anchor="middle" style="font-size:14.0px;font-weight:bold;fill:#141414">E</text><text x="123.3" y="430.8" text-anchor="middle" style="font-size:14.0px;font-weight:bold;fill:#141414">B</text><rect x="23.4" y="413.9" width="70" height="21.9" fill="#fff" stroke="#666" stroke-width="0.8"/><text x="25.7" y="423.6" style="font-size:9.3px;fill:#333">57% of Group B</text><text x="25.7" y="434.0" style="font-size:9.3px;fill:#333">are BAG1-</text><path d="M93.4 419.7L116.0 411.4" stroke="#111" stroke-width="1.3" fill="none"/><path d="M124.5 408.3L117.5 415.3L117.5 410.9L114.6 407.5z" fill="#111"/><g transform="translate(1.0 484.2) scale(1.0018 1.0000)" stroke-linecap="square" stroke-width="0.92" fill="none"><use href="#dall" stroke="#76b9cf"/><g stroke="#e8473d"><use href="#dA0"/><use href="#dA1"/><use href="#dA2"/><use href="#dA3"/><use href="#dA4"/><use href="#dA5"/><use href="#dA6"/><use href="#dA7"/><use href="#dA8"/><use href="#dA9"/><use href="#dA10"/><use href="#dC0"/><use href="#dC1"/><use href="#dC2"/><use href="#dC3"/><use href="#dC4"/><use href="#dC5"/><use href="#dC6"/><use href="#dC7"/><use href="#dC8"/><use href="#dC9"/><use href="#dC10"/><use href="#dC11"/><use href="#dC12"/><use href="#dC13"/><use href="#dD0"/><use href="#dD1"/><use href="#dD2"/><use href="#dD3"/><use href="#dD4"/><use href="#dD5"/><use href="#dD6"/><use href="#dD7"/><use href="#dD8"/><use href="#dD9"/><use href="#dD10"/><use href="#dD11"/><use href="#dD12"/><use href="#dD13"/><use href="#dD14"/><use href="#dD15"/><use href="#dE0"/><use href="#dE1"/><use href="#dE2"/><use href="#dE3"/><use href="#dE4"/><use href="#dE5"/><use href="#dB0"/><use href="#dB1"/><use href="#dB2"/><use href="#dB3"/><use href="#dB4"/><use href="#dB5"/><use href="#dB6"/><use href="#dB7"/><use href="#dB8"/><use href="#dB9"/><use href="#dB10"/></g><g stroke="#e8473d" clip-path="url(#cE_right2)"><use href="#dE0"/><use href="#dE1"/><use href="#dE2"/><use href="#dE3"/><use href="#dE4"/><use href="#dE5"/><use href="#dE6"/><use href="#dE7"/><use href="#dE8"/><use href="#dE9"/><use href="#dE10"/><use href="#dE11"/></g></g><rect x="1.0" y="484.2" width="170.3" height="111.0" fill="none" stroke="#2a2a2a" stroke-width="1.3"/><rect x="177.2" y="513.8" width="9.7" height="54.0" fill="url(#fcbg)"/><text x="192.7" y="518.8" style="font-size:7.6px;fill:#222">6</text><text x="192.7" y="536.1" style="font-size:7.6px;fill:#222">4</text><text x="192.7" y="553.3" style="font-size:7.6px;fill:#222">2</text><text x="192.7" y="570.5" style="font-size:7.6px;fill:#222">0</text><path d="M177.2 516.1h2M184.9 516.1h2M177.2 533.3h2M184.9 533.3h2M177.2 550.6h2M184.9 550.6h2M177.2 567.8h2M184.9 567.8h2" stroke="#fff" stroke-opacity="0.6" stroke-width="0.6"/><text x="2.7" y="495.7" style="font-size:11.5px;font-weight:bold;fill:#141414">LDH2</text><text x="130" y="496.3" text-anchor="middle" style="font-size:14.0px;font-weight:bold;fill:#141414">A</text><text x="61.7" y="515.8" text-anchor="middle" style="font-size:14.0px;font-weight:bold;fill:#141414">D</text><text x="101.9" y="540.1" text-anchor="middle" style="font-size:14.0px;font-weight:bold;fill:#141414">C</text><text x="33.6" y="561.1" text-anchor="middle" style="font-size:14.0px;font-weight:bold;fill:#141414">E</text><text x="123.3" y="589.1" text-anchor="middle" style="font-size:14.0px;font-weight:bold;fill:#141414">B</text><g transform="translate(210.6 484.5) scale(1.0000 1.0063)" stroke-linecap="square" stroke-width="0.92" fill="none"><use href="#dall" stroke="#76b9cf"/><g stroke="#e8473d"><use href="#dB0"/><use href="#dB1"/><use href="#dB2"/><use href="#dB3"/><use href="#dB4"/><use href="#dB5"/><use href="#dB6"/><use href="#dB7"/></g><g stroke="#e8473d" clip-path="url(#cB_lowleft)"><use href="#dB0"/><use href="#dB1"/><use href="#dB2"/><use href="#dB3"/><use href="#dB4"/><use href="#dB5"/><use href="#dB6"/><use href="#dB7"/><use href="#dB8"/><use href="#dB9"/><use href="#dB10"/><use href="#dB11"/></g><g stroke="#e8473d" clip-path="url(#cA_ring)"><use href="#dA0"/><use href="#dA1"/><use href="#dA2"/><use href="#dA3"/><use href="#dA4"/><use href="#dA5"/><use href="#dA6"/><use href="#dA7"/></g><g stroke="#e8473d" clip-path="url(#cA_stem)"><use href="#dA0"/><use href="#dA1"/><use href="#dA2"/><use href="#dA3"/></g><g stroke="#e8473d" clip-path="url(#cC_body)"><use href="#dC0"/><use href="#dC1"/><use href="#dC2"/><use href="#dC3"/></g><g stroke="#e8473d" clip-path="url(#cD_left)"><use href="#dD0"/></g><g stroke="#e8473d"><use href="#dE0"/><use href="#dE1"/></g></g><rect x="210.6" y="484.5" width="170.0" height="111.7" fill="none" stroke="#2a2a2a" stroke-width="1.3"/><rect x="384" y="510.6" width="10.5" height="53.1" fill="url(#fcbg)"/><text x="398.9" y="523.6" style="font-size:8.4px;fill:#222">4</text><text x="398.9" y="534.1" style="font-size:8.4px;fill:#222">3</text><text x="398.9" y="544.6" style="font-size:8.4px;fill:#222">2</text><text x="398.9" y="555.7" style="font-size:8.4px;fill:#222">1</text><text x="398.9" y="566.7" style="font-size:8.4px;fill:#222">0</text><path d="M384.0 520.6h2M392.5 520.6h2M384.0 531.1h2M392.5 531.1h2M384.0 541.6h2M392.5 541.6h2M384.0 552.7h2M392.5 552.7h2M384.0 563.7h2M392.5 563.7h2" stroke="#fff" stroke-opacity="0.6" stroke-width="0.6"/><text x="211.6" y="496.9" style="font-size:11.5px;font-weight:bold;fill:#141414">GRA63</text><text x="339.1" y="496.8" text-anchor="middle" style="font-size:14.0px;font-weight:bold;fill:#141414">A</text><text x="271.3" y="517.5" text-anchor="middle" style="font-size:14.0px;font-weight:bold;fill:#141414">D</text><text x="312.1" y="540.2" text-anchor="middle" style="font-size:14.0px;font-weight:bold;fill:#141414">C</text><text x="243.3" y="561.8" text-anchor="middle" style="font-size:14.0px;font-weight:bold;fill:#141414">E</text><text x="332.8" y="589.3" text-anchor="middle" style="font-size:14.0px;font-weight:bold;fill:#141414">B</text><text x="224.3" y="579.3" style="font-size:9.4px;fill:#333">many GRA mRNAs</text><text x="224.3" y="589.7" style="font-size:9.4px;fill:#333">have this profile</text><g transform="translate(0.9 623.6) scale(1.0024 1.0000)" stroke-linecap="square" stroke-width="0.92" fill="none"><use href="#dall" stroke="#76b9cf"/><g stroke="#e8473d"><use href="#dD0"/><use href="#dD1"/><use href="#dD2"/><use href="#dD3"/><use href="#dD4"/><use href="#dD5"/><use href="#dD6"/><use href="#dD7"/><use href="#dD8"/><use href="#dD9"/><use href="#dD10"/><use href="#dD11"/></g><g stroke="#e8473d" clip-path="url(#cCtop)"><use href="#dC0"/><use href="#dC1"/><use href="#dC2"/><use href="#dC3"/><use href="#dC4"/><use href="#dC5"/><use href="#dC6"/><use href="#dC7"/><use href="#dC8"/><use href="#dC9"/><use href="#dC10"/><use href="#dC11"/><use href="#dC12"/><use href="#dC13"/><use href="#dC14"/><use href="#dC15"/></g><g stroke="#e8473d" clip-path="url(#cC_upper)"><use href="#dC0"/><use href="#dC1"/><use href="#dC2"/><use href="#dC3"/><use href="#dC4"/><use href="#dC5"/><use href="#dC6"/><use href="#dC7"/></g><g stroke="#e8473d" clip-path="url(#cA_left)"><use href="#dA0"/><use href="#dA1"/><use href="#dA2"/><use href="#dA3"/><use href="#dA4"/><use href="#dA5"/><use href="#dA6"/><use href="#dA7"/><use href="#dA8"/><use href="#dA9"/><use href="#dA10"/><use href="#dA11"/></g><g stroke="#e8473d"><use href="#dA0"/><use href="#dA1"/></g><g stroke="#e8473d"><use href="#dB0"/></g><g stroke="#e8473d" clip-path="url(#cB_lobe)"><use href="#dB0"/><use href="#dB1"/><use href="#dB2"/><use href="#dB3"/></g></g><rect x="0.9" y="623.6" width="170.4" height="111.0" fill="none" stroke="#2a2a2a" stroke-width="1.3"/><rect x="175.2" y="649" width="10.2" height="52.6" fill="url(#fcbg)"/><text x="189.8" y="653.3" style="font-size:8.2px;fill:#222">5</text><text x="189.8" y="663.5" style="font-size:8.2px;fill:#222">4</text><text x="189.8" y="673.8" style="font-size:8.2px;fill:#222">3</text><text x="189.8" y="684.0" style="font-size:8.2px;fill:#222">2</text><text x="189.8" y="694.3" style="font-size:8.2px;fill:#222">1</text><text x="189.8" y="704.6" style="font-size:8.2px;fill:#222">0</text><path d="M175.2 650.3h2M183.4 650.3h2M175.2 660.6h2M183.4 660.6h2M175.2 670.8h2M183.4 670.8h2M175.2 681.1h2M183.4 681.1h2M175.2 691.3h2M183.4 691.3h2M175.2 701.6h2M183.4 701.6h2" stroke="#fff" stroke-opacity="0.6" stroke-width="0.6"/><text x="3.8" y="636.8" style="font-size:11.5px;font-weight:bold;fill:#141414">SRS49D</text><text x="130" y="636.5" text-anchor="middle" style="font-size:14.0px;font-weight:bold;fill:#141414">A</text><text x="62" y="656.3" text-anchor="middle" style="font-size:14.0px;font-weight:bold;fill:#141414">D</text><text x="102.6" y="679.7" text-anchor="middle" style="font-size:14.0px;font-weight:bold;fill:#141414">C</text><text x="33.6" y="700.7" text-anchor="middle" style="font-size:14.0px;font-weight:bold;fill:#141414">E</text><text x="123.3" y="729.3" text-anchor="middle" style="font-size:14.0px;font-weight:bold;fill:#141414">B</text><g transform="translate(212.4 621.9) scale(1.0018 1.0036)" stroke-linecap="square" stroke-width="0.92" fill="none"><use href="#dall" stroke="#76b9cf"/><g stroke="#e8473d" clip-path="url(#cA_ringR)"><use href="#dA0"/><use href="#dA1"/><use href="#dA2"/><use href="#dA3"/><use href="#dA4"/><use href="#dA5"/><use href="#dA6"/><use href="#dA7"/><use href="#dA8"/><use href="#dA9"/><use href="#dA10"/><use href="#dA11"/></g><g stroke="#e8473d" clip-path="url(#cA_ring)"><use href="#dA0"/><use href="#dA1"/><use href="#dA2"/><use href="#dA3"/></g><g stroke="#e8473d"><use href="#dE0"/><use href="#dE1"/></g><g stroke="#e8473d" clip-path="url(#cE_left2)"><use href="#dE0"/><use href="#dE1"/><use href="#dE2"/><use href="#dE3"/><use href="#dE4"/><use href="#dE5"/><use href="#dE6"/><use href="#dE7"/><use href="#dE8"/><use href="#dE9"/><use href="#dE10"/></g></g><rect x="212.4" y="621.9" width="170.3" height="111.4" fill="none" stroke="#2a2a2a" stroke-width="1.3"/><rect x="386.2" y="656.3" width="10.6" height="52.7" fill="url(#fcbg)"/><text x="401.7" y="660.7" style="font-size:8.2px;fill:#222">5</text><text x="401.7" y="670.9" style="font-size:8.2px;fill:#222">4</text><text x="401.7" y="681.0" style="font-size:8.2px;fill:#222">3</text><text x="401.7" y="691.3" style="font-size:8.2px;fill:#222">2</text><text x="401.7" y="701.9" style="font-size:8.2px;fill:#222">1</text><text x="401.7" y="712.0" style="font-size:8.2px;fill:#222">0</text><path d="M386.2 657.7h2M394.8 657.7h2M386.2 667.9h2M394.8 667.9h2M386.2 678.0h2M394.8 678.0h2M386.2 688.3h2M394.8 688.3h2M386.2 698.9h2M394.8 698.9h2M386.2 709.0h2M394.8 709.0h2" stroke="#fff" stroke-opacity="0.6" stroke-width="0.6"/><text x="213.7" y="633.3" style="font-size:11.5px;font-weight:bold;fill:#141414">ROP42</text><text x="340.9" y="634.8" text-anchor="middle" style="font-size:14.0px;font-weight:bold;fill:#141414">A</text><text x="273.2" y="654.9" text-anchor="middle" style="font-size:14.0px;font-weight:bold;fill:#141414">D</text><text x="313.8" y="678.2" text-anchor="middle" style="font-size:14.0px;font-weight:bold;fill:#141414">C</text><text x="237.8" y="701.3" text-anchor="middle" style="font-size:14.0px;font-weight:bold;fill:#141414">E</text><text x="335" y="726.7" text-anchor="middle" style="font-size:14.0px;font-weight:bold;fill:#141414">B</text><path d="M290.2 718.3L252.4 694.4" stroke="#111" stroke-width="1.3" stroke-dasharray="4.5 3" fill="none"/><path d="M244.0 689.0L254.9 690.5L251.2 693.6L250.0 698.2z" fill="#111"/><path d="M290.2 718.3L356.1 649.7" stroke="#111" stroke-width="1.3" stroke-dasharray="4.5 3" fill="none"/><path d="M363.0 642.5L359.4 652.9L357.1 648.6L352.8 646.5z" fill="#111"/><text x="276.2" y="727.8" text-anchor="middle" style="font-size:10.6px;fill:#333">shared expression</text><g transform="translate(1.5 741.1) scale(1.0029 0.9955)" stroke-linecap="square" stroke-width="0.92" fill="none"><use href="#dall" stroke="#76b9cf"/><g stroke="#e8473d"><use href="#dD0"/><use href="#dD1"/><use href="#dD2"/><use href="#dD3"/><use href="#dD4"/><use href="#dD5"/><use href="#dD6"/><use href="#dD7"/><use href="#dD8"/><use href="#dD9"/><use href="#dD10"/><use href="#dD11"/><use href="#dD12"/><use href="#dD13"/><use href="#dD14"/><use href="#dD15"/></g><g stroke="#e8473d" clip-path="url(#cCtop)"><use href="#dC0"/><use href="#dC1"/><use href="#dC2"/><use href="#dC3"/><use href="#dC4"/><use href="#dC5"/><use href="#dC6"/><use href="#dC7"/><use href="#dC8"/><use href="#dC9"/><use href="#dC10"/><use href="#dC11"/><use href="#dC12"/><use href="#dC13"/><use href="#dC14"/><use href="#dC15"/></g><g stroke="#e8473d" clip-path="url(#cC_upper)"><use href="#dC0"/><use href="#dC1"/><use href="#dC2"/><use href="#dC3"/><use href="#dC4"/><use href="#dC5"/><use href="#dC6"/><use href="#dC7"/><use href="#dC8"/><use href="#dC9"/><use href="#dC10"/><use href="#dC11"/></g><g stroke="#e8473d"><use href="#dC0"/><use href="#dC1"/><use href="#dC2"/><use href="#dC3"/><use href="#dC4"/><use href="#dC5"/><use href="#dC6"/><use href="#dC7"/></g><g stroke="#e8473d" clip-path="url(#cA_left)"><use href="#dA0"/><use href="#dA1"/><use href="#dA2"/><use href="#dA3"/><use href="#dA4"/><use href="#dA5"/><use href="#dA6"/><use href="#dA7"/><use href="#dA8"/><use href="#dA9"/></g><g stroke="#e8473d" clip-path="url(#cBtl)"><use href="#dB0"/><use href="#dB1"/><use href="#dB2"/><use href="#dB3"/></g><g stroke="#e8473d"><use href="#dB0"/></g><g stroke="#e8473d" clip-path="url(#cB_lobe)"><use href="#dB0"/><use href="#dB1"/><use href="#dB2"/><use href="#dB3"/></g></g><rect x="1.5" y="741.1" width="170.5" height="110.5" fill="none" stroke="#2a2a2a" stroke-width="1.3"/><rect x="176.1" y="766.1" width="10.7" height="52.5" fill="url(#fcbg)"/><text x="191.2" y="770.3" style="font-size:8.2px;fill:#222">5</text><text x="191.2" y="780.5" style="font-size:8.2px;fill:#222">4</text><text x="191.2" y="790.7" style="font-size:8.2px;fill:#222">3</text><text x="191.2" y="800.9" style="font-size:8.2px;fill:#222">2</text><text x="191.2" y="811.1" style="font-size:8.2px;fill:#222">1</text><text x="191.2" y="821.4" style="font-size:8.2px;fill:#222">0</text><path d="M176.1 767.3h2M184.8 767.3h2M176.1 777.5h2M184.8 777.5h2M176.1 787.7h2M184.8 787.7h2M176.1 798.0h2M184.8 798.0h2M176.1 808.2h2M184.8 808.2h2M176.1 818.4h2M184.8 818.4h2" stroke="#fff" stroke-opacity="0.6" stroke-width="0.6"/><text x="4.7" y="752.8" style="font-size:11.5px;font-weight:bold;fill:#141414">SRS44</text><text x="4.7" y="765.7" style="font-size:11.5px;font-weight:bold;fill:#141414">(CST1)</text><text x="130.2" y="753.4" text-anchor="middle" style="font-size:14.0px;font-weight:bold;fill:#141414">A</text><text x="63" y="773.2" text-anchor="middle" style="font-size:14.0px;font-weight:bold;fill:#141414">D</text><text x="103.3" y="796.6" text-anchor="middle" style="font-size:14.0px;font-weight:bold;fill:#141414">C</text><text x="34.4" y="818.2" text-anchor="middle" style="font-size:14.0px;font-weight:bold;fill:#141414">E</text><text x="124" y="846.2" text-anchor="middle" style="font-size:14.0px;font-weight:bold;fill:#141414">B</text><g transform="translate(213.3 738.5) scale(1.0018 1.0018)" stroke-linecap="square" stroke-width="0.92" fill="none"><use href="#dall" stroke="#76b9cf"/><g stroke="#e8473d"><use href="#dE0"/><use href="#dE1"/></g><g stroke="#e8473d" clip-path="url(#cA_ringR2)"><use href="#dA0"/><use href="#dA1"/><use href="#dA2"/><use href="#dA3"/></g></g><rect x="213.3" y="738.5" width="170.3" height="111.2" fill="none" stroke="#2a2a2a" stroke-width="1.3"/><rect x="387" y="763.1" width="11.1" height="56.9" fill="url(#fcbg)"/><text x="403.7" y="779.3" style="font-size:8.2px;fill:#222">3</text><text x="403.7" y="793.6" style="font-size:8.2px;fill:#222">2</text><text x="403.7" y="808.4" style="font-size:8.2px;fill:#222">1</text><text x="403.7" y="823.0" style="font-size:8.2px;fill:#222">0</text><path d="M387.0 776.3h2M396.1 776.3h2M387.0 790.6h2M396.1 790.6h2M387.0 805.4h2M396.1 805.4h2M387.0 820.0h2M396.1 820.0h2" stroke="#fff" stroke-opacity="0.6" stroke-width="0.6"/><text x="214.6" y="748.8" style="font-size:11.5px;font-weight:bold;fill:#141414">AP2XII-9</text><text x="342.1" y="751" text-anchor="middle" style="font-size:14.0px;font-weight:bold;fill:#141414">A</text><text x="274" y="773.2" text-anchor="middle" style="font-size:14.0px;font-weight:bold;fill:#141414">D</text><text x="314.7" y="795.2" text-anchor="middle" style="font-size:14.0px;font-weight:bold;fill:#141414">C</text><text x="231.8" y="799.4" text-anchor="middle" style="font-size:14.0px;font-weight:bold;fill:#141414">E</text><text x="336.9" y="843.7" text-anchor="middle" style="font-size:14.0px;font-weight:bold;fill:#141414">B</text><text x="214.9" y="758.3" style="font-size:7.3px;font-weight:bold;fill:#222">rhoptry regulator</text><path d="M215.5 810.7L218.8 849.2M263.3 792.4L302 819.4" stroke="#222" stroke-width="0.8" fill="none"/><g transform="translate(213.3 738.5)"><g transform="translate(7.7 108.7) rotate(2.7) scale(1.70) translate(-2.8 -71.2)" stroke-linecap="square" stroke-width="1.35" fill="none"><use href="#dEtb" stroke="#62b2cd"/><use href="#dEtr" stroke="#e8473d"/></g></g><path d="M237.4 197.1V281.0" stroke="#666" stroke-width="0.5"/><rect x="224.4" y="280.9" width="26" height="1.0" fill="#111"/><path d="M269.80 182.38L270.17 183.49L270.62 184.60L271.15 185.71L271.75 186.82L272.40 187.93L273.17 189.03L274.14 190.14L275.21 191.25L276.31 192.36L277.33 193.47L278.18 194.57L278.88 195.68L279.54 196.79L280.15 197.90L280.71 199.01L281.20 200.11L281.63 201.22L282.02 202.33L282.40 203.44L282.74 204.55L283.05 205.65L283.31 206.76L283.52 207.87L283.66 208.98L283.80 210.09L283.92 211.19L284.03 212.30L284.12 213.41L284.17 214.52L284.20 215.63L284.01 216.73L283.43 217.84L282.65 218.95L281.87 220.06L281.24 221.17L280.56 222.27L279.95 223.38L279.62 224.49L279.71 225.60L280.06 226.71L280.44 227.81L280.60 228.92L280.52 230.03L280.32 231.14L280.03 232.25L279.65 233.35L279.23 234.46L278.55 235.57L277.48 236.68L276.30 237.79L275.26 238.89L274.27 240.00L273.30 241.11L272.48 242.22L271.87 243.33L271.34 244.43L270.90 245.54L270.62 246.65L270.46 247.76L270.32 248.87L270.22 249.98L270.16 251.08L270.15 252.19L270.15 253.30L270.15 254.41L270.15 255.52L270.15 256.62L270.15 257.73L270.15 258.84L270.15 259.95L270.15 261.06L270.15 262.16L270.15 263.27L270.15 264.38L270.17 265.49L270.27 266.60L270.43 267.70L270.61 268.81L270.85 269.92L271.22 271.03L271.85 272.14L272.83 273.24L273.90 274.35L274.82 275.46L275.62 276.57L276.50 277.68L277.68 278.78L280.00 279.89L282.30 281.00L257.30 281.00L259.60 279.89L261.92 278.78L263.10 277.68L263.98 276.57L264.78 275.46L265.70 274.35L266.77 273.24L267.75 272.14L268.38 271.03L268.75 269.92L268.99 268.81L269.17 267.70L269.33 266.60L269.43 265.49L269.45 264.38L269.45 263.27L269.45 262.16L269.45 261.06L269.45 259.95L269.45 258.84L269.45 257.73L269.45 256.62L269.45 255.52L269.45 254.41L269.45 253.30L269.45 252.19L269.44 251.08L269.38 249.98L269.28 248.87L269.14 247.76L268.98 246.65L268.70 245.54L268.26 244.43L267.73 243.33L267.12 242.22L266.30 241.11L265.33 240.00L264.34 238.89L263.30 237.79L262.12 236.68L261.05 235.57L260.37 234.46L259.95 233.35L259.57 232.25L259.28 231.14L259.08 230.03L259.00 228.92L259.16 227.81L259.54 226.71L259.89 225.60L259.98 224.49L259.65 223.38L259.04 222.27L258.36 221.17L257.73 220.06L256.95 218.95L256.17 217.84L255.59 216.73L255.40 215.63L255.43 214.52L255.48 213.41L255.57 212.30L255.68 211.19L255.80 210.09L255.94 208.98L256.08 207.87L256.29 206.76L256.55 205.65L256.86 204.55L257.20 203.44L257.58 202.33L257.97 201.22L258.40 200.11L258.89 199.01L259.45 197.90L260.06 196.79L260.72 195.68L261.42 194.57L262.27 193.47L263.29 192.36L264.39 191.25L265.46 190.14L266.43 189.03L267.20 187.93L267.85 186.82L268.45 185.71L268.98 184.60L269.43 183.49L269.80 182.38Z" fill="#849a1f" stroke="#222" stroke-width="0.5"/><path d="M302.1 196.2V281.0" stroke="#666" stroke-width="0.5"/><rect x="289.1" y="280.9" width="26" height="1.0" fill="#111"/><path d="M334.3 209.3V281.0" stroke="#666" stroke-width="0.5"/><rect x="321.3" y="280.9" width="26" height="1.0" fill="#111"/><path d="M366.5 210.9V281.0" stroke="#666" stroke-width="0.5"/><rect x="353.5" y="280.9" width="26" height="1.0" fill="#111"/><path d="M237.4 231.8h0M224.7 220.1h0M249.0 235.0h0M227.4 226.5h0M240.7 224.8h0M237.7 216.8h0M231.3 225.4h0M245.2 235.8h0M237.7 224.0h0M238.7 233.6h0M229.4 240.6h0M237.0 228.2h0M230.3 240.1h0M247.3 243.8h0M236.5 231.7h0M226.1 234.4h0M235.5 228.3h0M242.1 235.0h0M248.2 221.9h0M224.8 240.1h0M233.2 229.7h0M248.4 244.7h0M233.1 240.3h0M228.2 230.9h0M236.3 239.3h0M225.4 224.1h0M246.7 228.2h0M232.2 245.1h0M226.3 226.2h0M224.6 228.7h0M236.5 224.5h0M243.9 232.3h0M225.6 221.9h0M248.1 226.2h0M245.6 227.3h0M226.4 221.5h0M231.8 233.8h0M237.2 219.8h0M229.8 247.5h0M230.9 227.6h0M249.3 241.9h0M235.7 244.4h0M244.1 219.4h0M225.7 235.1h0M230.5 229.7h0M243.9 212.3h0M241.8 237.7h0M245.0 216.7h0M227.9 239.4h0M227.8 232.3h0M245.1 239.3h0M244.4 229.1h0M233.6 234.3h0M250.9 236.9h0M230.5 234.0h0M225.5 219.0h0M241.1 211.5h0M237.4 236.6h0M240.4 219.2h0M224.9 240.1h0M238.9 226.3h0M232.7 234.7h0M233.4 230.2h0M232.4 231.9h0M248.5 236.2h0M239.1 246.3h0M248.4 237.9h0M225.7 226.8h0M242.4 224.2h0M236.5 233.2h0M245.6 239.3h0M245.6 243.1h0M231.1 233.0h0M230.6 235.4h0M234.4 232.8h0M231.6 221.5h0M240.2 238.4h0M240.7 212.4h0M243.7 214.2h0M245.5 240.1h0M238.8 227.6h0M237.9 226.8h0M250.3 230.4h0M238.7 233.7h0M228.1 230.9h0M245.1 226.1h0M248.2 229.1h0M232.0 231.2h0M233.1 233.7h0M247.6 228.3h0M244.0 280.8h0M245.0 280.7h0M245.9 280.9h0M247.7 280.6h0M233.9 281.0h0M240.6 280.4h0M235.5 280.8h0M240.6 280.9h0M238.2 280.8h0M237.7 280.7h0M224.2 280.9h0M236.3 280.8h0M257.5 205.5h0M270.8 230.0h0M267.6 193.7h0M275.6 222.5h0M264.1 221.7h0M279.7 214.6h0M268.1 213.3h0M276.2 224.9h0M258.4 235.6h0M266.1 205.0h0M258.2 216.1h0M262.2 219.2h0M276.3 213.8h0M257.1 221.4h0M268.5 208.3h0M280.3 235.1h0M267.3 218.6h0M266.2 202.9h0M271.8 221.2h0M274.2 203.5h0M281.0 202.1h0M259.5 206.2h0M279.8 205.3h0M274.5 223.9h0M261.2 199.3h0M275.8 223.1h0M275.0 232.1h0M268.4 216.0h0M260.8 199.9h0M260.6 231.0h0M269.5 221.4h0M260.8 224.8h0M267.1 207.5h0M257.2 215.2h0M272.0 218.6h0M280.6 213.9h0M281.6 208.7h0M269.2 225.0h0M267.0 211.4h0M257.4 211.3h0M262.9 212.2h0M268.9 212.2h0M268.1 198.4h0M274.1 236.4h0M256.6 220.6h0M270.6 230.7h0M277.5 232.5h0M257.0 219.9h0M258.1 230.8h0M266.4 216.3h0M271.5 224.1h0M266.2 213.5h0M271.9 225.8h0M266.7 216.3h0M266.8 204.8h0M271.3 225.7h0M265.9 199.2h0M268.2 217.7h0M280.3 207.7h0M281.8 190.6h0M281.1 204.2h0M256.7 216.3h0M267.4 198.9h0M268.1 220.4h0M276.8 213.3h0M274.6 226.1h0M263.0 224.1h0M274.7 189.1h0M264.3 208.4h0M263.7 202.2h0M263.0 211.0h0M278.2 218.8h0M282.6 194.8h0M264.6 197.2h0M266.5 208.4h0M266.8 203.2h0M262.3 212.9h0M263.9 210.0h0M274.6 211.2h0M264.3 217.3h0M275.6 216.0h0M272.9 209.3h0M261.2 223.5h0M275.4 217.1h0M277.4 210.7h0M259.9 225.6h0M275.1 212.5h0M274.7 232.3h0M265.6 217.0h0M275.4 210.1h0M279.2 210.2h0M266.4 211.0h0M267.0 211.2h0M258.8 210.9h0M270.2 208.7h0M280.0 226.4h0M273.0 218.8h0M260.4 216.4h0M271.2 196.8h0M261.3 199.2h0M265.0 217.2h0M272.7 219.4h0M265.1 214.3h0M266.4 216.3h0M268.8 213.6h0M263.3 232.3h0M282.1 216.8h0M279.7 206.0h0M282.8 235.1h0M281.7 224.8h0M271.6 218.1h0M275.8 198.9h0M273.4 225.6h0M256.9 235.6h0M269.1 203.6h0M263.4 221.5h0M282.9 202.1h0M282.3 221.8h0M260.8 209.9h0M266.1 219.8h0M260.4 193.8h0M281.5 218.3h0M268.6 216.0h0M266.6 206.4h0M258.9 218.3h0M262.3 206.5h0M265.1 225.3h0M265.3 206.4h0M278.7 203.6h0M256.4 212.8h0M279.7 205.5h0M276.0 214.6h0M262.2 232.0h0M262.9 221.3h0M274.7 217.2h0M263.0 211.6h0M257.5 202.1h0M282.8 211.2h0M272.0 220.0h0M280.7 213.0h0M282.8 232.1h0M260.6 206.2h0M272.3 212.6h0M274.4 229.0h0M273.6 211.2h0M274.4 225.5h0M270.1 205.6h0M260.1 202.3h0M268.1 217.3h0M265.0 216.2h0M275.5 232.1h0M282.5 226.0h0M259.1 237.9h0M282.1 208.0h0M264.7 201.8h0M268.4 236.1h0M268.9 221.8h0M263.7 201.2h0M264.1 216.1h0M265.7 228.2h0M260.6 227.3h0M281.3 211.3h0M279.1 201.7h0M280.3 223.1h0M261.2 233.4h0M283.0 202.6h0M276.6 201.8h0M283.0 218.6h0M260.2 220.7h0M267.0 198.5h0M269.8 223.8h0M256.8 208.0h0M272.4 213.8h0M281.7 236.7h0M276.1 213.7h0M258.5 233.3h0M276.8 227.8h0M277.6 229.1h0M256.5 193.7h0M268.3 199.2h0M263.3 230.4h0M265.6 228.6h0M260.8 230.8h0M272.7 208.3h0M259.4 205.6h0M261.5 226.1h0M258.4 212.5h0M262.3 209.5h0M266.1 210.6h0M258.9 223.6h0M260.9 214.4h0M279.8 207.8h0M261.8 231.9h0M258.1 211.3h0M266.1 194.7h0M258.6 228.2h0M274.8 215.1h0M270.3 196.2h0M259.4 211.6h0M271.6 199.0h0M282.8 234.1h0M272.2 201.1h0M275.1 213.9h0M272.6 218.2h0M266.0 194.5h0M256.5 217.4h0M275.7 200.1h0M264.1 216.2h0M261.1 208.9h0M279.0 221.8h0M281.5 220.7h0M275.2 217.1h0M270.8 216.2h0M270.9 186.3h0M265.7 211.8h0M269.3 238.5h0M259.3 217.3h0M279.2 210.7h0M279.8 218.7h0M263.7 202.5h0M264.6 232.7h0M266.2 235.9h0M275.4 196.9h0M279.7 230.2h0M259.3 230.1h0M268.5 231.4h0M263.6 214.6h0M263.5 227.5h0M263.4 219.4h0M268.4 207.0h0M267.0 193.5h0M271.9 230.6h0M266.8 194.1h0M269.8 227.4h0M281.0 224.8h0M268.0 195.5h0M280.9 213.9h0M277.9 216.6h0M268.1 204.3h0M262.9 214.4h0M270.8 210.3h0M266.4 189.1h0M274.5 230.1h0M257.1 227.5h0M277.1 211.5h0M270.8 225.8h0M271.7 223.5h0M280.8 225.2h0M271.6 189.2h0M272.0 196.4h0M259.5 217.8h0M260.9 209.9h0M273.5 203.2h0M272.2 200.1h0M258.9 229.5h0M258.4 213.5h0M258.4 220.0h0M259.1 203.0h0M276.9 214.7h0M276.3 218.1h0M264.1 234.8h0M258.3 228.1h0M272.1 223.7h0M257.8 206.1h0M271.7 224.6h0M257.7 221.9h0M263.8 214.2h0M270.8 220.1h0M272.5 213.0h0M262.6 194.8h0M271.9 223.2h0M273.2 212.9h0M265.4 223.4h0M258.6 213.4h0M268.5 227.5h0M271.6 230.5h0M259.7 209.2h0M258.0 206.8h0M258.5 229.3h0M268.4 231.5h0M257.2 234.4h0M262.5 224.5h0M272.4 226.7h0M264.9 199.6h0M272.1 230.8h0M274.9 228.8h0M258.8 219.9h0M265.1 216.2h0M267.5 233.9h0M259.0 233.8h0M259.3 192.1h0M274.9 217.5h0M265.9 212.2h0M258.8 233.1h0M268.1 220.4h0M266.9 206.7h0M271.5 228.1h0M279.6 217.4h0M266.4 227.8h0M270.5 209.2h0M257.5 187.7h0M267.3 218.3h0M276.0 209.2h0M256.6 222.5h0M267.3 213.2h0M273.3 230.4h0M264.6 203.2h0M270.4 209.4h0M281.7 212.4h0M263.1 190.3h0M281.1 212.4h0M274.6 193.8h0M276.7 211.1h0M267.9 231.5h0M276.1 219.1h0M282.4 217.7h0M280.0 228.9h0M281.8 227.8h0M257.6 234.9h0M283.3 208.4h0M274.4 203.7h0M256.5 214.6h0M278.0 200.8h0M276.9 208.9h0M264.4 212.5h0M265.2 187.8h0M260.6 212.4h0M256.9 207.7h0M260.9 210.1h0M259.8 235.3h0M263.6 234.3h0M278.1 234.1h0M276.3 231.4h0M271.0 229.8h0M261.2 227.8h0M267.3 236.4h0M258.1 231.9h0M259.0 226.0h0M265.5 227.4h0M259.6 230.4h0M267.4 231.1h0M262.5 230.9h0M280.1 230.1h0M257.1 230.4h0M265.6 233.8h0M258.5 233.7h0M267.6 235.1h0M256.8 233.3h0M269.4 232.8h0M276.7 234.0h0M264.6 229.7h0M267.6 236.4h0M281.4 231.8h0M265.9 233.2h0M281.4 228.9h0M280.8 233.5h0M275.9 231.7h0M274.8 229.1h0M272.0 229.6h0M271.5 227.8h0M269.4 229.2h0M268.7 229.5h0M275.8 232.2h0M277.1 233.1h0M258.5 230.3h0M265.0 228.1h0M265.2 231.7h0M277.1 230.0h0M274.9 227.9h0M279.2 233.1h0M274.6 231.9h0M276.6 235.0h0M276.3 233.6h0M259.6 235.9h0M276.8 231.6h0M280.6 228.6h0M278.8 230.0h0M257.9 230.8h0M270.5 230.0h0M262.6 234.7h0M283.0 233.7h0M267.2 230.2h0M283.2 236.2h0M275.0 232.8h0M267.1 232.7h0M268.9 231.7h0M266.9 233.4h0M273.5 231.1h0M271.4 225.7h0M282.3 231.0h0M257.5 232.2h0M263.5 229.9h0M266.7 230.3h0M265.9 235.9h0M264.1 225.6h0M262.1 231.4h0M267.9 234.4h0M281.6 232.1h0M278.3 230.9h0M265.8 231.6h0M262.7 233.8h0M261.4 230.6h0M279.0 231.4h0M259.4 232.6h0M275.8 227.9h0M271.4 227.5h0M262.7 234.1h0M278.5 231.8h0M262.7 230.0h0M273.3 230.8h0M256.3 231.1h0M281.6 231.8h0M260.0 231.0h0M268.1 233.0h0M279.8 231.6h0M261.7 230.1h0M256.8 229.0h0M266.9 231.5h0M264.1 231.3h0M272.9 235.7h0M273.9 235.1h0M257.2 229.7h0M272.1 229.9h0M267.6 228.2h0M263.8 233.8h0M277.8 232.2h0M279.3 230.6h0M267.6 233.0h0M271.3 229.5h0M281.8 226.5h0M277.0 230.7h0M261.4 230.8h0M263.1 234.6h0M281.0 231.7h0M269.5 232.3h0M282.7 229.6h0M261.2 232.8h0M264.1 232.0h0M276.9 232.1h0M260.1 228.9h0M265.0 233.7h0M277.1 232.9h0M273.6 234.1h0M280.1 229.6h0M275.6 233.5h0M280.8 231.0h0M260.5 229.2h0M266.3 234.5h0M278.0 230.6h0M274.7 230.5h0M292.4 233.6h0M299.3 223.7h0M310.0 233.1h0M309.8 221.8h0M307.9 213.0h0M314.9 221.4h0M310.6 241.4h0M289.6 226.9h0M295.0 227.0h0M292.3 234.7h0M289.4 233.2h0M296.7 234.4h0M313.2 245.4h0M300.1 243.6h0M295.4 227.5h0M312.4 232.1h0M290.3 219.8h0M304.5 224.8h0M312.5 234.7h0M292.5 237.5h0M297.7 225.9h0M306.3 231.9h0M299.2 245.5h0M307.7 237.1h0M291.1 237.7h0M308.8 235.2h0M296.1 227.3h0M297.0 225.4h0M304.9 221.0h0M307.2 233.8h0M304.7 234.1h0M309.2 228.5h0M307.2 233.9h0M304.1 233.4h0M311.1 244.2h0M309.4 242.0h0M300.7 235.9h0M297.8 239.0h0M300.6 233.0h0M307.4 213.3h0M299.6 236.1h0M315.5 239.2h0M299.9 233.2h0M295.4 242.4h0M309.0 240.2h0M296.5 228.7h0M313.4 228.1h0M313.2 224.9h0M308.6 228.8h0M290.8 233.6h0M295.1 226.8h0M313.9 237.9h0M305.7 225.2h0M306.7 247.8h0M291.9 216.2h0M302.3 235.5h0M296.7 227.6h0M297.8 231.1h0M313.7 225.8h0M299.2 241.1h0M295.4 229.4h0M314.2 227.5h0M292.5 227.4h0M293.1 241.3h0M301.6 221.1h0M298.8 231.6h0M298.6 220.8h0M307.2 228.9h0M289.8 237.0h0M290.5 237.4h0M303.4 232.3h0M293.7 246.9h0M292.1 228.9h0M306.3 234.3h0M304.4 226.3h0M292.0 237.3h0M300.0 233.9h0M288.9 242.4h0M305.3 237.8h0M299.5 232.1h0M297.9 234.3h0M292.5 238.3h0M309.5 237.1h0M301.3 231.7h0M292.1 241.8h0M294.0 219.6h0M299.6 232.7h0M300.9 232.2h0M315.1 234.8h0M295.7 229.5h0M300.9 224.1h0M306.2 233.4h0M300.5 244.6h0M310.3 230.0h0M300.5 223.6h0M307.1 232.5h0M299.1 246.6h0M290.9 230.3h0M295.5 226.2h0M300.6 228.1h0M313.9 244.4h0M298.9 226.9h0M310.1 234.5h0M313.3 232.4h0M296.9 246.2h0M289.3 242.4h0M299.9 233.7h0M301.4 243.2h0M311.8 226.6h0M308.8 222.1h0M290.6 228.9h0M289.7 222.8h0M292.7 232.0h0M313.4 244.6h0M312.2 236.0h0M307.8 236.1h0M300.6 231.2h0M298.1 215.0h0M304.5 226.8h0M315.5 235.2h0M327.8 221.9h0M326.3 244.1h0M327.5 235.9h0M323.9 226.7h0M328.8 234.9h0M333.9 215.9h0M332.9 218.0h0M336.0 247.8h0M321.1 228.9h0M336.6 242.7h0M327.6 243.0h0M329.1 243.6h0M337.5 238.1h0M328.0 235.0h0M335.3 219.1h0M322.2 226.2h0M321.6 228.9h0M325.3 230.4h0M341.7 242.2h0M336.5 236.7h0M339.9 223.2h0M338.4 226.0h0M333.3 227.6h0M326.8 246.5h0M343.8 227.7h0M329.4 237.3h0M345.0 235.7h0M345.6 217.7h0M346.2 218.6h0M336.1 236.3h0M328.6 223.8h0M322.3 218.1h0M337.5 215.6h0M345.0 230.2h0M344.2 215.0h0M333.3 218.6h0M328.9 224.4h0M343.2 229.6h0M340.1 230.1h0M326.4 218.3h0M341.0 232.1h0M336.9 237.2h0M324.8 229.7h0M329.7 228.5h0M334.8 243.4h0M371.8 228.5h0M376.1 227.5h0M371.0 226.8h0M355.7 222.1h0M375.8 243.9h0M355.9 239.1h0M371.8 247.3h0M355.1 239.6h0M371.8 214.7h0M374.9 243.3h0M366.3 240.4h0M363.3 228.5h0M353.9 228.9h0M365.1 225.6h0M370.7 232.5h0M362.2 244.9h0M363.5 243.6h0M374.4 221.8h0" stroke="#1a1a1a" stroke-width="0.75" stroke-linecap="square" stroke-opacity="0.85"/><rect x="217.5" y="174.6" width="167.9" height="111.0" fill="none" stroke="#1a1a1a" stroke-width="1.3"/><path d="M215.3 281.0h2.2M215.3 248.4h2.2M215.3 215.8h2.2M215.3 183.2h2.2M237.4 285.6v2.8M269.8 285.6v2.8M302.1 285.6v2.8M334.3 285.6v2.8M366.5 285.6v2.8" stroke="#1a1a1a" stroke-width="1.1"/><text x="215.3" y="283.6" text-anchor="end" style="font-size:7.4px;fill:#222">0</text><text x="215.3" y="251.0" text-anchor="end" style="font-size:7.4px;fill:#222">2</text><text x="215.3" y="218.4" text-anchor="end" style="font-size:7.4px;fill:#222">4</text><text x="215.3" y="185.8" text-anchor="end" style="font-size:7.4px;fill:#222">6</text><text x="237.4" y="295.8" text-anchor="middle" style="font-size:7.4px;fill:#262626">Grp A</text><text x="237.4" y="301.8" text-anchor="middle" style="font-size:5.9px;fill:#262626">20%+</text><text x="269.8" y="295.8" text-anchor="middle" style="font-size:7.4px;fill:#262626">Grp B</text><text x="269.8" y="301.8" text-anchor="middle" style="font-size:5.9px;fill:#262626">81%+</text><text x="302.1" y="295.8" text-anchor="middle" style="font-size:7.4px;fill:#262626">Grp C</text><text x="302.1" y="301.8" text-anchor="middle" style="font-size:5.9px;fill:#262626">20%+</text><text x="334.3" y="295.8" text-anchor="middle" style="font-size:7.4px;fill:#262626">Grp D</text><text x="334.3" y="301.8" text-anchor="middle" style="font-size:5.9px;fill:#262626">12%+</text><text x="366.5" y="295.8" text-anchor="middle" style="font-size:7.4px;fill:#262626">Grp E</text><text x="366.5" y="301.8" text-anchor="middle" style="font-size:5.9px;fill:#262626">11%+</text><text x="383.8" y="189.0" text-anchor="end" style="font-size:11.4px;font-weight:bold;fill:#141414">SRS22A</text><text transform="translate(207.6 232.8) rotate(-90)" text-anchor="middle" style="font-size:7.0px;font-weight:bold;fill:#222">Expression level</text><path d="M237.40 342.58L238.26 343.61L239.13 344.63L240.01 345.66L240.91 346.68L241.85 347.71L242.82 348.74L243.80 349.76L244.75 350.79L245.65 351.81L246.49 352.84L247.35 353.87L248.17 354.89L248.93 355.92L249.57 356.94L250.09 357.97L250.58 359.00L251.05 360.02L251.47 361.05L251.78 362.07L251.97 363.10L251.99 364.13L251.86 365.15L251.62 366.18L251.31 367.20L250.98 368.23L250.60 369.26L250.09 370.28L249.49 371.31L248.85 372.34L248.22 373.36L247.65 374.39L247.08 375.41L246.52 376.44L245.95 377.47L245.39 378.49L244.82 379.52L244.25 380.54L243.67 381.57L243.09 382.60L242.53 383.62L241.99 384.65L241.48 385.67L240.97 386.70L240.48 387.73L240.02 388.75L239.59 389.78L239.20 390.80L238.81 391.83L238.46 392.86L238.19 393.88L238.02 394.91L237.88 395.94L237.77 396.96L237.71 397.99L237.70 399.01L237.70 400.04L237.70 401.07L237.70 402.09L237.70 403.12L237.70 404.14L237.70 405.17L237.70 406.20L237.70 407.22L237.70 408.25L237.70 409.27L237.70 410.30L237.70 411.33L237.70 412.35L237.70 413.38L237.70 414.40L237.70 415.43L237.70 416.46L237.70 417.48L237.70 418.51L237.70 419.53L237.70 420.56L237.70 421.59L237.70 422.61L237.70 423.64L237.70 424.67L237.70 425.69L237.70 426.72L237.70 427.74L237.72 428.77L237.99 429.80L238.36 430.82L238.60 431.85L238.67 432.87L238.70 433.90L236.10 433.90L236.13 432.87L236.20 431.85L236.44 430.82L236.81 429.80L237.08 428.77L237.10 427.74L237.10 426.72L237.10 425.69L237.10 424.67L237.10 423.64L237.10 422.61L237.10 421.59L237.10 420.56L237.10 419.53L237.10 418.51L237.10 417.48L237.10 416.46L237.10 415.43L237.10 414.40L237.10 413.38L237.10 412.35L237.10 411.33L237.10 410.30L237.10 409.27L237.10 408.25L237.10 407.22L237.10 406.20L237.10 405.17L237.10 404.14L237.10 403.12L237.10 402.09L237.10 401.07L237.10 400.04L237.10 399.01L237.09 397.99L237.03 396.96L236.92 395.94L236.78 394.91L236.61 393.88L236.34 392.86L235.99 391.83L235.60 390.80L235.21 389.78L234.78 388.75L234.32 387.73L233.83 386.70L233.32 385.67L232.81 384.65L232.27 383.62L231.71 382.60L231.13 381.57L230.55 380.54L229.98 379.52L229.41 378.49L228.85 377.47L228.28 376.44L227.72 375.41L227.15 374.39L226.58 373.36L225.95 372.34L225.31 371.31L224.71 370.28L224.20 369.26L223.82 368.23L223.49 367.20L223.18 366.18L222.94 365.15L222.81 364.13L222.83 363.10L223.02 362.07L223.33 361.05L223.75 360.02L224.22 359.00L224.71 357.97L225.23 356.94L225.87 355.92L226.63 354.89L227.45 353.87L228.31 352.84L229.15 351.81L230.05 350.79L231.00 349.76L231.98 348.74L232.95 347.71L233.89 346.68L234.79 345.66L235.67 344.63L236.54 343.61L237.40 342.58Z" fill="#ea7262" stroke="#222" stroke-width="0.5"/><path d="M269.80 352.12L269.95 353.04L270.09 353.96L270.23 354.88L270.37 355.80L270.50 356.71L270.63 357.63L270.75 358.55L270.87 359.47L270.98 360.39L271.08 361.31L271.19 362.23L271.29 363.15L271.39 364.07L271.50 364.98L271.62 365.90L271.74 366.82L271.88 367.74L272.01 368.66L272.15 369.58L272.29 370.50L272.43 371.42L272.57 372.34L272.70 373.25L272.83 374.17L272.96 375.09L273.09 376.01L273.23 376.93L273.36 377.85L273.50 378.77L273.65 379.69L273.80 380.61L273.95 381.52L274.10 382.44L274.26 383.36L274.42 384.28L274.60 385.20L274.78 386.12L275.02 387.04L275.32 387.96L275.62 388.88L275.86 389.79L275.99 390.71L275.99 391.63L275.95 392.55L275.88 393.47L275.80 394.39L275.62 395.31L275.31 396.23L274.94 397.14L274.55 398.06L274.21 398.98L273.84 399.90L273.47 400.82L273.11 401.74L272.76 402.66L272.43 403.58L272.11 404.50L271.80 405.41L271.50 406.33L271.19 407.25L270.88 408.17L270.64 409.09L270.52 410.01L270.43 410.93L270.36 411.85L270.31 412.77L270.30 413.68L270.32 414.60L270.36 415.52L270.41 416.44L270.48 417.36L270.64 418.28L270.95 419.20L271.34 420.12L271.74 421.04L272.21 421.95L272.75 422.87L273.38 423.79L274.18 424.71L275.14 425.63L276.18 426.55L277.25 427.47L278.43 428.39L279.65 429.31L280.83 430.22L282.03 431.14L283.10 432.06L283.93 432.98L284.60 433.90L255.00 433.90L255.67 432.98L256.50 432.06L257.57 431.14L258.77 430.22L259.95 429.31L261.17 428.39L262.35 427.47L263.42 426.55L264.46 425.63L265.42 424.71L266.22 423.79L266.85 422.87L267.39 421.95L267.86 421.04L268.26 420.12L268.65 419.20L268.96 418.28L269.12 417.36L269.19 416.44L269.24 415.52L269.28 414.60L269.30 413.68L269.29 412.77L269.24 411.85L269.17 410.93L269.08 410.01L268.96 409.09L268.72 408.17L268.41 407.25L268.10 406.33L267.80 405.41L267.49 404.50L267.17 403.58L266.84 402.66L266.49 401.74L266.13 400.82L265.76 399.90L265.39 398.98L265.05 398.06L264.66 397.14L264.29 396.23L263.98 395.31L263.80 394.39L263.72 393.47L263.65 392.55L263.61 391.63L263.61 390.71L263.74 389.79L263.98 388.88L264.28 387.96L264.58 387.04L264.82 386.12L265.00 385.20L265.18 384.28L265.34 383.36L265.50 382.44L265.65 381.52L265.80 380.61L265.95 379.69L266.10 378.77L266.24 377.85L266.37 376.93L266.51 376.01L266.64 375.09L266.77 374.17L266.90 373.25L267.03 372.34L267.17 371.42L267.31 370.50L267.45 369.58L267.59 368.66L267.72 367.74L267.86 366.82L267.98 365.90L268.10 364.98L268.21 364.07L268.31 363.15L268.41 362.23L268.52 361.31L268.62 360.39L268.73 359.47L268.85 358.55L268.97 357.63L269.10 356.71L269.23 355.80L269.37 354.88L269.51 353.96L269.65 353.04L269.80 352.12Z" fill="#8b9b2a" stroke="#222" stroke-width="0.5"/><path d="M302.10 342.31L302.90 343.34L303.78 344.36L304.72 345.39L305.71 346.42L306.76 347.45L307.84 348.48L309.13 349.51L310.59 350.54L312.02 351.57L313.20 352.60L314.00 353.63L314.74 354.66L315.42 355.69L315.98 356.71L316.39 357.74L316.59 358.77L316.56 359.80L316.38 360.83L316.11 361.86L315.78 362.89L315.42 363.92L314.96 364.95L314.35 365.98L313.66 367.01L312.93 368.03L312.21 369.06L311.54 370.09L310.87 371.12L310.19 372.15L309.51 373.18L308.85 374.21L308.22 375.24L307.64 376.27L307.05 377.30L306.47 378.33L305.93 379.36L305.43 380.38L305.02 381.41L304.71 382.44L304.45 383.47L304.23 384.50L304.03 385.53L303.86 386.56L303.70 387.59L303.54 388.62L303.39 389.65L303.25 390.68L303.11 391.71L302.99 392.73L302.88 393.76L302.78 394.79L302.70 395.82L302.64 396.85L302.57 397.88L302.51 398.91L302.46 399.94L302.42 400.97L302.40 402.00L302.40 403.03L302.40 404.05L302.40 405.08L302.40 406.11L302.40 407.14L302.40 408.17L302.40 409.20L302.40 410.23L302.40 411.26L302.40 412.29L302.40 413.32L302.40 414.35L302.40 415.38L302.40 416.40L302.40 417.43L302.40 418.46L302.40 419.49L302.40 420.52L302.40 421.55L302.40 422.58L302.40 423.61L302.40 424.64L302.40 425.67L302.40 426.70L302.40 427.73L302.43 428.75L302.78 429.78L303.21 430.81L303.41 431.84L303.54 432.87L303.60 433.90L300.60 433.90L300.66 432.87L300.79 431.84L300.99 430.81L301.42 429.78L301.77 428.75L301.80 427.73L301.80 426.70L301.80 425.67L301.80 424.64L301.80 423.61L301.80 422.58L301.80 421.55L301.80 420.52L301.80 419.49L301.80 418.46L301.80 417.43L301.80 416.40L301.80 415.38L301.80 414.35L301.80 413.32L301.80 412.29L301.80 411.26L301.80 410.23L301.80 409.20L301.80 408.17L301.80 407.14L301.80 406.11L301.80 405.08L301.80 404.05L301.80 403.03L301.80 402.00L301.78 400.97L301.74 399.94L301.69 398.91L301.63 397.88L301.56 396.85L301.50 395.82L301.42 394.79L301.32 393.76L301.21 392.73L301.09 391.71L300.95 390.68L300.81 389.65L300.66 388.62L300.50 387.59L300.34 386.56L300.17 385.53L299.97 384.50L299.75 383.47L299.49 382.44L299.18 381.41L298.77 380.38L298.27 379.36L297.73 378.33L297.15 377.30L296.56 376.27L295.98 375.24L295.35 374.21L294.69 373.18L294.01 372.15L293.33 371.12L292.66 370.09L291.99 369.06L291.27 368.03L290.54 367.01L289.85 365.98L289.24 364.95L288.78 363.92L288.42 362.89L288.09 361.86L287.82 360.83L287.64 359.80L287.61 358.77L287.81 357.74L288.22 356.71L288.78 355.69L289.46 354.66L290.20 353.63L291.00 352.60L292.18 351.57L293.61 350.54L295.07 349.51L296.36 348.48L297.44 347.45L298.49 346.42L299.48 345.39L300.42 344.36L301.30 343.34L302.10 342.31Z" fill="#12a067" stroke="#222" stroke-width="0.5"/><path d="M334.30 346.94L336.60 347.92L338.73 348.89L340.63 349.87L342.26 350.85L343.61 351.83L344.82 352.80L345.91 353.78L346.83 354.76L347.52 355.73L348.01 356.71L348.42 357.69L348.67 358.67L348.54 359.64L347.68 360.62L346.50 361.60L345.39 362.57L344.10 363.55L342.70 364.53L341.36 365.50L340.29 366.48L339.57 367.46L338.97 368.44L338.44 369.41L337.98 370.39L337.58 371.37L337.21 372.34L336.89 373.32L336.59 374.30L336.32 375.28L336.08 376.25L335.85 377.23L335.65 378.21L335.46 379.18L335.26 380.16L335.06 381.14L334.87 382.12L334.72 383.09L334.63 384.07L334.60 385.05L334.60 386.02L334.60 387.00L334.60 387.98L334.60 388.95L334.60 389.93L334.60 390.91L334.60 391.89L334.60 392.86L334.60 393.84L334.60 394.82L334.60 395.79L334.60 396.77L334.60 397.75L334.60 398.73L334.60 399.70L334.60 400.68L334.60 401.66L334.60 402.63L334.60 403.61L334.60 404.59L334.60 405.56L334.60 406.54L334.60 407.52L334.60 408.50L334.60 409.47L334.60 410.45L334.60 411.43L334.60 412.40L334.60 413.38L334.60 414.36L334.60 415.34L334.60 416.31L334.60 417.29L334.60 418.27L334.60 419.24L334.60 420.22L334.60 421.20L334.60 422.18L334.60 423.15L334.60 424.13L334.60 425.11L334.60 426.08L334.60 427.06L334.60 428.04L334.60 429.01L334.61 429.99L334.79 430.97L335.04 431.95L335.10 432.92L335.10 433.90L333.50 433.90L333.50 432.92L333.56 431.95L333.81 430.97L333.99 429.99L334.00 429.01L334.00 428.04L334.00 427.06L334.00 426.08L334.00 425.11L334.00 424.13L334.00 423.15L334.00 422.18L334.00 421.20L334.00 420.22L334.00 419.24L334.00 418.27L334.00 417.29L334.00 416.31L334.00 415.34L334.00 414.36L334.00 413.38L334.00 412.40L334.00 411.43L334.00 410.45L334.00 409.47L334.00 408.50L334.00 407.52L334.00 406.54L334.00 405.56L334.00 404.59L334.00 403.61L334.00 402.63L334.00 401.66L334.00 400.68L334.00 399.70L334.00 398.73L334.00 397.75L334.00 396.77L334.00 395.79L334.00 394.82L334.00 393.84L334.00 392.86L334.00 391.89L334.00 390.91L334.00 389.93L334.00 388.95L334.00 387.98L334.00 387.00L334.00 386.02L334.00 385.05L333.97 384.07L333.88 383.09L333.73 382.12L333.54 381.14L333.34 380.16L333.14 379.18L332.95 378.21L332.75 377.23L332.52 376.25L332.28 375.28L332.01 374.30L331.71 373.32L331.39 372.34L331.02 371.37L330.62 370.39L330.16 369.41L329.63 368.44L329.03 367.46L328.31 366.48L327.24 365.50L325.90 364.53L324.50 363.55L323.21 362.57L322.10 361.60L320.92 360.62L320.06 359.64L319.93 358.67L320.18 357.69L320.59 356.71L321.08 355.73L321.77 354.76L322.69 353.78L323.78 352.80L324.99 351.83L326.34 350.85L327.97 349.87L329.87 348.89L332.00 347.92L334.30 346.94Z" fill="#1f8fd4" stroke="#222" stroke-width="0.5"/><path d="M366.50 352.12L368.86 353.04L371.03 353.96L372.93 354.88L374.50 355.80L375.74 356.71L376.81 357.63L377.75 358.55L378.57 359.47L379.28 360.39L379.93 361.31L380.57 362.23L381.01 363.15L381.07 364.07L380.73 364.98L380.11 365.90L379.33 366.82L378.50 367.74L377.73 368.66L376.83 369.58L375.81 370.50L374.80 371.42L373.90 372.34L373.21 373.25L372.60 374.17L372.03 375.09L371.50 376.01L371.04 376.93L370.66 377.85L370.35 378.77L370.12 379.69L369.92 380.61L369.74 381.52L369.57 382.44L369.42 383.36L369.29 384.28L369.16 385.20L369.05 386.12L368.94 387.04L368.83 387.96L368.73 388.88L368.64 389.79L368.55 390.71L368.46 391.63L368.39 392.55L368.31 393.47L368.24 394.39L368.17 395.31L368.09 396.23L368.02 397.14L367.94 398.06L367.84 398.98L367.75 399.90L367.65 400.82L367.58 401.74L367.52 402.66L367.50 403.58L367.50 404.50L367.50 405.41L367.50 406.33L367.50 407.25L367.50 408.17L367.50 409.09L367.50 410.01L367.50 410.93L367.50 411.85L367.50 412.77L367.50 413.68L367.50 414.60L367.50 415.52L367.50 416.44L367.50 417.36L367.50 418.28L367.50 419.20L367.50 420.12L367.50 421.04L367.50 421.95L367.50 422.87L367.50 423.79L367.50 424.71L367.50 425.63L367.50 426.55L367.50 427.47L367.55 428.39L368.05 429.31L368.74 430.22L369.19 431.14L369.35 432.06L369.46 432.98L369.50 433.90L363.50 433.90L363.54 432.98L363.65 432.06L363.81 431.14L364.26 430.22L364.95 429.31L365.45 428.39L365.50 427.47L365.50 426.55L365.50 425.63L365.50 424.71L365.50 423.79L365.50 422.87L365.50 421.95L365.50 421.04L365.50 420.12L365.50 419.20L365.50 418.28L365.50 417.36L365.50 416.44L365.50 415.52L365.50 414.60L365.50 413.68L365.50 412.77L365.50 411.85L365.50 410.93L365.50 410.01L365.50 409.09L365.50 408.17L365.50 407.25L365.50 406.33L365.50 405.41L365.50 404.50L365.50 403.58L365.48 402.66L365.42 401.74L365.35 400.82L365.25 399.90L365.16 398.98L365.06 398.06L364.98 397.14L364.91 396.23L364.83 395.31L364.76 394.39L364.69 393.47L364.61 392.55L364.54 391.63L364.45 390.71L364.36 389.79L364.27 388.88L364.17 387.96L364.06 387.04L363.95 386.12L363.84 385.20L363.71 384.28L363.58 383.36L363.43 382.44L363.26 381.52L363.08 380.61L362.88 379.69L362.65 378.77L362.34 377.85L361.96 376.93L361.50 376.01L360.97 375.09L360.40 374.17L359.79 373.25L359.10 372.34L358.20 371.42L357.19 370.50L356.17 369.58L355.27 368.66L354.50 367.74L353.67 366.82L352.89 365.90L352.27 364.98L351.93 364.07L351.99 363.15L352.43 362.23L353.07 361.31L353.72 360.39L354.43 359.47L355.25 358.55L356.19 357.63L357.26 356.71L358.50 355.80L360.07 354.88L361.97 353.96L364.14 353.04L366.50 352.12Z" fill="#b66cb6" stroke="#222" stroke-width="0.5"/><path d="M246.1 368.0h0M239.3 363.3h0M243.0 361.1h0M239.1 361.8h0M234.6 364.1h0M240.9 351.2h0M230.7 358.4h0M241.8 367.8h0M234.1 370.5h0M238.9 368.9h0M248.6 355.3h0M231.5 355.8h0M226.7 357.9h0M250.3 363.3h0M239.4 358.2h0M232.8 362.7h0M228.5 373.1h0M248.9 361.2h0M238.6 367.5h0M241.0 367.1h0M236.1 373.4h0M226.6 365.1h0M242.1 371.8h0M231.4 372.4h0M227.6 367.8h0M246.0 372.1h0M248.5 360.7h0M246.0 368.0h0M224.4 363.2h0M248.5 352.6h0M234.8 361.4h0M226.9 366.4h0M241.4 359.4h0M223.9 364.3h0M246.1 364.5h0M225.9 362.5h0M226.0 364.9h0M246.0 367.3h0M234.9 366.7h0M234.6 360.9h0M238.4 367.8h0M245.4 353.4h0M233.4 361.2h0M243.0 360.1h0M250.1 361.2h0M233.1 350.2h0M225.7 355.7h0M231.7 378.1h0M250.6 354.0h0M229.1 377.3h0M235.6 373.6h0M236.5 369.7h0M248.5 363.9h0M242.5 367.4h0M228.6 359.7h0M236.0 353.9h0M224.5 366.9h0M226.3 352.0h0M233.8 362.7h0M249.9 360.2h0M234.8 357.1h0M243.0 360.1h0M243.3 365.1h0M228.5 379.8h0M248.6 354.1h0M245.5 369.7h0M245.4 356.7h0M239.1 359.1h0M241.0 365.7h0M225.5 356.5h0M246.0 367.6h0M232.5 374.0h0M227.4 360.6h0M230.8 366.0h0M244.0 372.1h0M234.9 372.2h0M225.7 375.5h0M227.5 353.4h0M243.4 360.4h0M237.6 351.3h0M239.0 374.2h0M236.2 367.6h0M224.3 363.8h0M246.0 363.8h0M245.6 376.1h0M241.3 365.9h0M243.6 368.3h0M233.2 374.4h0M244.9 370.8h0M226.5 375.9h0M224.3 367.7h0M248.6 365.4h0M244.3 369.2h0M231.2 362.5h0M247.8 351.8h0M235.7 363.7h0M239.3 357.2h0M243.4 377.0h0M245.5 360.3h0M247.7 355.2h0M224.9 376.3h0M235.3 351.5h0M229.5 374.7h0M245.9 355.1h0M248.7 367.4h0M243.4 362.5h0M237.8 348.8h0M248.2 355.2h0M236.5 360.5h0M236.1 370.7h0M231.7 371.6h0M227.3 369.1h0M248.4 365.6h0M242.4 363.9h0M235.1 373.8h0M235.7 366.2h0M238.7 362.8h0M225.7 365.5h0M238.0 380.1h0M235.1 361.6h0M233.0 361.0h0M236.1 367.5h0M246.3 374.7h0M236.1 366.7h0M246.0 366.3h0M240.7 358.8h0M236.0 366.4h0M246.5 353.1h0M227.1 357.0h0M231.0 362.4h0M231.9 362.1h0M233.3 379.6h0M234.2 355.1h0M239.3 371.5h0M249.2 370.6h0M250.3 374.1h0M237.2 350.3h0M229.6 362.9h0M243.8 349.2h0M241.3 364.0h0M236.9 376.2h0M232.0 363.6h0M231.7 369.5h0M238.8 369.6h0M225.7 363.9h0M240.5 375.7h0M245.8 356.8h0M239.3 370.1h0M245.4 352.6h0M244.4 371.5h0M244.9 364.0h0M239.6 372.2h0M235.0 360.7h0M228.4 376.9h0M239.0 365.1h0M235.0 367.8h0M243.1 364.0h0M233.8 386.0h0M245.2 376.2h0M239.1 362.5h0M249.9 365.1h0M239.3 347.3h0M229.1 366.9h0M229.6 375.1h0M229.3 362.1h0M246.2 356.7h0M230.5 355.5h0M225.1 383.8h0M239.4 365.3h0M248.3 366.0h0M244.3 359.9h0M234.1 379.2h0M240.5 354.2h0M230.7 370.5h0M242.2 374.8h0M226.0 364.4h0M242.4 362.6h0M244.2 374.3h0M231.6 356.7h0M240.2 361.5h0M239.9 366.5h0M250.0 361.8h0M229.4 360.8h0M229.7 358.7h0M239.4 361.2h0M243.1 362.9h0M240.9 354.9h0M231.9 359.7h0M234.7 356.6h0M227.5 368.7h0M224.5 365.1h0M242.0 361.1h0M244.6 369.5h0M230.8 361.0h0M240.1 344.8h0M249.2 365.1h0M250.1 354.5h0M241.1 377.6h0M226.4 364.1h0M229.6 378.2h0M236.4 365.6h0M224.2 366.6h0M241.1 355.9h0M234.2 356.5h0M224.5 367.4h0M244.5 368.1h0M250.6 354.1h0M244.2 376.8h0M242.6 351.7h0M227.1 354.4h0M248.1 369.7h0M228.0 384.2h0M227.2 359.7h0M233.5 379.7h0M236.1 362.6h0M233.4 344.8h0M236.0 375.5h0M242.3 363.0h0M238.4 376.2h0M244.7 367.5h0M243.6 365.4h0M247.8 356.1h0M243.9 358.4h0M242.8 371.6h0M250.0 360.1h0M228.7 362.7h0M239.4 366.2h0M231.7 368.6h0M232.6 360.9h0M226.9 353.5h0M242.8 368.3h0M230.2 376.5h0M250.2 359.7h0M229.8 363.2h0M232.8 367.0h0M231.2 365.6h0M230.8 362.6h0M240.2 376.5h0M229.4 362.4h0M230.9 355.4h0M242.3 361.9h0M240.4 370.2h0M238.2 364.2h0M224.9 355.9h0M237.1 365.4h0M224.2 365.8h0M232.7 361.5h0M229.3 351.6h0M248.2 363.2h0M234.9 368.8h0M243.1 355.9h0M241.4 359.1h0M242.3 357.0h0M228.9 363.1h0M226.7 359.3h0M236.4 374.7h0M250.2 367.4h0M244.7 372.9h0M232.3 354.7h0M236.4 355.2h0M242.5 361.9h0M232.0 356.3h0M233.1 361.5h0M228.9 368.5h0M247.8 369.9h0M227.3 369.7h0M233.5 367.7h0M234.5 363.2h0M243.8 351.5h0M250.6 372.2h0M239.5 364.0h0M235.6 359.1h0M230.4 370.5h0M227.5 361.7h0M235.7 372.5h0M230.1 367.8h0M238.3 362.6h0M240.6 370.3h0M232.9 371.7h0M227.9 361.9h0M238.3 363.7h0M228.4 363.9h0M242.2 376.6h0M227.7 371.8h0M230.8 358.7h0M249.4 374.7h0M238.8 363.6h0M243.3 366.1h0M236.4 355.7h0M246.1 365.8h0M248.4 369.3h0M238.0 360.6h0M229.8 362.2h0M242.8 365.2h0M250.4 376.0h0M232.8 360.9h0M247.6 371.6h0M227.2 365.9h0M243.2 360.3h0M250.6 365.9h0M245.0 356.9h0M238.7 361.4h0M229.4 368.4h0M232.3 366.4h0M249.5 363.3h0M244.0 352.9h0M234.3 362.7h0M248.4 376.5h0M234.1 360.5h0M229.1 370.6h0M234.4 356.0h0M240.0 351.4h0M235.6 358.6h0M232.5 369.3h0M226.4 360.5h0M249.3 353.0h0M247.8 363.0h0M231.5 366.4h0M248.9 367.7h0M236.4 367.8h0M241.8 363.1h0M233.3 366.0h0M234.9 361.4h0M246.6 362.8h0M236.5 378.1h0M245.7 362.9h0M232.9 377.3h0M232.9 360.7h0M245.8 361.8h0M240.2 366.0h0M239.1 353.4h0M236.7 364.7h0M240.8 362.1h0M245.3 361.3h0M231.4 361.7h0M234.7 368.2h0M231.9 361.0h0M229.0 359.0h0M232.8 361.5h0M244.4 366.2h0M233.3 355.6h0M230.1 360.7h0M239.2 377.4h0M235.3 376.7h0M247.3 351.5h0M239.0 370.5h0M249.2 374.6h0M227.5 366.8h0M238.2 362.0h0M231.2 360.0h0M233.3 376.0h0M236.8 384.6h0M230.9 368.6h0M241.8 368.0h0M248.7 364.2h0M249.9 372.3h0M240.3 368.4h0M226.1 365.2h0M246.0 360.8h0M248.8 371.0h0M233.8 353.4h0M237.9 370.5h0M250.6 373.2h0M244.9 376.6h0M229.3 359.2h0M225.9 361.2h0M250.0 359.0h0M248.8 369.3h0M227.7 366.9h0M246.7 361.3h0M238.4 353.1h0M245.2 364.9h0M232.1 360.7h0M226.1 363.9h0M249.7 362.0h0M245.0 385.7h0M227.3 366.3h0M250.9 368.9h0M236.2 363.5h0M228.7 359.6h0M230.3 349.9h0M238.6 369.4h0M244.0 374.3h0M245.7 361.4h0M227.7 364.9h0M236.1 368.8h0M249.3 357.9h0M228.4 362.9h0M238.3 347.6h0M244.3 361.1h0M247.5 359.6h0M242.3 359.6h0M237.1 364.8h0M229.6 371.8h0M239.4 353.8h0M243.1 356.1h0M229.8 363.0h0M241.7 374.5h0M227.2 355.2h0M244.7 372.4h0M232.3 365.0h0M229.9 347.1h0M228.2 366.8h0M243.6 346.7h0M229.0 367.8h0M249.6 354.7h0M230.5 368.6h0M243.4 369.4h0M238.9 374.3h0M249.9 359.0h0M249.8 374.0h0M227.8 350.9h0M231.1 368.5h0M244.5 360.9h0M231.2 377.9h0M239.5 365.9h0M246.0 374.5h0M230.4 368.0h0M228.3 354.3h0M241.4 361.5h0M230.1 371.8h0M226.6 371.7h0M249.5 390.4h0M240.2 378.0h0M241.8 376.2h0M247.1 389.1h0M240.0 387.2h0M239.0 380.8h0M235.3 370.2h0M247.4 383.3h0M234.6 373.2h0M225.2 395.5h0M245.6 378.3h0M227.7 378.8h0M243.6 387.0h0M231.6 384.0h0M239.3 381.0h0M246.1 377.8h0M227.5 388.7h0M242.9 377.8h0M235.3 380.9h0M245.0 385.0h0M229.2 376.7h0M237.8 382.4h0M250.6 375.4h0M235.2 373.3h0M237.2 366.3h0M238.4 382.2h0M246.5 375.1h0M241.1 382.3h0M242.6 373.9h0M230.0 385.1h0M246.8 377.3h0M227.6 372.5h0M238.2 374.0h0M226.6 376.9h0M234.0 376.8h0M230.6 378.3h0M232.5 379.8h0M243.3 376.1h0M229.6 386.8h0M225.9 368.3h0M225.1 384.9h0M248.1 379.6h0M248.3 375.3h0M238.9 386.4h0M229.1 381.8h0M226.0 375.7h0M228.9 371.3h0M229.4 382.9h0M235.9 383.2h0M243.7 381.0h0M241.1 377.6h0M237.0 376.6h0M248.5 380.3h0M236.8 395.6h0M245.1 374.3h0M236.6 380.3h0M245.3 383.5h0M225.5 378.8h0M230.8 433.7h0M247.5 433.7h0M225.1 433.8h0M231.1 433.9h0M224.5 433.9h0M233.7 433.7h0M232.4 433.8h0M227.3 433.8h0M273.1 390.9h0M269.9 394.4h0M282.0 390.7h0M258.7 393.2h0M272.5 394.7h0M260.5 392.2h0M279.2 392.9h0M259.7 390.0h0M263.6 392.7h0M279.0 393.1h0M271.6 391.9h0M258.2 392.7h0M275.1 393.0h0M269.6 392.4h0M265.5 390.4h0M262.1 392.6h0M279.0 393.1h0M281.4 391.8h0M282.7 392.4h0M258.0 391.5h0M262.9 393.8h0M280.3 389.6h0M273.9 391.7h0M261.4 393.2h0M264.2 390.9h0M276.9 389.7h0M271.2 392.2h0M266.7 392.4h0M265.8 389.8h0M258.2 394.2h0M259.2 391.2h0M274.2 393.4h0M259.7 391.2h0M280.4 392.5h0M272.7 391.9h0M268.6 392.0h0M267.8 393.2h0M270.5 392.8h0M262.6 393.8h0M272.9 391.6h0M274.6 391.6h0M263.0 391.8h0M259.7 390.8h0M265.5 391.9h0M275.1 393.0h0M257.2 393.0h0M281.5 393.0h0M282.1 389.9h0M281.4 391.6h0M277.5 393.3h0M259.5 391.8h0M273.0 393.2h0M279.9 393.4h0M259.8 393.2h0M265.6 393.9h0M256.7 395.3h0M282.6 393.5h0M282.0 390.6h0M259.9 392.9h0M259.5 391.0h0M262.7 392.4h0M260.2 392.4h0M271.7 392.3h0M270.4 390.7h0M279.3 392.0h0M276.1 391.0h0M280.9 391.5h0M281.2 392.0h0M269.0 393.7h0M267.4 392.3h0M270.7 392.7h0M269.0 392.3h0M260.5 393.7h0M269.0 391.0h0M272.2 393.8h0M264.5 392.1h0M277.7 393.1h0M273.6 389.9h0M271.7 392.4h0M258.1 389.4h0M273.9 392.5h0M276.5 389.2h0M257.1 392.3h0M265.5 390.8h0M266.4 392.7h0M258.1 391.7h0M261.0 394.4h0M262.6 390.9h0M276.9 395.1h0M281.7 391.2h0M256.5 390.9h0M260.8 389.8h0M267.1 392.5h0M281.0 390.6h0M259.3 392.1h0M280.3 391.3h0M270.0 389.1h0M274.5 392.2h0M263.2 390.9h0M278.5 393.3h0M274.0 389.2h0M257.8 393.8h0M273.1 393.5h0M283.2 392.3h0M276.8 394.2h0M271.9 390.3h0M266.4 393.0h0M270.0 390.9h0M263.6 393.1h0M271.3 389.9h0M281.2 392.0h0M280.0 390.0h0M262.0 390.7h0M261.2 393.0h0M259.0 390.5h0M279.8 390.9h0M257.8 393.0h0M268.2 394.4h0M274.5 392.6h0M267.8 394.3h0M258.2 391.5h0M272.5 384.9h0M280.1 370.7h0M267.0 396.8h0M277.7 396.2h0M264.0 385.1h0M282.0 376.0h0M282.4 372.3h0M275.4 364.4h0M265.7 387.5h0M256.3 377.5h0M269.8 386.5h0M277.0 384.8h0M278.0 387.2h0M266.4 371.0h0M273.9 382.3h0M282.1 375.1h0M263.2 395.9h0M279.1 384.9h0M259.9 365.7h0M258.7 381.6h0M270.7 399.7h0M260.0 389.9h0M277.5 381.4h0M267.2 362.5h0M271.1 386.8h0M276.8 374.7h0M272.7 379.7h0M272.3 384.5h0M264.7 395.8h0M264.1 404.8h0M282.5 398.6h0M274.0 390.2h0M280.1 396.0h0M273.1 388.0h0M282.4 373.8h0M269.3 376.8h0M281.5 394.8h0M280.3 404.0h0M257.7 406.3h0M258.3 390.9h0M262.6 401.0h0M282.5 388.5h0M259.1 390.0h0M275.0 395.5h0M267.8 377.9h0M275.7 370.6h0M259.0 388.1h0M272.3 406.0h0M279.8 399.6h0M278.1 387.4h0M257.9 391.9h0M281.4 388.0h0M256.4 381.6h0M266.0 398.5h0M268.6 401.6h0M278.3 395.0h0M264.7 379.1h0M270.9 367.8h0M271.1 380.5h0M279.8 402.5h0M273.3 364.8h0M262.8 375.8h0M261.7 384.1h0M265.5 385.7h0M278.4 385.0h0M272.6 375.8h0M268.4 394.7h0M273.8 382.3h0M279.6 383.9h0M282.3 385.9h0M273.1 382.2h0M278.9 365.4h0M266.4 391.1h0M269.2 384.2h0M262.6 395.0h0M277.1 393.2h0M260.6 382.0h0M261.3 375.8h0M264.4 386.3h0M258.1 397.9h0M281.5 389.3h0M269.5 384.8h0M279.8 377.8h0M257.9 372.4h0M275.5 387.2h0M282.8 388.0h0M271.7 366.2h0M258.5 370.1h0M283.0 374.3h0M277.1 379.5h0M266.9 377.6h0M259.6 379.0h0M265.3 363.6h0M270.6 378.5h0M264.1 384.0h0M266.1 384.5h0M278.7 392.1h0M281.7 398.1h0M271.4 358.8h0M270.0 365.7h0M259.3 381.9h0M276.6 378.3h0M261.6 403.7h0M279.2 404.2h0M273.9 390.4h0M263.2 381.9h0M260.7 378.9h0M258.9 404.6h0M274.3 394.5h0M271.2 395.5h0M278.1 385.4h0M257.1 398.8h0M273.1 394.1h0M266.8 401.1h0M272.5 376.8h0M257.0 384.4h0M273.5 395.7h0M256.7 373.5h0M264.7 391.0h0M261.2 380.3h0M278.5 376.0h0M258.2 366.4h0M269.7 403.7h0M259.5 375.6h0M262.3 386.5h0M271.3 403.3h0M278.8 389.3h0M277.1 404.8h0M280.2 377.4h0M282.5 433.9h0M266.5 433.9h0M256.8 433.8h0M266.8 433.8h0M281.1 433.7h0M270.8 433.9h0M261.5 433.8h0M267.3 433.8h0M279.3 433.6h0M260.6 433.8h0M289.3 358.3h0M295.2 351.3h0M306.4 368.0h0M314.1 362.3h0M312.5 355.9h0M308.4 357.3h0M300.1 351.2h0M293.5 363.1h0M313.2 351.8h0M303.7 360.0h0M308.7 359.6h0M293.6 362.4h0M297.2 358.9h0M301.6 368.5h0M299.9 364.3h0M314.0 365.7h0M310.6 366.8h0M294.8 361.2h0M312.9 364.2h0M311.5 361.3h0M298.8 362.9h0M297.9 355.2h0M294.3 355.8h0M300.7 359.1h0M291.3 366.4h0M315.2 361.3h0M298.5 364.2h0M292.5 365.3h0M313.1 352.6h0M314.4 362.8h0M304.5 361.5h0M302.3 363.6h0M305.5 359.9h0M311.5 367.4h0M293.8 365.4h0M303.1 350.7h0M309.6 349.8h0M308.0 362.5h0M296.5 359.0h0M301.8 359.9h0M315.0 362.2h0M299.0 360.9h0M293.2 360.4h0M289.2 362.0h0M304.9 348.8h0M303.9 361.1h0M306.3 363.5h0M308.8 354.8h0M295.8 362.1h0M302.4 362.8h0M314.1 363.0h0M289.0 353.5h0M291.6 351.7h0M296.4 358.6h0M295.1 373.0h0M292.2 355.3h0M310.1 372.7h0M304.3 367.4h0M292.0 349.9h0M289.5 364.3h0M307.6 346.6h0M294.7 365.2h0M310.7 353.8h0M297.5 347.1h0M295.3 351.9h0M293.3 365.7h0M300.1 358.7h0M304.0 363.3h0M309.7 346.5h0M301.8 354.4h0M310.3 353.8h0M292.4 363.4h0M290.9 359.2h0M298.9 358.4h0M303.4 358.6h0M289.9 356.7h0M310.9 364.7h0M315.2 354.7h0M314.6 366.2h0M301.8 359.9h0M293.1 365.6h0M313.3 355.8h0M299.8 376.0h0M307.2 366.9h0M294.8 371.2h0M289.0 361.5h0M311.9 367.9h0M289.1 366.2h0M304.4 361.6h0M300.3 356.3h0M299.8 358.0h0M312.8 358.6h0M292.9 360.3h0M305.8 357.7h0M290.2 359.6h0M295.1 361.2h0M295.9 375.8h0M310.5 362.2h0M291.0 356.2h0M299.3 362.8h0M290.0 352.8h0M292.1 358.3h0M314.4 366.8h0M296.9 370.2h0M314.6 362.4h0M310.5 358.1h0M297.7 353.5h0M290.7 357.5h0M312.0 370.5h0M306.7 357.4h0M301.6 353.2h0M306.0 363.4h0M301.1 362.9h0M289.5 344.3h0M292.1 357.9h0M290.0 371.2h0M300.9 359.0h0M296.7 362.8h0M300.8 362.7h0M291.1 377.1h0M293.2 364.6h0M301.5 379.6h0M315.3 356.3h0M295.1 365.1h0M302.9 357.1h0M302.4 364.4h0M290.0 363.0h0M305.0 355.0h0M300.9 354.1h0M314.5 359.3h0M314.9 367.0h0M301.9 358.4h0M299.6 365.7h0M289.2 357.6h0M296.3 364.8h0M300.3 348.1h0M294.3 359.5h0M303.8 365.2h0M289.9 372.5h0M313.9 361.3h0M310.2 354.9h0M315.0 359.2h0M312.3 361.8h0M314.2 368.9h0M303.5 347.3h0M295.2 362.9h0M292.6 352.7h0M310.9 358.8h0M312.4 350.3h0M306.1 361.9h0M305.8 379.5h0M312.3 363.1h0M292.4 361.6h0M302.3 359.6h0M300.5 361.2h0M291.7 363.8h0M312.5 371.8h0M297.4 357.2h0M301.1 363.2h0M307.3 361.2h0M307.4 380.6h0M309.9 359.6h0M295.4 346.3h0M290.7 359.4h0M292.4 360.7h0M303.1 364.0h0M300.0 356.5h0M295.3 363.5h0M314.3 366.8h0M308.0 349.2h0M311.1 358.6h0M302.1 357.9h0M298.5 361.7h0M315.4 355.6h0M289.4 362.6h0M289.3 363.3h0M304.3 365.0h0M313.7 358.0h0M295.0 380.5h0M288.8 350.5h0M293.2 359.3h0M308.5 357.6h0M295.2 373.9h0M308.6 359.9h0M289.0 357.1h0M304.6 369.0h0M305.5 362.2h0M312.7 360.8h0M314.1 365.3h0M311.0 369.1h0M314.2 361.5h0M301.9 372.7h0M292.4 360.8h0M293.5 365.8h0M290.9 370.5h0M311.0 361.8h0M298.4 354.7h0M293.2 361.9h0M312.6 353.3h0M296.7 359.2h0M291.0 360.8h0M307.2 366.6h0M305.1 350.7h0M296.3 354.4h0M290.7 354.4h0M294.0 358.6h0M297.3 362.6h0M308.6 361.2h0M291.4 369.8h0M299.9 353.4h0M297.8 370.9h0M295.8 358.6h0M300.9 365.7h0M311.8 361.1h0M311.2 368.1h0M300.2 361.4h0M315.2 365.3h0M296.6 345.3h0M304.0 347.9h0M314.0 360.1h0M310.8 356.7h0M300.8 364.3h0M296.3 362.3h0M303.4 365.4h0M293.1 370.5h0M305.9 362.2h0M291.6 368.0h0M307.2 364.6h0M291.1 358.2h0M307.0 358.3h0M312.1 359.6h0M314.2 357.3h0M308.7 363.9h0M299.2 368.4h0M311.4 362.6h0M307.9 369.6h0M311.8 357.0h0M305.4 359.0h0M302.5 370.2h0M307.6 364.2h0M307.9 363.4h0M297.5 366.9h0M305.1 357.3h0M310.5 363.2h0M305.9 357.7h0M315.0 368.7h0M311.9 368.1h0M303.7 354.2h0M293.5 363.2h0M305.4 355.2h0M294.2 356.4h0M305.7 368.8h0M301.6 358.9h0M306.9 360.3h0M293.2 360.8h0M303.8 350.5h0M292.3 358.0h0M299.7 354.6h0M301.3 366.6h0M314.7 352.3h0M305.7 356.0h0M307.2 349.1h0M297.6 352.2h0M308.2 363.5h0M299.2 359.8h0M313.7 357.5h0M297.0 369.9h0M304.5 351.7h0M304.6 360.8h0M303.0 372.0h0M299.1 352.5h0M294.0 366.3h0M314.7 361.4h0M290.2 370.1h0M296.0 358.2h0M312.3 356.7h0M306.8 361.8h0M290.2 354.6h0M299.1 362.6h0M303.9 359.4h0M315.3 369.5h0M308.8 372.2h0M289.6 352.2h0M293.6 362.3h0M306.3 363.9h0M291.2 362.3h0M306.4 370.0h0M290.5 356.9h0M297.3 359.7h0M314.2 359.2h0M291.2 359.5h0M302.2 361.1h0M293.7 370.0h0M301.8 352.3h0M292.5 359.3h0M292.9 351.0h0M304.0 366.3h0M297.8 364.2h0M302.8 349.2h0M309.2 355.2h0M301.9 366.5h0M313.4 357.5h0M312.2 353.2h0M313.1 353.4h0M302.7 359.8h0M293.0 361.2h0M296.4 347.8h0M300.2 347.5h0M300.1 360.6h0M312.9 363.0h0M296.5 361.2h0M310.2 348.1h0M310.8 365.4h0M297.5 355.3h0M298.7 364.4h0M296.0 370.0h0M291.7 348.7h0M291.8 361.7h0M313.6 361.3h0M291.4 366.3h0M288.7 369.3h0M305.5 364.2h0M296.1 361.3h0M289.6 371.5h0M309.6 362.6h0M315.6 366.3h0M313.3 356.1h0M300.0 344.3h0M303.8 349.2h0M307.1 362.9h0M292.7 368.2h0M293.7 361.0h0M294.0 352.1h0M310.2 357.2h0M299.4 349.2h0M314.1 369.4h0M295.8 355.6h0M307.2 370.3h0M291.9 358.8h0M296.4 352.6h0M303.8 359.6h0M303.5 365.9h0M307.5 356.9h0M312.1 366.3h0M309.5 360.0h0M300.8 352.6h0M302.8 350.9h0M303.8 366.4h0M311.4 370.0h0M308.9 361.4h0M311.6 361.9h0M290.6 369.2h0M310.5 356.5h0M293.8 358.3h0M304.6 353.2h0M305.9 350.2h0M307.5 350.3h0M296.9 366.9h0M298.7 358.1h0M306.3 369.4h0M296.2 355.8h0M298.2 367.2h0M313.8 357.2h0M290.9 358.5h0M298.5 360.0h0M290.0 352.1h0M310.9 350.5h0M300.4 371.5h0M307.6 357.7h0M300.0 361.1h0M291.9 361.7h0M305.8 358.2h0M309.9 368.8h0M305.8 360.0h0M297.5 353.4h0M299.3 360.0h0M307.4 359.4h0M295.6 355.4h0M303.3 365.9h0M313.9 353.9h0M307.0 357.4h0M288.6 374.9h0M308.1 353.6h0M294.4 364.9h0M308.1 367.6h0M294.8 362.3h0M290.5 355.9h0M298.8 362.2h0M298.2 362.8h0M296.8 367.6h0M291.4 361.6h0M299.5 355.9h0M299.5 360.1h0M299.5 357.4h0M288.9 357.1h0M308.6 355.7h0M309.4 363.1h0M307.6 355.3h0M295.2 354.6h0M295.7 360.5h0M313.4 355.7h0M291.4 348.8h0M307.0 372.5h0M311.3 364.7h0M309.6 357.5h0M308.8 362.5h0M299.9 367.1h0M288.9 370.3h0M312.5 359.4h0M298.9 358.2h0M293.7 368.1h0M315.4 359.3h0M296.9 359.2h0M305.1 359.1h0M306.3 367.0h0M302.7 360.7h0M290.4 362.1h0M289.2 364.2h0M308.6 372.8h0M308.1 362.7h0M301.1 355.7h0M289.1 351.2h0M313.9 360.8h0M293.6 352.3h0M313.6 356.3h0M305.9 357.2h0M305.4 358.4h0M300.6 365.6h0M298.4 360.3h0M302.7 358.7h0M312.4 354.6h0M314.6 373.2h0M300.9 374.5h0M306.9 363.3h0M298.4 345.9h0M305.0 360.2h0M297.1 379.4h0M306.5 365.2h0M294.1 366.0h0M299.0 356.3h0M291.0 366.3h0M297.8 362.3h0M297.0 350.6h0M292.1 352.3h0M313.8 357.8h0M299.9 366.8h0M306.5 369.1h0M305.4 366.0h0M298.1 349.1h0M300.3 356.7h0M314.9 348.4h0M302.1 354.1h0M312.7 358.9h0M302.2 362.6h0M311.5 351.2h0M297.5 359.4h0M308.0 354.2h0M300.5 357.3h0M300.5 350.8h0M313.4 357.8h0M294.9 370.1h0M303.7 362.9h0M290.2 354.2h0M289.5 369.2h0M299.3 360.4h0M294.5 356.5h0M312.9 360.8h0M302.9 360.7h0M289.6 357.3h0M297.1 347.5h0M313.0 364.7h0M298.0 361.7h0M309.7 371.5h0M299.0 364.4h0M298.7 360.8h0M296.2 372.5h0M291.8 350.1h0M296.5 362.6h0M313.9 365.8h0M294.8 351.7h0M299.5 362.2h0M295.8 353.8h0M305.9 362.2h0M296.1 360.0h0M315.5 364.7h0M313.9 363.1h0M294.7 347.8h0M295.4 356.4h0M294.8 358.6h0M296.1 360.0h0M310.0 361.3h0M295.9 365.1h0M305.5 370.5h0M315.2 364.1h0M306.2 362.7h0M297.6 364.0h0M297.6 364.7h0M312.9 355.1h0M295.1 350.4h0M312.5 356.5h0M302.0 354.9h0M293.9 368.0h0M302.3 360.0h0M302.9 360.0h0M311.5 364.9h0M293.4 363.0h0M304.4 353.4h0M301.3 353.0h0M298.1 355.0h0M310.9 358.6h0M314.0 366.7h0M301.8 350.7h0M292.2 356.1h0M305.0 358.2h0M311.0 356.0h0M294.5 359.9h0M313.8 364.1h0M307.3 367.0h0M306.2 364.9h0M310.9 354.9h0M311.8 379.0h0M294.6 368.6h0M307.4 366.3h0M314.7 382.3h0M299.5 372.8h0M292.2 378.5h0M314.6 377.9h0M311.3 377.1h0M310.3 376.6h0M294.5 375.8h0M306.4 375.3h0M314.5 363.4h0M295.9 364.0h0M308.8 381.2h0M310.9 369.5h0M289.5 369.2h0M293.1 379.1h0M289.3 372.0h0M295.4 370.3h0M314.6 378.7h0M296.3 383.3h0M290.4 374.9h0M303.5 382.1h0M314.6 387.4h0M305.1 368.8h0M312.2 376.0h0M305.0 372.6h0M302.0 389.7h0M302.9 367.3h0M304.8 384.1h0M297.0 377.7h0M309.8 378.8h0M315.5 364.1h0M305.3 378.0h0M307.1 365.2h0M301.3 367.9h0M304.5 363.1h0M294.8 370.7h0M307.5 387.3h0M302.3 372.4h0M309.6 374.0h0M308.2 377.0h0M292.1 371.3h0M304.7 376.9h0M308.7 377.2h0M310.4 377.4h0M304.8 366.6h0M295.4 378.3h0M310.1 369.9h0M291.4 375.2h0M289.0 375.4h0M313.3 381.3h0M315.4 372.3h0M303.7 379.5h0M312.4 385.1h0M296.0 369.0h0M307.1 373.5h0M314.1 379.5h0M309.9 377.7h0M308.1 374.8h0M297.4 371.6h0M313.7 376.0h0M304.8 374.3h0M307.7 371.8h0M300.4 371.0h0M297.6 376.3h0M301.0 367.3h0M315.1 378.1h0M292.6 373.8h0M296.9 372.0h0M294.2 376.3h0M296.3 376.3h0M292.7 373.2h0M299.1 380.7h0M301.1 375.0h0M296.9 385.1h0M306.8 369.4h0M299.6 376.5h0M297.3 375.7h0M307.2 375.3h0M309.4 384.3h0M295.3 376.2h0M291.8 377.0h0M289.0 382.0h0M293.1 381.5h0M291.9 378.4h0M301.3 381.9h0M311.9 377.0h0M312.4 383.8h0M299.2 371.6h0M302.5 378.7h0M300.8 375.1h0M312.1 367.1h0M302.5 389.2h0M290.8 375.2h0M296.6 368.0h0M300.8 373.5h0M300.0 368.8h0M315.0 373.3h0M299.0 377.3h0M313.8 376.3h0M314.4 366.8h0M302.7 366.8h0M310.9 363.6h0M299.6 369.5h0M305.2 384.7h0M300.0 374.0h0M300.0 375.3h0M314.6 385.6h0M302.8 373.5h0M291.2 433.8h0M296.9 433.8h0M307.8 433.8h0M306.3 433.8h0M310.9 433.8h0M291.6 433.9h0M308.8 433.7h0M311.6 433.7h0M310.4 433.9h0M310.4 433.7h0M337.9 357.7h0M341.6 355.7h0M346.0 360.2h0M329.0 354.0h0M332.8 359.3h0M343.6 358.5h0M340.0 362.8h0M333.5 363.6h0M331.4 362.5h0M327.1 361.0h0M340.8 353.4h0M331.8 358.7h0M338.5 360.2h0M327.7 355.7h0M329.1 354.0h0M342.0 362.5h0M340.6 362.2h0M342.6 358.7h0M342.4 355.9h0M338.7 370.3h0M342.0 357.7h0M340.2 360.5h0M322.5 357.7h0M339.9 366.6h0M347.3 360.6h0M332.3 360.7h0M338.7 362.6h0M335.9 361.9h0M326.4 355.6h0M335.6 357.9h0M338.7 356.6h0M333.7 352.2h0M347.8 357.6h0M343.0 368.3h0M334.6 361.6h0M338.5 360.5h0M322.7 364.4h0M343.7 364.6h0M324.0 356.7h0M323.7 349.2h0M336.1 363.1h0M339.7 360.6h0M342.3 359.6h0M343.0 362.9h0M327.7 360.1h0M344.6 364.1h0M331.5 356.0h0M335.6 363.4h0M338.9 355.0h0M332.4 363.3h0M343.9 358.1h0M337.3 363.7h0M329.0 354.5h0M326.1 352.9h0M322.4 363.0h0M328.5 357.8h0M339.2 351.9h0M338.1 351.8h0M325.3 359.8h0M323.5 358.8h0M331.5 358.5h0M323.9 360.4h0M322.2 367.0h0M326.0 362.2h0M321.8 361.2h0M345.9 364.2h0M321.8 359.2h0M342.3 351.4h0M324.2 364.2h0M332.8 358.9h0M326.6 355.9h0M339.9 360.1h0M339.0 352.5h0M336.7 351.0h0M323.6 357.0h0M330.6 357.2h0M347.7 355.6h0M338.1 357.2h0M346.6 360.3h0M343.3 361.4h0M330.1 353.6h0M345.7 357.9h0M346.2 363.4h0M334.0 361.5h0M334.8 359.0h0M330.2 358.8h0M335.2 354.4h0M333.9 358.3h0M339.9 360.6h0M347.1 359.9h0M337.0 365.2h0M324.1 365.4h0M326.7 364.6h0M344.3 358.5h0M346.1 358.3h0M322.8 361.1h0M326.2 363.4h0M346.7 357.3h0M343.5 355.5h0M337.9 360.9h0M337.5 363.4h0M337.5 352.6h0M340.7 361.3h0M339.0 352.5h0M322.6 356.3h0M341.7 359.6h0M334.1 355.0h0M325.3 355.1h0M345.5 359.2h0M339.4 357.6h0M343.6 357.9h0M323.7 361.7h0M328.7 354.9h0M334.3 359.8h0M330.1 355.4h0M347.6 357.7h0M325.0 355.6h0M323.0 359.8h0M344.7 360.8h0M325.7 354.6h0M332.9 360.8h0M347.1 353.6h0M321.5 358.5h0M322.3 354.0h0M338.0 357.7h0M325.8 359.5h0M335.4 360.9h0M345.9 359.5h0M343.6 358.0h0M334.3 352.7h0M338.7 361.7h0M327.8 357.9h0M334.4 358.8h0M330.2 362.4h0M335.3 362.5h0M343.2 352.0h0M341.1 358.3h0M329.7 360.7h0M340.4 359.2h0M338.8 360.0h0M328.5 356.5h0M323.9 359.4h0M334.7 357.6h0M323.8 360.1h0M326.1 355.2h0M341.7 360.2h0M322.5 357.0h0M346.5 355.3h0M333.0 354.7h0M345.3 365.9h0M339.6 359.9h0M335.6 353.8h0M344.1 358.5h0M339.9 358.4h0M329.9 354.2h0M336.4 350.3h0M326.8 352.7h0M340.7 356.5h0M332.0 360.5h0M345.9 358.9h0M335.7 360.9h0M325.4 356.9h0M329.0 358.1h0M347.6 364.8h0M328.4 362.7h0M337.0 361.0h0M329.0 361.2h0M333.7 356.9h0M333.1 357.5h0M339.3 358.8h0M339.5 359.1h0M328.1 359.9h0M334.2 356.8h0M328.5 365.7h0M334.4 358.7h0M321.1 357.4h0M341.7 360.1h0M339.0 355.6h0M347.2 358.2h0M336.3 357.3h0M337.9 361.0h0M326.5 357.8h0M332.2 354.7h0M341.2 359.6h0M341.0 359.3h0M342.3 356.4h0M333.3 361.7h0M345.5 361.8h0M347.4 357.5h0M338.8 361.8h0M325.9 357.4h0M338.0 352.8h0M333.8 359.2h0M328.1 363.9h0M346.8 362.2h0M336.6 364.6h0M345.3 354.9h0M333.8 357.8h0M343.4 358.1h0M342.7 362.6h0M335.7 354.9h0M338.2 361.4h0M339.9 363.7h0M332.7 355.3h0M324.5 358.3h0M336.3 359.7h0M325.5 360.7h0M346.5 357.0h0M323.8 364.0h0M326.7 358.3h0M323.2 355.6h0M337.5 356.0h0M326.3 367.7h0M325.1 352.2h0M324.4 356.1h0M346.3 360.8h0M340.5 360.4h0M334.3 351.2h0M341.6 363.5h0M329.7 350.6h0M334.4 354.5h0M331.6 358.0h0M330.1 351.6h0M347.1 356.4h0M327.7 352.6h0M331.0 354.7h0M326.8 362.7h0M332.1 350.9h0M334.9 362.9h0M346.5 354.2h0M338.1 349.0h0M323.8 359.7h0M346.0 357.3h0M345.9 354.5h0M330.1 353.6h0M326.8 362.8h0M323.9 360.0h0M347.1 360.6h0M339.8 361.2h0M334.5 360.3h0M345.8 364.9h0M328.9 359.0h0M323.7 357.5h0M337.7 367.1h0M346.1 358.8h0M335.6 358.4h0M338.5 356.5h0M340.7 356.2h0M331.7 353.1h0M324.5 351.0h0M327.8 360.3h0M333.7 360.2h0M327.8 358.2h0M344.8 360.9h0M327.9 362.2h0M334.1 363.7h0M333.8 358.1h0M321.7 363.2h0M346.1 358.8h0M340.7 354.7h0M340.8 353.5h0M341.2 352.8h0M328.4 363.2h0M326.3 358.1h0M325.1 361.3h0M332.4 363.9h0M342.6 350.7h0M330.1 356.7h0M342.4 354.3h0M335.3 368.6h0M327.0 353.4h0M324.8 350.8h0M343.5 363.3h0M347.0 350.3h0M346.7 356.0h0M327.7 360.6h0M344.8 356.1h0M343.9 357.4h0M344.1 362.7h0M344.8 355.9h0M324.0 364.1h0M330.4 361.1h0M330.0 356.5h0M330.6 348.5h0M324.9 363.5h0M344.5 360.0h0M333.9 361.2h0M339.5 360.1h0M322.8 355.0h0M345.6 356.0h0M341.5 360.3h0M344.4 358.0h0M331.4 360.5h0M324.4 361.9h0M339.4 360.5h0M339.5 367.1h0M325.0 354.8h0M346.5 358.1h0M328.8 363.7h0M330.5 362.9h0M328.4 356.2h0M322.9 359.7h0M322.7 362.5h0M341.4 348.9h0M336.4 354.2h0M336.2 363.4h0M337.5 358.2h0M327.9 358.0h0M325.5 356.3h0M345.0 352.7h0M328.4 352.6h0M334.6 356.0h0M346.2 354.2h0M326.3 355.2h0M346.4 360.9h0M327.6 361.3h0M337.3 356.7h0M343.1 350.3h0M338.4 357.0h0M333.2 363.1h0M321.3 356.0h0M321.1 358.8h0M331.0 368.8h0M331.1 356.8h0M341.1 362.6h0M330.4 356.2h0M322.7 353.8h0M333.1 358.4h0M344.3 360.1h0M336.4 358.6h0M335.5 363.8h0M333.5 370.9h0M334.3 372.9h0M331.1 370.1h0M333.0 383.1h0M336.2 374.3h0M347.7 375.5h0M333.1 369.5h0M345.7 383.3h0M326.0 366.4h0M334.2 374.0h0M338.8 376.2h0M322.1 384.5h0M326.7 366.0h0M343.6 381.0h0M344.0 373.7h0M329.0 371.8h0M323.7 373.8h0M334.9 367.2h0M323.1 367.5h0M328.7 365.8h0M323.0 368.1h0M338.4 369.6h0M344.0 369.3h0M344.6 379.3h0M339.9 378.6h0M327.5 363.4h0M324.3 373.5h0M342.9 365.7h0M335.1 369.0h0M331.1 369.1h0M340.6 368.0h0M323.0 373.9h0M332.9 371.6h0M323.8 367.3h0M346.4 379.6h0M327.3 368.7h0M332.2 365.7h0M342.1 371.4h0M339.4 368.3h0M328.4 433.9h0M343.6 433.9h0M322.2 433.8h0M328.9 433.9h0M346.0 433.7h0M323.7 433.7h0M369.9 368.4h0M368.1 362.9h0M355.6 357.8h0M353.7 363.0h0M372.4 365.6h0M365.5 371.8h0M366.2 364.7h0M355.4 371.5h0M376.6 368.0h0M373.2 364.6h0M362.1 364.2h0M354.7 365.3h0M363.3 364.9h0M354.0 363.6h0M378.0 366.4h0M377.2 365.3h0M357.5 359.1h0M379.6 364.3h0M379.5 363.9h0M371.3 365.6h0M362.5 365.1h0M364.5 366.2h0M353.5 359.8h0M355.4 365.3h0M356.0 365.3h0M371.3 370.6h0M364.6 357.4h0M363.2 370.0h0M377.2 368.2h0M362.9 363.3h0M361.4 363.2h0M373.0 356.9h0M376.2 366.1h0M356.2 369.7h0M360.9 366.8h0M379.7 366.6h0M357.2 363.8h0M378.8 368.0h0M358.3 364.4h0M355.4 365.9h0M362.6 369.7h0M353.9 367.3h0M379.7 364.6h0M366.2 365.4h0M370.0 368.4h0M378.0 362.5h0M373.3 358.1h0M357.4 363.5h0M361.4 362.1h0M361.9 360.5h0M367.6 360.7h0M371.4 363.6h0M354.6 355.8h0M370.5 370.2h0M361.6 357.4h0M358.2 374.4h0M365.1 357.7h0M359.6 368.6h0M373.0 357.7h0M370.4 365.3h0M367.0 357.0h0M372.4 366.1h0M379.1 362.6h0M357.0 360.9h0M375.2 372.6h0M363.6 357.5h0M358.6 371.4h0M379.6 359.5h0M365.0 366.1h0M358.5 365.6h0M368.1 359.7h0M366.0 361.9h0M357.7 372.9h0M366.7 374.0h0M372.9 359.1h0M365.2 365.1h0M357.2 367.1h0M368.7 361.4h0M374.9 362.3h0M378.2 369.7h0M357.8 360.2h0M360.2 361.6h0M366.1 355.3h0M368.5 358.6h0M359.5 365.9h0M356.6 367.7h0M354.3 370.9h0M356.2 365.1h0M366.6 371.0h0M356.6 359.5h0M354.6 359.4h0M361.0 370.2h0M359.7 366.6h0M363.3 367.4h0M375.2 367.1h0M366.7 361.6h0M368.0 357.6h0M363.3 355.4h0M358.7 357.0h0M355.6 364.9h0M371.4 355.8h0M373.6 365.1h0M370.2 365.2h0M369.7 362.5h0M357.3 363.7h0M367.5 354.9h0M362.8 354.8h0M379.7 361.4h0M368.8 361.9h0M353.3 369.2h0M360.7 369.7h0M356.5 384.6h0M361.7 387.5h0M375.9 393.3h0M353.1 372.5h0M363.4 392.5h0M378.3 392.4h0M361.8 385.3h0M367.3 391.9h0M354.0 388.2h0M364.2 391.5h0M377.3 385.5h0M373.9 372.4h0M363.3 378.0h0M362.9 380.4h0M375.6 371.1h0M357.6 378.8h0M355.7 375.9h0M364.3 386.0h0M368.8 370.3h0M373.4 375.2h0M363.5 382.8h0M379.9 377.0h0M372.9 375.2h0M370.1 381.3h0M353.0 433.8h0M376.8 433.7h0M354.9 433.9h0M353.2 433.8h0M367.6 433.8h0M353.6 433.8h0M374.3 433.7h0M376.2 433.9h0" stroke="#1a1a1a" stroke-width="0.75" stroke-linecap="square" stroke-opacity="0.85"/><rect x="217.5" y="327.3" width="168.5" height="111.3" fill="none" stroke="#1a1a1a" stroke-width="1.3"/><path d="M215.3 433.9h2.2M215.3 406.6h2.2M215.3 379.4h2.2M215.3 352.1h2.2M237.4 438.6v2.8M269.8 438.6v2.8M302.1 438.6v2.8M334.3 438.6v2.8M366.5 438.6v2.8" stroke="#1a1a1a" stroke-width="1.1"/><text x="215.3" y="436.5" text-anchor="end" style="font-size:7.4px;fill:#222">0</text><text x="215.3" y="409.2" text-anchor="end" style="font-size:7.4px;fill:#222">2</text><text x="215.3" y="382.0" text-anchor="end" style="font-size:7.4px;fill:#222">4</text><text x="215.3" y="354.7" text-anchor="end" style="font-size:7.4px;fill:#222">6</text><text x="237.4" y="448.5" text-anchor="middle" style="font-size:7.5px;fill:#262626">Grp A</text><text x="237.4" y="457.1" text-anchor="middle" style="font-size:7.5px;fill:#262626">99%+</text><text x="269.8" y="448.5" text-anchor="middle" style="font-size:7.5px;fill:#262626">Grp B</text><text x="269.8" y="457.1" text-anchor="middle" style="font-size:7.5px;fill:#262626">43%+</text><text x="302.1" y="448.5" text-anchor="middle" style="font-size:7.5px;fill:#262626">Grp C</text><text x="302.1" y="457.1" text-anchor="middle" style="font-size:7.5px;fill:#262626">98%+</text><text x="334.3" y="448.5" text-anchor="middle" style="font-size:7.5px;fill:#262626">Grp D</text><text x="334.3" y="457.1" text-anchor="middle" style="font-size:7.5px;fill:#262626">99%+</text><text x="366.5" y="448.5" text-anchor="middle" style="font-size:7.5px;fill:#262626">Grp E</text><text x="366.5" y="457.1" text-anchor="middle" style="font-size:7.5px;fill:#262626">96%+</text><text x="383.5" y="340.3" text-anchor="end" style="font-size:11.4px;font-weight:bold;fill:#141414">BAG1</text><text transform="translate(207.9 385.6) rotate(-90)" text-anchor="middle" style="font-size:7.0px;font-weight:bold;fill:#222">Expression level</text><text x="57.6" y="171.0" style="font-size:11.9px;fill:#333">Group B is the major source of SRS22A+ bradyzoites</text><path d="M57.6 172.4h281.4" stroke="#333" stroke-width="0.9"/><text x="12.8" y="321.9" style="font-size:11.77px;fill:#333">BAG1 is not uniformly expressed in ME49EW bradyzoites from mice</text><path d="M12.8 323.3h355.2" stroke="#333" stroke-width="0.9"/><text x="211.2" y="477.6" style="font-size:11.75px;fill:#333">Group B GRA mRNA expression</text><path d="M211.2 479.0h169.1" stroke="#333" stroke-width="0.9"/><text x="1.1" y="617.2" style="font-size:11.72px;fill:#333">Groups C &amp; D mRNA expression</text><path d="M1.1 618.6h170.0" stroke="#333" stroke-width="0.9"/><text x="213.6" y="617.4" style="font-size:11.6px;fill:#333">Groups A &amp; E mRNA expression</text><path d="M213.6 618.8h165.7" stroke="#333" stroke-width="0.9"/>
</svg></body></html>
